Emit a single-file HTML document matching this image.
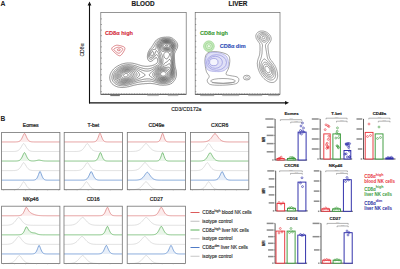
<!DOCTYPE html><html><head><meta charset="utf-8"><style>html,body{margin:0;padding:0;background:#fff;width:400px;height:269px;overflow:hidden}svg{display:block;font-family:"Liberation Sans",sans-serif}</style></head><body>
<svg width="400" height="269" viewBox="0 0 400 269">
<rect width="400" height="269" fill="#fff"/>
<text x="0.5" y="5.9" font-size="6.8" font-weight="bold" fill="#222">A</text>
<line x1="89.5" y1="4" x2="89.5" y2="103.4" stroke="#111" stroke-width="1.1"/>
<path d="M87.6 5.6 L89.5 1.6 L91.4 5.6Z" fill="#111"/>
<line x1="89" y1="102.8" x2="286" y2="102.8" stroke="#111" stroke-width="1.3"/>
<path d="M285 100.9 L289 102.8 L285 104.7Z" fill="#111"/>
<text transform="translate(83.6 50) rotate(-90)" font-size="5.1" text-anchor="middle" fill="#222" stroke="#222" stroke-width="0.1">CD8α</text>
<text x="186.3" y="111.4" font-size="5.1" text-anchor="middle" fill="#222" stroke="#222" stroke-width="0.15">CD3/CD172a</text>
<text x="143.1" y="6.3" font-size="6.4" font-weight="bold" text-anchor="middle" fill="#1a1a1a" stroke="#1a1a1a" stroke-width="0.15">BLOOD</text>
<text x="238" y="6.3" font-size="6.4" font-weight="bold" text-anchor="middle" fill="#1a1a1a" stroke="#1a1a1a" stroke-width="0.15">LIVER</text>
<rect x="100.8" y="12.4" width="85.4" height="81.9" fill="none" stroke="#6a6a6a" stroke-width="0.7"/>
<line x1="100.8" y1="94.3" x2="186.2" y2="94.3" stroke="#444" stroke-width="0.8"/>
<line x1="100.8" y1="91.7" x2="101.9" y2="91.7" stroke="#555" stroke-width="0.55"/>
<line x1="100.8" y1="86.1" x2="101.9" y2="86.1" stroke="#555" stroke-width="0.55"/>
<line x1="100.8" y1="80.5" x2="101.9" y2="80.5" stroke="#555" stroke-width="0.55"/>
<line x1="100.8" y1="74.9" x2="101.9" y2="74.9" stroke="#555" stroke-width="0.55"/>
<line x1="100.8" y1="69.3" x2="101.9" y2="69.3" stroke="#555" stroke-width="0.55"/>
<line x1="100.8" y1="63.7" x2="101.9" y2="63.7" stroke="#555" stroke-width="0.55"/>
<line x1="100.8" y1="58.1" x2="101.9" y2="58.1" stroke="#555" stroke-width="0.55"/>
<line x1="100.8" y1="52.5" x2="101.9" y2="52.5" stroke="#555" stroke-width="0.55"/>
<line x1="100.8" y1="46.9" x2="101.9" y2="46.9" stroke="#555" stroke-width="0.55"/>
<line x1="100.8" y1="41.3" x2="101.9" y2="41.3" stroke="#555" stroke-width="0.55"/>
<line x1="100.8" y1="35.7" x2="101.9" y2="35.7" stroke="#555" stroke-width="0.55"/>
<line x1="100.8" y1="30.1" x2="101.9" y2="30.1" stroke="#555" stroke-width="0.55"/>
<line x1="100.8" y1="24.5" x2="101.9" y2="24.5" stroke="#555" stroke-width="0.55"/>
<line x1="100.8" y1="18.9" x2="101.9" y2="18.9" stroke="#555" stroke-width="0.55"/>
<line x1="103.3" y1="94.3" x2="103.3" y2="93.4" stroke="#555" stroke-width="0.5"/>
<line x1="105.9" y1="94.3" x2="105.9" y2="93.4" stroke="#555" stroke-width="0.5"/>
<line x1="108.5" y1="94.3" x2="108.5" y2="93.4" stroke="#555" stroke-width="0.5"/>
<line x1="111.1" y1="94.3" x2="111.1" y2="93.4" stroke="#555" stroke-width="0.5"/>
<line x1="113.7" y1="94.3" x2="113.7" y2="93.4" stroke="#555" stroke-width="0.5"/>
<line x1="116.3" y1="94.3" x2="116.3" y2="93.4" stroke="#555" stroke-width="0.5"/>
<line x1="118.9" y1="94.3" x2="118.9" y2="93.4" stroke="#555" stroke-width="0.5"/>
<line x1="121.5" y1="94.3" x2="121.5" y2="93.4" stroke="#555" stroke-width="0.5"/>
<line x1="124.1" y1="94.3" x2="124.1" y2="93.4" stroke="#555" stroke-width="0.5"/>
<line x1="126.7" y1="94.3" x2="126.7" y2="93.4" stroke="#555" stroke-width="0.5"/>
<line x1="129.3" y1="94.3" x2="129.3" y2="93.4" stroke="#555" stroke-width="0.5"/>
<line x1="131.9" y1="94.3" x2="131.9" y2="93.4" stroke="#555" stroke-width="0.5"/>
<line x1="134.5" y1="94.3" x2="134.5" y2="93.4" stroke="#555" stroke-width="0.5"/>
<line x1="137.1" y1="94.3" x2="137.1" y2="93.4" stroke="#555" stroke-width="0.5"/>
<line x1="139.7" y1="94.3" x2="139.7" y2="93.4" stroke="#555" stroke-width="0.5"/>
<line x1="142.3" y1="94.3" x2="142.3" y2="93.4" stroke="#555" stroke-width="0.5"/>
<line x1="144.9" y1="94.3" x2="144.9" y2="93.4" stroke="#555" stroke-width="0.5"/>
<line x1="147.5" y1="94.3" x2="147.5" y2="93.4" stroke="#555" stroke-width="0.5"/>
<line x1="150.1" y1="94.3" x2="150.1" y2="93.4" stroke="#555" stroke-width="0.5"/>
<line x1="152.7" y1="94.3" x2="152.7" y2="93.4" stroke="#555" stroke-width="0.5"/>
<line x1="155.3" y1="94.3" x2="155.3" y2="93.4" stroke="#555" stroke-width="0.5"/>
<line x1="157.9" y1="94.3" x2="157.9" y2="93.4" stroke="#555" stroke-width="0.5"/>
<line x1="160.5" y1="94.3" x2="160.5" y2="93.4" stroke="#555" stroke-width="0.5"/>
<line x1="163.1" y1="94.3" x2="163.1" y2="93.4" stroke="#555" stroke-width="0.5"/>
<line x1="165.7" y1="94.3" x2="165.7" y2="93.4" stroke="#555" stroke-width="0.5"/>
<line x1="168.3" y1="94.3" x2="168.3" y2="93.4" stroke="#555" stroke-width="0.5"/>
<line x1="170.9" y1="94.3" x2="170.9" y2="93.4" stroke="#555" stroke-width="0.5"/>
<line x1="173.5" y1="94.3" x2="173.5" y2="93.4" stroke="#555" stroke-width="0.5"/>
<line x1="176.1" y1="94.3" x2="176.1" y2="93.4" stroke="#555" stroke-width="0.5"/>
<line x1="178.7" y1="94.3" x2="178.7" y2="93.4" stroke="#555" stroke-width="0.5"/>
<line x1="181.3" y1="94.3" x2="181.3" y2="93.4" stroke="#555" stroke-width="0.5"/>
<line x1="183.9" y1="94.3" x2="183.9" y2="93.4" stroke="#555" stroke-width="0.5"/>
<rect x="110.3" y="94.8" width="9.5" height="1.3" fill="#777"/>
<rect x="147.3" y="94.8" width="11.5" height="1.3" fill="#bbb"/>
<rect x="167.8" y="94.8" width="10.5" height="1.3" fill="#bbb"/>
<rect x="195.2" y="12.4" width="84.8" height="81.9" fill="none" stroke="#6a6a6a" stroke-width="0.7"/>
<line x1="195.2" y1="94.3" x2="280" y2="94.3" stroke="#444" stroke-width="0.8"/>
<line x1="195.2" y1="91.7" x2="196.3" y2="91.7" stroke="#555" stroke-width="0.55"/>
<line x1="195.2" y1="86.1" x2="196.3" y2="86.1" stroke="#555" stroke-width="0.55"/>
<line x1="195.2" y1="80.5" x2="196.3" y2="80.5" stroke="#555" stroke-width="0.55"/>
<line x1="195.2" y1="74.9" x2="196.3" y2="74.9" stroke="#555" stroke-width="0.55"/>
<line x1="195.2" y1="69.3" x2="196.3" y2="69.3" stroke="#555" stroke-width="0.55"/>
<line x1="195.2" y1="63.7" x2="196.3" y2="63.7" stroke="#555" stroke-width="0.55"/>
<line x1="195.2" y1="58.1" x2="196.3" y2="58.1" stroke="#555" stroke-width="0.55"/>
<line x1="195.2" y1="52.5" x2="196.3" y2="52.5" stroke="#555" stroke-width="0.55"/>
<line x1="195.2" y1="46.9" x2="196.3" y2="46.9" stroke="#555" stroke-width="0.55"/>
<line x1="195.2" y1="41.3" x2="196.3" y2="41.3" stroke="#555" stroke-width="0.55"/>
<line x1="195.2" y1="35.7" x2="196.3" y2="35.7" stroke="#555" stroke-width="0.55"/>
<line x1="195.2" y1="30.1" x2="196.3" y2="30.1" stroke="#555" stroke-width="0.55"/>
<line x1="195.2" y1="24.5" x2="196.3" y2="24.5" stroke="#555" stroke-width="0.55"/>
<line x1="195.2" y1="18.9" x2="196.3" y2="18.9" stroke="#555" stroke-width="0.55"/>
<line x1="197.7" y1="94.3" x2="197.7" y2="93.4" stroke="#555" stroke-width="0.5"/>
<line x1="200.3" y1="94.3" x2="200.3" y2="93.4" stroke="#555" stroke-width="0.5"/>
<line x1="202.9" y1="94.3" x2="202.9" y2="93.4" stroke="#555" stroke-width="0.5"/>
<line x1="205.5" y1="94.3" x2="205.5" y2="93.4" stroke="#555" stroke-width="0.5"/>
<line x1="208.1" y1="94.3" x2="208.1" y2="93.4" stroke="#555" stroke-width="0.5"/>
<line x1="210.7" y1="94.3" x2="210.7" y2="93.4" stroke="#555" stroke-width="0.5"/>
<line x1="213.3" y1="94.3" x2="213.3" y2="93.4" stroke="#555" stroke-width="0.5"/>
<line x1="215.9" y1="94.3" x2="215.9" y2="93.4" stroke="#555" stroke-width="0.5"/>
<line x1="218.5" y1="94.3" x2="218.5" y2="93.4" stroke="#555" stroke-width="0.5"/>
<line x1="221.1" y1="94.3" x2="221.1" y2="93.4" stroke="#555" stroke-width="0.5"/>
<line x1="223.7" y1="94.3" x2="223.7" y2="93.4" stroke="#555" stroke-width="0.5"/>
<line x1="226.3" y1="94.3" x2="226.3" y2="93.4" stroke="#555" stroke-width="0.5"/>
<line x1="228.9" y1="94.3" x2="228.9" y2="93.4" stroke="#555" stroke-width="0.5"/>
<line x1="231.5" y1="94.3" x2="231.5" y2="93.4" stroke="#555" stroke-width="0.5"/>
<line x1="234.1" y1="94.3" x2="234.1" y2="93.4" stroke="#555" stroke-width="0.5"/>
<line x1="236.7" y1="94.3" x2="236.7" y2="93.4" stroke="#555" stroke-width="0.5"/>
<line x1="239.3" y1="94.3" x2="239.3" y2="93.4" stroke="#555" stroke-width="0.5"/>
<line x1="241.9" y1="94.3" x2="241.9" y2="93.4" stroke="#555" stroke-width="0.5"/>
<line x1="244.5" y1="94.3" x2="244.5" y2="93.4" stroke="#555" stroke-width="0.5"/>
<line x1="247.1" y1="94.3" x2="247.1" y2="93.4" stroke="#555" stroke-width="0.5"/>
<line x1="249.7" y1="94.3" x2="249.7" y2="93.4" stroke="#555" stroke-width="0.5"/>
<line x1="252.3" y1="94.3" x2="252.3" y2="93.4" stroke="#555" stroke-width="0.5"/>
<line x1="254.9" y1="94.3" x2="254.9" y2="93.4" stroke="#555" stroke-width="0.5"/>
<line x1="257.5" y1="94.3" x2="257.5" y2="93.4" stroke="#555" stroke-width="0.5"/>
<line x1="260.1" y1="94.3" x2="260.1" y2="93.4" stroke="#555" stroke-width="0.5"/>
<line x1="262.7" y1="94.3" x2="262.7" y2="93.4" stroke="#555" stroke-width="0.5"/>
<line x1="265.3" y1="94.3" x2="265.3" y2="93.4" stroke="#555" stroke-width="0.5"/>
<line x1="267.9" y1="94.3" x2="267.9" y2="93.4" stroke="#555" stroke-width="0.5"/>
<line x1="270.5" y1="94.3" x2="270.5" y2="93.4" stroke="#555" stroke-width="0.5"/>
<line x1="273.1" y1="94.3" x2="273.1" y2="93.4" stroke="#555" stroke-width="0.5"/>
<line x1="275.7" y1="94.3" x2="275.7" y2="93.4" stroke="#555" stroke-width="0.5"/>
<line x1="278.3" y1="94.3" x2="278.3" y2="93.4" stroke="#555" stroke-width="0.5"/>
<rect x="200.2" y="94.8" width="14" height="1.3" fill="#aaa"/>
<rect x="222.2" y="94.8" width="17" height="1.3" fill="#bbb"/>
<rect x="248.2" y="94.8" width="14" height="1.3" fill="#bbb"/>
<rect x="268.2" y="94.8" width="11" height="1.3" fill="#bbb"/>
<path d="M125.2 87.3 124.8 87.3 124.2 87.4 123.8 87.4 123.2 87.4 122.8 87.5 122.2 87.5 121.8 87.5 121.2 87.4 120.8 87.4 120.2 87.4 119.8 87.3 119.4 87.2 119 87.2 118.5 87.1 118.1 87 117.8 86.9 117.2 86.8 117 86.7 116.5 86.5 116.2 86.4 115.8 86.2 115.5 86.1 115.2 86 114.8 85.8 114.5 85.6 114.2 85.4 114 85.2 113.6 85 113.3 84.8 113 84.5 112.8 84.3 112.5 84.1 112.2 83.8 112 83.6 111.8 83.3 111.5 83 111.3 82.8 111.2 82.5 111 82.2 110.8 81.8 110.6 81.5 110.5 81.2 110.3 80.8 110.2 80.5 110 80 110 79.8 109.9 79.2 109.8 78.8 109.8 78.4 109.7 78 109.7 77.5 109.7 77 109.8 76.8 109.8 76.2 109.9 75.8 110 75.4 110.1 75 110.2 74.5 110.3 74.2 110.5 73.8 110.6 73.5 110.8 73.2 111 72.8 111.1 72.5 111.2 72.2 111.5 71.8 111.7 71.5 111.9 71.2 112 71 112.2 70.7 112.5 70.4 112.8 70.1 113 69.8 113.2 69.5 113.5 69.2 113.7 69 114 68.8 114.2 68.5 114.5 68.3 114.8 68.1 115 67.8 115.2 67.6 115.5 67.4 115.8 67.2 116.1 67 116.5 66.8 116.8 66.6 117 66.4 117.2 66.2 117.6 66 118 65.8 118.2 65.7 118.5 65.5 119 65.3 119.2 65.1 119.6 65 120 64.8 120.2 64.7 120.8 64.5 121 64.4 121.4 64.2 121.8 64.1 122.2 64 122.5 63.9 123 63.8 123.2 63.7 123.8 63.6 124.1 63.5 124.5 63.4 125 63.3 125.4 63.2 125.8 63.2 126.2 63.1 126.8 63.1 127.2 63 127.8 63 128 63 128.5 63 129 63 129.5 63 130 63 130.2 63 130.8 63 131.2 63.1 131.8 63.1 132.2 63.2 132.6 63.2 133 63.3 133.5 63.4 133.9 63.5 134.2 63.6 134.8 63.7 135 63.8 135.5 63.9 136 64 136.2 64.1 136.8 64.2 137 64.3 137.5 64.4 137.8 64.5 138.2 64.7 138.5 64.8 139 64.9 139.3 65 139.8 65.1 140.1 65.2 140.5 65.4 141 65.5 141.2 65.6 141.8 65.7 142 65.8 142.5 65.9 143 66 143.2 66 143.8 66.1 144.2 66.2 144.8 66.2 145 66.3 145.5 66.3 146 66.3 146.5 66.3 147 66.3 147.5 66.3 148 66.3 148.2 66.2 148.8 66.2 149.2 66.1 149.8 66.1 150.1 66 150.5 65.9 151 65.8 151.3 65.8 151.8 65.6 152.2 65.5 152.5 65.4 153 65.3 153.2 65.2 153.8 65 154 64.9 154.4 64.8 154.8 64.6 155 64.5 155.4 64.2 155.8 64.1 156 63.9 156.2 63.7 156.5 63.5 156.8 63.2 157 63 157.2 62.7 157.5 62.2 157.6 62 157.7 61.5 157.7 61 157.7 60.5 157.7 60 157.6 59.5 157.5 59.1 157.4 58.8 157.2 58.5 157 58.1 156.8 57.8 156.5 57.6 156 57.6 155.7 57.8 155.3 58 155 58.2 154.8 58.5 154.5 58.8 154.3 59 154 59.2 153.8 59.5 153.5 59.7 153.2 60 153 60.2 152.8 60.4 152.5 60.6 152.2 60.8 151.8 61 151.5 61.1 151.2 61.2 150.8 61.4 150.2 61.4 149.8 61.3 149.5 61.2 149.1 61 148.8 60.8 148.6 60.5 148.4 60.2 148.2 60 148 59.6 147.8 59.2 147.7 59 147.6 58.5 147.5 58 147.5 57.8 147.4 57.2 147.4 56.8 147.4 56.2 147.4 55.8 147.5 55.2 147.5 54.9 147.6 54.5 147.7 54 147.8 53.7 147.9 53.2 148 52.9 148.1 52.5 148.2 52.2 148.4 51.8 148.5 51.5 148.8 51.1 148.9 50.8 149 50.5 149.2 50.1 149.5 49.8 149.7 49.5 149.8 49.2 150 49 150.2 48.7 150.5 48.3 150.8 48 151 47.8 151.2 47.5 151.4 47.2 151.6 47 151.8 46.8 152 46.5 152.2 46.2 152.5 45.8 152.7 45.5 152.9 45.2 153 45 153.2 44.6 153.5 44.2 153.6 44 153.8 43.7 154 43.2 154.1 43 154.3 42.8 154.5 42.4 154.7 42 154.9 41.8 155.1 41.5 155.3 41.2 155.5 41 155.8 40.8 156 40.5 156.3 40.2 156.6 40 156.9 39.8 157.2 39.5 157.5 39.3 157.8 39.1 158 39 158.5 38.8 158.8 38.6 159 38.5 159.5 38.3 159.8 38.2 160.2 38 160.5 37.9 161 37.8 161.2 37.7 161.8 37.6 162.2 37.5 162.5 37.4 163 37.4 163.5 37.3 164 37.2 164.2 37.2 164.8 37.2 165.2 37.2 165.8 37.2 166.2 37.1 166.8 37.1 167.2 37.1 167.8 37.1 168.2 37.1 168.8 37.1 169.2 37.2 169.8 37.2 170 37.3 170.5 37.4 170.8 37.5 171.2 37.6 171.5 37.8 172 38 172.2 38.1 172.5 38.3 172.8 38.5 173.2 38.8 173.5 39 173.8 39.2 174 39.4 174.2 39.6 174.5 39.8 174.8 40 175 40.3 175.2 40.5 175.5 40.8 175.8 41.1 176 41.4 176.2 41.7 176.5 42 176.6 42.2 176.8 42.5 177 42.9 177.2 43.2 177.3 43.5 177.4 44 177.5 44.2 177.6 44.8 177.7 45.2 177.7 45.8 177.7 46.2 177.6 46.8 177.5 47.2 177.5 47.5 177.3 48 177.2 48.2 177 48.7 176.8 49 176.7 49.2 176.5 49.6 176.3 50 176.1 50.2 176 50.5 175.8 50.8 175.5 51.2 175.4 51.5 175.2 51.8 175.1 52.2 175 52.5 174.8 53 174.7 53.2 174.6 53.8 174.6 54.2 174.5 54.7 174.5 55 174.5 55.5 174.5 56 174.5 56.5 174.5 57 174.5 57.5 174.5 58 174.5 58.3 174.5 58.8 174.5 59.2 174.6 59.8 174.6 60.2 174.6 60.8 174.6 61.2 174.7 61.8 174.7 62.2 174.7 62.8 174.8 63 174.8 63.5 174.8 64 174.9 64.5 175 65 175 65.3 175.1 65.8 175.2 66.2 175.2 66.7 175.3 67 175.4 67.5 175.5 67.9 175.6 68.2 175.7 68.8 175.8 69 175.9 69.5 176 70 176.1 70.2 176.2 70.8 176.2 71.2 176.3 71.5 176.4 72 176.4 72.5 176.5 73 176.5 73.5 176.5 74 176.5 74.5 176.4 75 176.4 75.5 176.3 76 176.2 76.2 176.1 76.8 176 77.1 175.9 77.5 175.8 77.8 175.6 78.2 175.5 78.5 175.2 78.9 175.1 79.2 175 79.5 174.8 79.9 174.5 80.2 174.3 80.5 174.2 80.8 174 81 173.8 81.3 173.5 81.6 173.2 81.9 173 82.2 172.8 82.4 172.5 82.7 172.2 82.9 172 83.1 171.8 83.3 171.4 83.5 171 83.7 170.8 83.9 170.4 84 170 84.2 169.8 84.3 169.2 84.4 168.9 84.5 168.5 84.6 168 84.7 167.7 84.8 167.2 84.8 166.8 84.9 166.2 85 165.9 85 165.5 85.1 165 85.1 164.5 85.1 164 85.2 163.5 85.2 163 85.2 162.5 85.2 162 85.2 161.5 85.1 161 85.1 160.5 85.1 160.1 85 159.8 85 159.2 84.9 158.8 84.8 158.5 84.7 158 84.6 157.5 84.5 157.2 84.5 156.8 84.4 156.2 84.3 156 84.2 155.5 84.1 155 84 154.8 83.9 154.2 83.8 153.8 83.8 153.5 83.7 153 83.6 152.5 83.6 152 83.5 151.8 83.5 151.2 83.5 150.8 83.4 150.2 83.4 149.8 83.4 149.2 83.4 148.8 83.4 148.2 83.5 147.8 83.5 147.4 83.5 147 83.5 146.5 83.6 146 83.6 145.5 83.6 145 83.7 144.5 83.7 144 83.7 143.7 83.8 143.2 83.8 142.8 83.8 142.2 83.9 141.8 83.9 141.2 84 141 84 140.5 84.1 140 84.1 139.5 84.2 139 84.2 138.8 84.3 138.2 84.4 137.8 84.4 137.4 84.5 137 84.6 136.5 84.7 136.2 84.8 135.8 84.8 135.2 85 135 85 134.5 85.1 134 85.2 133.8 85.3 133.2 85.4 133 85.5 132.5 85.6 132.1 85.8 131.8 85.8 131.2 86 131 86 130.5 86.2 130.2 86.2 129.8 86.4 129.2 86.5 129 86.5 128.5 86.7 128.1 86.8 127.8 86.8 127.2 86.9 126.9 87 126.5 87.1 126 87.2 125.5 87.2 125.2 87.3" fill="none" stroke="#333" stroke-width="0.55"/>
<path d="M123.8 85.8 123.2 85.8 122.8 85.8 122.2 85.8 121.8 85.8 121.5 85.7 121 85.7 120.5 85.6 120 85.6 119.7 85.5 119.2 85.4 118.8 85.3 118.5 85.2 118 85.1 117.8 85 117.2 84.8 117 84.7 116.7 84.5 116.2 84.3 116 84.2 115.7 84 115.4 83.8 115 83.5 114.8 83.3 114.5 83.1 114.2 82.9 114 82.6 113.8 82.3 113.5 82 113.3 81.8 113.1 81.5 112.9 81.2 112.8 80.9 112.5 80.5 112.4 80.2 112.2 79.8 112.2 79.5 112 79 112 78.8 111.9 78.2 111.9 77.8 111.9 77.2 111.9 76.8 111.9 76.2 112 75.8 112.1 75.5 112.2 75 112.3 74.8 112.4 74.2 112.5 74 112.7 73.5 112.9 73.2 113 73 113.2 72.5 113.4 72.2 113.6 72 113.8 71.8 114 71.4 114.2 71.1 114.5 70.8 114.7 70.5 115 70.2 115.2 70 115.4 69.8 115.7 69.5 116 69.2 116.2 69 116.5 68.8 116.8 68.6 117 68.4 117.2 68.2 117.6 68 117.9 67.8 118.2 67.6 118.5 67.4 118.8 67.2 119.2 67 119.5 66.8 119.8 66.7 120.2 66.5 120.5 66.4 120.8 66.2 121.2 66 121.5 65.9 122 65.8 122.2 65.7 122.8 65.5 123 65.4 123.5 65.3 123.8 65.2 124.2 65.1 124.8 65 125 65 125.5 64.9 126 64.8 126.5 64.8 126.8 64.7 127.2 64.7 127.8 64.7 128.2 64.6 128.8 64.6 129.2 64.7 129.8 64.7 130.2 64.7 130.6 64.8 131 64.8 131.5 64.9 132 64.9 132.3 65 132.8 65.1 133.2 65.2 133.5 65.2 134 65.4 134.5 65.5 134.8 65.6 135.2 65.7 135.5 65.8 136 66 136.2 66.1 136.8 66.2 137 66.3 137.5 66.5 137.8 66.6 138.2 66.8 138.5 66.9 138.8 67 139.2 67.2 139.5 67.3 140 67.4 140.2 67.5 140.8 67.7 141 67.8 141.5 67.9 141.8 68 142.2 68.1 142.6 68.2 143 68.3 143.5 68.5 143.8 68.5 144.2 68.6 144.8 68.7 145.2 68.7 145.5 68.8 146 68.8 146.5 68.8 147 68.9 147.5 68.9 148 68.8 148.5 68.8 148.9 68.8 149.2 68.7 149.8 68.6 150.2 68.5 150.5 68.4 151 68.3 151.2 68.2 151.7 68 152 67.9 152.3 67.8 152.8 67.6 153 67.4 153.4 67.2 153.8 67.1 154 67 154.4 66.8 154.8 66.6 155 66.4 155.4 66.2 155.8 66 156 65.9 156.3 65.8 156.7 65.5 157 65.3 157.2 65.1 157.5 64.9 157.8 64.7 158 64.5 158.2 64.2 158.5 63.9 158.8 63.5 158.9 63.2 159 63 159.2 62.5 159.2 62 159.3 61.8 159.3 61.2 159.3 60.8 159.2 60.3 159.2 60 159.1 59.5 159 59 159 58.8 158.9 58.2 158.8 57.9 158.6 57.5 158.5 57.1 158.4 56.8 158.2 56.4 158.1 56 157.9 55.8 157.8 55.4 157.5 55.1 157.2 54.8 157 54.7 156.5 54.6 156.2 54.8 155.9 55 155.6 55.2 155.4 55.5 155.2 55.8 155 56 154.8 56.3 154.5 56.7 154.2 57 154 57.2 153.8 57.5 153.6 57.8 153.3 58 153 58.2 152.8 58.5 152.5 58.7 152.2 58.8 152 59 151.5 59.2 151.2 59.3 150.8 59.3 150.4 59.2 150 59.1 149.8 59 149.5 58.8 149.2 58.5 149 58.1 148.9 57.8 148.8 57.4 148.6 57 148.6 56.5 148.5 56 148.5 55.5 148.6 55 148.7 54.5 148.8 54 148.8 53.8 149 53.2 149 53 149.2 52.5 149.3 52.2 149.5 51.9 149.7 51.5 149.9 51.2 150 51 150.2 50.6 150.5 50.3 150.7 50 150.9 49.8 151.1 49.5 151.4 49.2 151.6 49 151.9 48.8 152.2 48.5 152.5 48.2 152.8 48 153 47.8 153.2 47.6 153.5 47.4 153.8 47.2 154 46.9 154.2 46.5 154.4 46.2 154.6 46 154.8 45.6 154.9 45.2 155 45 155.2 44.5 155.3 44.2 155.5 43.9 155.7 43.5 155.8 43.2 156 42.9 156.2 42.5 156.4 42.2 156.6 42 156.8 41.8 157 41.5 157.3 41.2 157.5 41 157.8 40.8 158.1 40.5 158.4 40.2 158.8 40.1 159 39.9 159.3 39.8 159.7 39.5 160 39.4 160.3 39.2 160.8 39.1 161 39 161.5 38.8 161.8 38.8 162.2 38.6 162.8 38.5 163 38.5 163.5 38.4 164 38.4 164.5 38.3 165 38.3 165.5 38.3 166 38.3 166.5 38.3 167 38.3 167.5 38.3 168 38.3 168.5 38.3 169 38.4 169.5 38.4 169.8 38.5 170.2 38.6 170.7 38.8 171 38.9 171.3 39 171.8 39.2 172 39.4 172.2 39.5 172.6 39.8 172.9 40 173.2 40.2 173.5 40.5 173.8 40.7 174 41 174.2 41.2 174.5 41.5 174.7 41.8 174.9 42 175.1 42.2 175.2 42.6 175.5 43 175.6 43.2 175.8 43.5 175.9 44 176 44.2 176.1 44.8 176.2 45.2 176.2 45.8 176.2 46.2 176.1 46.8 176 47.2 176 47.5 175.8 48 175.7 48.2 175.5 48.7 175.4 49 175.2 49.2 175 49.7 174.9 50 174.7 50.2 174.5 50.7 174.4 51 174.2 51.3 174.1 51.8 174 52 173.8 52.5 173.8 52.8 173.7 53.2 173.6 53.8 173.5 54.2 173.5 54.8 173.5 55 173.5 55.5 173.5 56 173.5 56.2 173.5 56.8 173.5 57.2 173.6 57.8 173.6 58.2 173.6 58.8 173.6 59.2 173.7 59.8 173.7 60.2 173.7 60.8 173.7 61.2 173.8 61.5 173.8 62 173.8 62.5 173.8 63 173.9 63.5 173.9 64 173.9 64.5 174 65 174 65.2 174.1 65.8 174.1 66.2 174.2 66.8 174.2 67 174.3 67.5 174.4 68 174.5 68.5 174.5 68.8 174.6 69.2 174.7 69.8 174.8 70 174.8 70.5 174.9 71 175 71.5 175 71.8 175.1 72.2 175.1 72.8 175.1 73.2 175.1 73.8 175.1 74.2 175 74.8 175 75 174.9 75.5 174.8 76 174.7 76.2 174.6 76.8 174.5 77.1 174.3 77.5 174.2 77.8 174 78.2 173.9 78.5 173.8 78.8 173.5 79.2 173.3 79.5 173.2 79.8 173 80 172.8 80.3 172.5 80.6 172.2 80.9 172 81.1 171.8 81.3 171.5 81.5 171.2 81.8 170.9 82 170.5 82.2 170.2 82.3 169.9 82.5 169.5 82.7 169.2 82.8 168.8 82.9 168.5 83 168 83.1 167.5 83.2 167.2 83.3 166.8 83.4 166.2 83.5 166 83.5 165.5 83.6 165 83.6 164.5 83.7 164 83.7 163.5 83.7 163 83.7 162.5 83.7 162 83.7 161.5 83.7 161 83.6 160.5 83.6 160.2 83.5 159.8 83.4 159.2 83.3 158.9 83.2 158.5 83.2 158 83 157.8 83 157.2 82.8 157 82.8 156.5 82.6 156.2 82.5 155.8 82.4 155.3 82.2 155 82.1 154.5 82 154.2 81.9 153.8 81.8 153.5 81.7 153 81.6 152.7 81.5 152.2 81.4 151.8 81.3 151.4 81.2 151 81.2 150.5 81.1 150 81.1 149.5 81.1 149 81.1 148.5 81.1 148 81.1 147.5 81.1 147 81.1 146.5 81.2 146 81.2 145.5 81.2 145.2 81.3 144.8 81.3 144.2 81.4 143.8 81.4 143.2 81.5 143 81.5 142.5 81.6 142 81.6 141.5 81.7 141.1 81.8 140.8 81.8 140.2 81.9 139.8 82 139.5 82 139 82.1 138.5 82.2 138.2 82.3 137.8 82.4 137.3 82.5 137 82.6 136.5 82.7 136.2 82.8 135.8 82.9 135.4 83 135 83.1 134.5 83.2 134.2 83.3 133.8 83.5 133.5 83.6 133 83.7 132.8 83.8 132.2 83.9 132 84 131.5 84.2 131.2 84.2 130.8 84.4 130.4 84.5 130 84.6 129.5 84.7 129.2 84.8 128.8 84.9 128.5 85 128 85.1 127.5 85.2 127.2 85.3 126.8 85.4 126.2 85.5 126 85.5 125.5 85.6 125 85.6 124.5 85.7 124 85.7 123.8 85.8" fill="none" stroke="#333" stroke-width="0.55"/>
<path d="M124.2 84.5 123.8 84.5 123.2 84.5 122.8 84.5 122.2 84.5 121.9 84.5 121.5 84.5 121 84.4 120.5 84.3 120.1 84.2 119.8 84.2 119.2 84 119 83.9 118.5 83.8 118.2 83.7 117.9 83.5 117.5 83.3 117.2 83.2 116.9 83 116.5 82.8 116.2 82.6 116 82.4 115.8 82.1 115.5 81.9 115.2 81.7 115 81.4 114.8 81.1 114.5 80.8 114.4 80.5 114.2 80.2 114 79.8 113.9 79.5 113.8 79.1 113.6 78.8 113.5 78.2 113.5 78 113.4 77.5 113.4 77 113.5 76.5 113.5 76.1 113.6 75.8 113.7 75.2 113.8 74.9 113.9 74.5 114 74.2 114.2 73.8 114.3 73.5 114.5 73.1 114.7 72.8 114.9 72.5 115 72.2 115.2 72 115.5 71.6 115.8 71.3 116 71 116.2 70.8 116.5 70.5 116.8 70.3 117 70 117.2 69.8 117.5 69.6 117.8 69.4 118 69.2 118.3 69 118.6 68.8 119 68.5 119.2 68.4 119.5 68.2 119.9 68 120.2 67.8 120.5 67.7 120.8 67.5 121.2 67.3 121.5 67.2 122 67 122.2 66.9 122.8 66.8 123 66.7 123.5 66.5 123.8 66.5 124.2 66.3 124.6 66.2 125 66.2 125.5 66.1 126 66 126.2 66 126.8 65.9 127.2 65.9 127.8 65.9 128.2 65.9 128.8 65.9 129.2 65.9 129.8 65.9 130.2 66 130.5 66 131 66.1 131.5 66.2 131.9 66.2 132.2 66.3 132.8 66.4 133 66.5 133.5 66.6 133.9 66.8 134.2 66.9 134.6 67 135 67.1 135.3 67.2 135.8 67.4 136 67.5 136.5 67.7 136.8 67.8 137.1 68 137.5 68.2 137.8 68.3 138.2 68.5 138.5 68.6 138.8 68.8 139.2 69 139.5 69.1 139.9 69.2 140.2 69.4 140.5 69.5 141 69.7 141.2 69.8 141.7 70 142 70.1 142.4 70.2 142.8 70.4 143.2 70.5 143.5 70.6 144 70.7 144.2 70.8 144.8 70.9 145.2 71 145.5 71 146 71.1 146.5 71.1 147 71.1 147.5 71.1 148 71.1 148.5 71 148.8 71 149.2 70.9 149.7 70.8 150 70.6 150.4 70.5 150.8 70.3 151 70.2 151.5 70 151.8 69.9 152 69.7 152.4 69.5 152.8 69.3 153 69.1 153.2 69 153.6 68.8 154 68.5 154.2 68.4 154.5 68.2 154.8 68 155.2 67.8 155.5 67.6 155.8 67.4 156.1 67.2 156.5 67 156.8 66.8 157 66.7 157.3 66.5 157.7 66.2 158 66 158.2 65.9 158.5 65.7 158.8 65.5 159 65.2 159.2 65 159.5 64.7 159.8 64.3 159.9 64 160.1 63.8 160.2 63.3 160.3 63 160.4 62.5 160.5 62 160.5 61.5 160.5 61 160.4 60.5 160.4 60 160.3 59.5 160.2 59.2 160.1 58.8 160 58.2 160 58 159.8 57.5 159.8 57.2 159.6 56.8 159.5 56.3 159.4 56 159.2 55.5 159.2 55.2 159 54.8 158.9 54.5 158.8 54.1 158.6 53.8 158.5 53.5 158.3 53 158.2 52.8 158 52.4 157.8 52 157.6 51.8 157.4 51.5 157.2 51.2 157 51 156.7 50.8 156.2 50.6 156 50.8 155.8 51.2 155.7 51.5 155.6 52 155.5 52.2 155.3 52.8 155.2 53 155 53.5 154.9 53.8 154.8 54.1 154.6 54.5 154.4 54.8 154.2 55.1 154 55.5 153.8 55.8 153.7 56 153.5 56.2 153.2 56.5 153 56.8 152.8 57 152.4 57.2 152 57.5 151.8 57.6 151.2 57.7 150.8 57.7 150.4 57.5 150.1 57.2 150 57 149.8 56.6 149.7 56.2 149.6 55.8 149.5 55.2 149.6 54.8 149.6 54.2 149.8 53.8 149.8 53.5 150 53 150.1 52.8 150.2 52.5 150.5 52 150.6 51.8 150.8 51.5 151 51.2 151.2 51 151.5 50.7 151.8 50.5 152 50.2 152.4 50 152.8 49.8 153 49.7 153.5 49.5 153.8 49.4 154.2 49.4 154.8 49.4 155.2 49.4 155.7 49.2 155.8 49 155.9 48.5 156 48 156 47.8 156.1 47.2 156.1 46.8 156.2 46.2 156.2 45.9 156.3 45.5 156.4 45 156.5 44.8 156.7 44.2 156.8 44 157 43.5 157.1 43.2 157.3 43 157.5 42.6 157.8 42.3 158 42 158.2 41.8 158.5 41.5 158.8 41.3 159 41.1 159.2 40.9 159.5 40.7 159.8 40.5 160.2 40.3 160.5 40.1 160.8 40 161.2 39.8 161.5 39.7 162 39.6 162.3 39.5 162.8 39.4 163.2 39.3 163.5 39.2 164 39.2 164.5 39.1 165 39.1 165.5 39.1 166 39.1 166.5 39.1 167 39.1 167.5 39.1 168 39.1 168.5 39.2 169 39.2 169.2 39.3 169.8 39.4 170.2 39.5 170.5 39.6 170.9 39.8 171.2 39.9 171.5 40.1 171.8 40.2 172.2 40.5 172.5 40.7 172.8 41 173 41.2 173.2 41.4 173.5 41.7 173.8 42 173.9 42.2 174.1 42.5 174.3 42.8 174.5 43.1 174.7 43.5 174.8 43.8 175 44.2 175 44.5 175.1 45 175.2 45.5 175.2 46 175.2 46.5 175.1 47 175 47.3 174.9 47.8 174.8 48.1 174.6 48.5 174.5 48.8 174.3 49.2 174.2 49.5 174 49.8 173.8 50.2 173.7 50.5 173.5 51 173.4 51.2 173.2 51.6 173.1 52 173 52.4 172.9 52.8 172.8 53.2 172.8 53.7 172.7 54 172.7 54.5 172.7 55 172.7 55.5 172.7 56 172.7 56.5 172.8 56.8 172.8 57.2 172.8 57.8 172.9 58.2 172.9 58.8 172.9 59.2 173 59.8 173 60.2 173 60.6 173 61 173 61.5 173.1 62 173.1 62.5 173.1 63 173.2 63.5 173.2 64 173.2 64.5 173.2 64.8 173.3 65.2 173.3 65.8 173.4 66.2 173.4 66.8 173.5 67.2 173.5 67.5 173.6 68 173.7 68.5 173.8 68.9 173.8 69.2 173.9 69.8 173.9 70.2 174 70.7 174 71 174.1 71.5 174.1 72 174.2 72.5 174.2 73 174.2 73.5 174.1 74 174.1 74.5 174 75 174 75.2 173.9 75.8 173.8 76.2 173.6 76.5 173.5 76.9 173.4 77.2 173.2 77.5 173 78 172.9 78.2 172.7 78.5 172.5 78.9 172.2 79.2 172 79.5 171.8 79.8 171.6 80 171.3 80.2 171 80.5 170.8 80.7 170.5 80.9 170.2 81 169.9 81.2 169.5 81.4 169.2 81.5 168.8 81.7 168.5 81.8 168 82 167.8 82 167.2 82.2 166.8 82.2 166.5 82.3 166 82.4 165.5 82.5 165.2 82.5 164.8 82.6 164.2 82.7 163.8 82.7 163.2 82.7 162.8 82.7 162.2 82.7 161.8 82.6 161.2 82.6 160.8 82.5 160.5 82.5 160 82.4 159.5 82.3 159.2 82.2 158.8 82.1 158.5 82 158 81.8 157.7 81.8 157.2 81.6 157 81.5 156.5 81.3 156.2 81.2 155.8 81 155.5 80.9 155.1 80.8 154.8 80.6 154.5 80.5 154 80.3 153.8 80.2 153.3 80 153 79.9 152.7 79.8 152.2 79.6 151.9 79.5 151.5 79.4 151.1 79.2 150.8 79.2 150.2 79.1 150 79 149.5 78.9 149 78.9 148.5 78.9 148 78.9 147.5 78.9 147 78.9 146.5 78.9 146 79 145.8 79 145.2 79.1 144.8 79.1 144.2 79.2 144 79.3 143.5 79.3 143 79.4 142.6 79.5 142.2 79.6 141.8 79.7 141.5 79.8 141 79.9 140.5 80 140.2 80 139.8 80.2 139.4 80.2 139 80.4 138.6 80.5 138.2 80.6 137.8 80.7 137.5 80.8 137 81 136.8 81.1 136.2 81.2 136 81.3 135.5 81.5 135.2 81.6 134.8 81.7 134.5 81.8 134 82 133.8 82.1 133.3 82.2 133 82.4 132.6 82.5 132.2 82.6 131.8 82.8 131.5 82.9 131.1 83 130.8 83.1 130.3 83.2 130 83.3 129.5 83.5 129.2 83.6 128.8 83.7 128.5 83.8 128 83.9 127.6 84 127.2 84.1 126.8 84.2 126.3 84.2 126 84.3 125.5 84.4 125 84.4 124.5 84.5 124.2 84.5" fill="none" stroke="#333" stroke-width="0.55"/>
<path d="M164.5 81.8 164 81.8 163.5 81.8 163 81.8 162.5 81.8 162 81.8 161.7 81.8 161.2 81.7 160.8 81.6 160.2 81.5 160 81.5 159.5 81.3 159.2 81.2 158.8 81.1 158.5 81 158 80.8 157.8 80.7 157.2 80.5 157 80.4 156.6 80.2 156.2 80.1 156 79.9 155.7 79.8 155.2 79.5 155 79.4 154.8 79.2 154.3 79 154 78.8 153.8 78.6 153.5 78.5 153.1 78.2 152.8 78 152.5 77.8 152.2 77.7 152 77.5 151.6 77.2 151.3 77 151 76.8 150.8 76.6 150.5 76.4 150.2 76.2 150 76 149.7 75.8 149.5 75.5 149.3 75 149.4 74.5 149.5 74.2 149.8 73.9 150 73.6 150.2 73.4 150.5 73.1 150.8 72.9 151 72.6 151.2 72.4 151.5 72.2 151.8 71.9 152 71.7 152.2 71.5 152.5 71.2 152.8 71 153.1 70.8 153.4 70.5 153.7 70.2 154 70 154.2 69.8 154.5 69.6 154.8 69.4 155 69.2 155.3 69 155.6 68.8 156 68.5 156.2 68.3 156.5 68.2 156.8 68 157.1 67.8 157.5 67.5 157.8 67.4 158 67.2 158.3 67 158.7 66.8 159 66.5 159.2 66.3 159.5 66.1 159.8 65.9 160 65.7 160.2 65.4 160.5 65.1 160.8 64.8 160.9 64.5 161.1 64.2 161.2 63.8 161.4 63.5 161.5 63 161.5 62.8 161.6 62.2 161.6 61.8 161.6 61.2 161.6 60.8 161.5 60.2 161.5 60 161.4 59.5 161.3 59 161.2 58.6 161.2 58.2 161.1 57.8 161 57.5 160.9 57 160.8 56.6 160.7 56.2 160.5 55.8 160.4 55.5 160.3 55 160.2 54.8 160.1 54.2 160 54 159.8 53.5 159.7 53.2 159.6 52.8 159.5 52.5 159.3 52 159.2 51.8 159 51.3 158.9 51 158.8 50.7 158.5 50.2 158.4 50 158.2 49.6 158.1 49.2 158 49 157.8 48.5 157.8 48.2 157.6 47.8 157.5 47.2 157.5 47 157.4 46.5 157.4 46 157.5 45.5 157.5 45.2 157.6 44.8 157.7 44.2 157.8 44 158 43.6 158.2 43.2 158.3 43 158.5 42.8 158.8 42.4 159 42.2 159.2 41.9 159.5 41.7 159.8 41.5 160.1 41.2 160.5 41 160.8 40.9 161 40.7 161.5 40.5 161.8 40.4 162.2 40.2 162.5 40.2 163 40 163.2 40 163.8 39.9 164.2 39.8 164.8 39.8 165 39.7 165.5 39.7 166 39.7 166.5 39.7 167 39.7 167.3 39.8 167.8 39.8 168.2 39.8 168.8 39.9 169.2 40 169.5 40 170 40.2 170.2 40.3 170.8 40.5 171 40.6 171.3 40.8 171.7 41 172 41.2 172.2 41.5 172.5 41.7 172.8 41.9 173 42.2 173.2 42.5 173.4 42.8 173.6 43 173.8 43.3 174 43.8 174.1 44 174.2 44.5 174.3 44.8 174.4 45.2 174.4 45.8 174.4 46.2 174.3 46.8 174.2 47.2 174.2 47.5 174 48 173.9 48.2 173.8 48.7 173.6 49 173.5 49.3 173.3 49.8 173.2 50 173 50.3 172.8 50.8 172.7 51 172.5 51.4 172.4 51.8 172.2 52.1 172.1 52.5 172 53 171.9 53.2 171.9 53.8 171.8 54.2 171.8 54.8 171.9 55.2 171.9 55.8 171.9 56.2 172 56.8 172 57 172.1 57.5 172.1 58 172.2 58.5 172.2 59 172.2 59.5 172.3 59.8 172.3 60.2 172.3 60.8 172.4 61.2 172.4 61.8 172.4 62.2 172.5 62.8 172.5 63.2 172.5 63.5 172.6 64 172.6 64.5 172.6 65 172.7 65.5 172.7 66 172.8 66.4 172.8 66.8 172.9 67.2 172.9 67.8 173 68.2 173 68.5 173.1 69 173.1 69.5 173.2 70 173.2 70.3 173.3 70.8 173.3 71.2 173.4 71.8 173.4 72.2 173.4 72.8 173.4 73.2 173.4 73.8 173.3 74.2 173.3 74.8 173.2 75 173.1 75.5 173 75.9 172.9 76.2 172.8 76.6 172.6 77 172.5 77.2 172.2 77.7 172.1 78 171.9 78.2 171.7 78.5 171.5 78.8 171.2 79 171 79.3 170.8 79.5 170.5 79.8 170.1 80 169.8 80.2 169.5 80.4 169.2 80.5 168.8 80.7 168.5 80.8 168 81 167.8 81.1 167.2 81.2 167 81.3 166.5 81.4 166.1 81.5 165.8 81.6 165.2 81.7 164.8 81.7 164.5 81.8" fill="none" stroke="#333" stroke-width="0.55"/>
<path d="M152.2 55.8 151.8 56 151.2 55.9 151 55.7 150.8 55.2 150.7 55 150.7 54.5 150.8 54.1 150.8 53.8 151 53.3 151.1 53 151.3 52.8 151.5 52.4 151.8 52.2 152 51.9 152.3 51.8 152.8 51.6 153.2 51.7 153.5 52 153.6 52.2 153.7 52.8 153.7 53.2 153.6 53.8 153.5 54 153.3 54.5 153.1 54.8 153 55 152.8 55.3 152.5 55.6 152.2 55.8" fill="none" stroke="#333" stroke-width="0.55"/>
<path d="M124 83.5 123.5 83.5 123 83.5 122.6 83.5 122.2 83.5 121.8 83.4 121.2 83.4 120.8 83.3 120.5 83.2 120 83.1 119.8 83 119.2 82.8 119 82.7 118.5 82.5 118.2 82.4 118 82.2 117.6 82 117.3 81.8 117 81.5 116.8 81.3 116.5 81.1 116.2 80.8 116 80.5 115.8 80.2 115.6 80 115.5 79.8 115.2 79.3 115.1 79 115 78.6 114.9 78.2 114.8 77.8 114.8 77.2 114.7 77 114.8 76.6 114.8 76.2 114.8 75.8 115 75.2 115 75 115.2 74.5 115.3 74.2 115.5 73.8 115.6 73.5 115.8 73.2 116 72.9 116.2 72.5 116.4 72.2 116.6 72 116.8 71.8 117 71.5 117.3 71.2 117.5 71 117.8 70.8 118 70.5 118.3 70.2 118.6 70 119 69.8 119.2 69.6 119.5 69.4 119.8 69.2 120.1 69 120.5 68.8 120.8 68.6 121 68.5 121.5 68.3 121.8 68.2 122.2 68 122.5 67.9 122.9 67.8 123.2 67.6 123.6 67.5 124 67.4 124.5 67.3 124.8 67.2 125.2 67.1 125.8 67.1 126.2 67 126.5 67 127 66.9 127.5 66.9 128 66.9 128.5 66.9 129 66.9 129.5 67 129.9 67 130.2 67 130.8 67.1 131.2 67.2 131.5 67.3 132 67.4 132.4 67.5 132.8 67.6 133.2 67.8 133.5 67.9 133.9 68 134.2 68.1 134.5 68.2 135 68.5 135.2 68.6 135.6 68.8 136 68.9 136.2 69.1 136.6 69.2 137 69.5 137.2 69.6 137.5 69.8 138 70 138.2 70.2 138.5 70.3 138.8 70.5 139.2 70.8 139.5 70.9 139.8 71.1 140 71.2 140.4 71.5 140.8 71.7 141 71.9 141.2 72 141.6 72.2 142 72.5 142.2 72.6 142.5 72.8 142.8 73 143.2 73.2 143.5 73.4 143.8 73.6 144 73.8 144.3 74 144.6 74.2 144.8 74.5 145 74.8 145 75.2 144.9 75.5 144.6 75.8 144.3 76 144 76.2 143.8 76.3 143.5 76.5 143 76.8 142.8 76.9 142.5 77 142 77.2 141.8 77.4 141.5 77.5 141 77.7 140.8 77.8 140.4 78 140 78.2 139.8 78.3 139.2 78.5 139 78.6 138.7 78.8 138.2 78.9 138 79 137.5 79.2 137.2 79.4 137 79.5 136.5 79.7 136.2 79.8 135.8 80 135.5 80.1 135.2 80.2 134.8 80.4 134.5 80.6 134 80.8 133.8 80.9 133.4 81 133 81.2 132.8 81.3 132.2 81.5 132 81.6 131.5 81.8 131.2 81.9 130.8 82 130.5 82.1 130.1 82.2 129.8 82.4 129.3 82.5 129 82.6 128.5 82.7 128.2 82.8 127.8 82.9 127.5 83 127 83.1 126.5 83.2 126.2 83.3 125.8 83.3 125.2 83.4 124.8 83.5 124.2 83.5 124 83.5" fill="none" stroke="#333" stroke-width="0.55"/>
<path d="M164.2 81 163.8 81.1 163.2 81.1 162.8 81.1 162.2 81 161.9 81 161.5 81 161 80.9 160.5 80.8 160.2 80.7 159.8 80.6 159.5 80.5 159 80.3 158.8 80.2 158.2 80 158 79.9 157.7 79.8 157.2 79.5 157 79.4 156.7 79.2 156.3 79 156 78.8 155.8 78.6 155.5 78.4 155.2 78.2 154.9 78 154.7 77.8 154.4 77.5 154.1 77.2 153.9 77 153.7 76.8 153.5 76.5 153.2 76.1 153 75.8 152.9 75.5 152.8 75 152.8 74.5 152.8 74 152.9 73.5 153 73.2 153.2 72.8 153.4 72.5 153.6 72.2 153.8 72 154 71.7 154.2 71.4 154.5 71.1 154.8 70.8 155 70.5 155.2 70.3 155.5 70.1 155.8 69.9 156 69.6 156.2 69.4 156.5 69.2 156.8 69 157.2 68.8 157.5 68.5 157.8 68.4 158 68.2 158.3 68 158.7 67.8 159 67.5 159.2 67.4 159.5 67.2 159.8 67 160.2 66.8 160.5 66.5 160.8 66.3 161 66 161.2 65.8 161.5 65.5 161.7 65.2 161.9 65 162.1 64.8 162.2 64.4 162.4 64 162.5 63.8 162.7 63.2 162.8 62.9 162.8 62.5 162.9 62 162.9 61.5 163 61 163 60.5 163 60 162.9 59.5 162.9 59 162.9 58.5 162.8 58 162.8 57.5 162.7 57.2 162.6 56.8 162.5 56.3 162.4 56 162.2 55.6 162.1 55.2 162 54.9 161.8 54.5 161.7 54.2 161.5 53.8 161.4 53.5 161.2 53.2 161 52.8 160.9 52.5 160.7 52.2 160.5 51.8 160.4 51.5 160.2 51.2 160 50.8 159.9 50.5 159.7 50.2 159.5 49.8 159.4 49.5 159.2 49.2 159.1 48.8 159 48.5 158.8 48 158.7 47.8 158.6 47.2 158.5 47 158.4 46.5 158.4 46 158.4 45.5 158.5 45 158.5 44.8 158.6 44.2 158.8 44 159 43.5 159.1 43.2 159.3 43 159.5 42.8 159.8 42.5 160 42.2 160.3 42 160.6 41.8 161 41.5 161.2 41.4 161.5 41.2 162 41 162.2 40.9 162.7 40.8 163 40.7 163.5 40.5 163.8 40.5 164.2 40.4 164.8 40.4 165.2 40.3 165.8 40.3 166.2 40.3 166.8 40.3 167.2 40.3 167.8 40.4 168.2 40.4 168.7 40.5 169 40.6 169.5 40.7 169.8 40.8 170.2 41 170.5 41.1 170.9 41.2 171.2 41.5 171.5 41.7 171.8 41.9 172 42.1 172.2 42.3 172.5 42.6 172.8 42.9 173 43.2 173.1 43.5 173.2 43.8 173.4 44.2 173.5 44.5 173.6 45 173.7 45.5 173.7 46 173.7 46.5 173.6 47 173.5 47.5 173.4 47.8 173.2 48.2 173.1 48.5 173 48.8 172.8 49.2 172.7 49.5 172.5 49.9 172.3 50.2 172.2 50.5 172 50.8 171.8 51.2 171.6 51.5 171.5 51.8 171.2 52.2 171.1 52.5 170.9 52.8 170.8 53.1 170.6 53.5 170.5 53.8 170.3 54.2 170.3 54.8 170.5 55.2 170.6 55.5 170.7 56 170.8 56.2 171 56.8 171 57 171.1 57.5 171.2 58 171.3 58.2 171.4 58.8 171.5 59.2 171.5 59.6 171.6 60 171.6 60.5 171.7 61 171.7 61.5 171.8 62 171.8 62.2 171.8 62.8 171.8 63.2 171.9 63.8 171.9 64.2 172 64.8 172 65.1 172 65.5 172.1 66 172.1 66.5 172.2 67 172.2 67.5 172.3 67.8 172.3 68.2 172.4 68.8 172.5 69.2 172.5 69.5 172.6 70 172.6 70.5 172.7 71 172.7 71.5 172.8 72 172.8 72.2 172.8 72.8 172.8 73.1 172.7 73.5 172.7 74 172.6 74.5 172.5 75 172.4 75.2 172.3 75.8 172.2 76 172 76.5 171.9 76.8 171.8 77 171.5 77.4 171.3 77.8 171.1 78 170.9 78.2 170.7 78.5 170.4 78.8 170.1 79 169.8 79.2 169.5 79.4 169.2 79.6 168.9 79.8 168.5 79.9 168.2 80 167.8 80.2 167.5 80.3 167 80.5 166.8 80.5 166.2 80.7 165.9 80.8 165.5 80.8 165 80.9 164.5 81 164.2 81" fill="none" stroke="#333" stroke-width="0.55"/>
<path d="M166.9 58.8 167.2 58.6 167.5 58.4 167.8 58.1 168 57.8 168.2 57.5 168.4 57.2 168.5 57 168.8 56.6 169 56.2 169.1 56 169.2 55.7 169.4 55.2 169.6 55 169.7 54.5 169.6 54 169.5 53.8 169.2 53.4 169 53.1 168.8 52.8 168.5 52.6 168.2 52.4 168 52.2 167.5 52 167.2 51.9 166.8 51.9 166.2 51.9 165.8 52 165.5 52.1 165.2 52.2 164.8 52.5 164.6 52.8 164.4 53 164.2 53.2 164 53.7 163.9 54 163.8 54.5 163.7 54.8 163.7 55.2 163.8 55.5 163.8 56 164 56.5 164.1 56.8 164.2 57 164.5 57.5 164.7 57.8 164.9 58 165.2 58.2 165.5 58.5 165.8 58.7 166 58.8 166.5 58.9 166.9 58.8" fill="none" stroke="#333" stroke-width="0.55"/>
<path d="M125.2 82.5 124.8 82.6 124.2 82.6 123.8 82.6 123.2 82.6 122.8 82.6 122.2 82.5 122 82.5 121.5 82.4 121 82.3 120.7 82.2 120.2 82.1 120 82 119.5 81.8 119.2 81.7 118.9 81.5 118.5 81.3 118.2 81.1 118 80.9 117.8 80.7 117.5 80.5 117.2 80.2 117 79.9 116.8 79.6 116.6 79.2 116.4 79 116.2 78.6 116.1 78.2 116 77.8 116 77.5 115.9 77 115.9 76.5 116 76 116 75.7 116.1 75.2 116.2 74.8 116.3 74.5 116.5 74.1 116.7 73.8 116.8 73.5 117 73.2 117.2 72.8 117.5 72.5 117.7 72.2 117.9 72 118.1 71.8 118.3 71.5 118.6 71.2 118.9 71 119.2 70.8 119.5 70.5 119.8 70.3 120 70.1 120.2 70 120.6 69.8 121 69.5 121.2 69.4 121.5 69.2 122 69 122.2 68.9 122.7 68.8 123 68.6 123.4 68.5 123.8 68.4 124.2 68.2 124.5 68.2 125 68.1 125.4 68 125.8 67.9 126.2 67.9 126.8 67.8 127.2 67.8 127.8 67.8 128.2 67.8 128.8 67.8 129.2 67.9 129.8 67.9 130.2 68 130.5 68.1 131 68.2 131.3 68.2 131.8 68.4 132.2 68.5 132.5 68.6 132.9 68.8 133.2 68.9 133.5 69 134 69.2 134.2 69.3 134.5 69.5 135 69.8 135.2 69.9 135.5 70 135.8 70.2 136.2 70.5 136.5 70.7 136.8 70.9 137 71.1 137.2 71.3 137.5 71.5 137.8 71.8 138 72 138.3 72.2 138.5 72.5 138.8 72.8 139 73.1 139.2 73.5 139.3 73.8 139.5 74.2 139.6 74.5 139.5 75 139.5 75.2 139.2 75.7 139.1 76 138.9 76.2 138.7 76.5 138.4 76.8 138.1 77 137.8 77.2 137.5 77.5 137.2 77.7 137 77.8 136.8 78 136.4 78.2 136 78.5 135.8 78.6 135.5 78.8 135.1 79 134.8 79.2 134.5 79.3 134.2 79.5 133.8 79.7 133.5 79.8 133.2 80 132.8 80.2 132.5 80.3 132.1 80.5 131.8 80.6 131.5 80.8 131 81 130.8 81.1 130.2 81.2 130 81.3 129.5 81.5 129.2 81.6 128.8 81.8 128.5 81.8 128 82 127.8 82 127.2 82.2 126.9 82.2 126.5 82.3 126 82.4 125.5 82.5 125.2 82.5" fill="none" stroke="#333" stroke-width="0.55"/>
<path d="M170.2 51.4 169.8 51.5 169.2 51.4 168.8 51.3 168.5 51.2 168 51.1 167.8 51 167.2 50.9 166.8 50.8 166.2 50.8 165.8 50.9 165.2 51 165 51 164.5 51.1 164.2 51.2 163.8 51.4 163.2 51.5 162.8 51.5 162.2 51.4 162 51.2 161.7 51 161.4 50.8 161.2 50.5 161 50.2 160.8 49.9 160.5 49.6 160.3 49.2 160.2 49 160 48.7 159.8 48.2 159.7 48 159.5 47.5 159.4 47.2 159.3 46.8 159.2 46.4 159.2 46 159.2 45.5 159.2 45.2 159.3 44.8 159.5 44.2 159.6 44 159.8 43.7 160 43.3 160.2 43 160.5 42.8 160.7 42.5 161 42.3 161.2 42.1 161.5 41.9 161.8 41.8 162.2 41.5 162.5 41.4 163 41.3 163.2 41.2 163.8 41.1 164.1 41 164.5 40.9 165 40.9 165.5 40.9 166 40.8 166.5 40.8 167 40.9 167.5 40.9 168 41 168.3 41 168.8 41.1 169.2 41.2 169.5 41.3 170 41.5 170.2 41.6 170.6 41.8 171 42 171.2 42.2 171.5 42.4 171.8 42.7 172 42.9 172.2 43.2 172.4 43.5 172.6 43.8 172.8 44.2 172.9 44.5 173 45 173.1 45.2 173.1 45.8 173.1 46.2 173 46.8 173 47 172.9 47.5 172.8 47.9 172.6 48.2 172.5 48.5 172.2 49 172.1 49.2 172 49.5 171.8 49.8 171.5 50.2 171.3 50.5 171.1 50.8 170.8 51 170.5 51.2 170.2 51.4" fill="none" stroke="#333" stroke-width="0.55"/>
<path d="M164.8 80.3 164.2 80.3 163.8 80.4 163.2 80.4 162.8 80.4 162.2 80.3 161.8 80.3 161.5 80.2 161 80.1 160.5 80 160.2 80 159.8 79.8 159.5 79.7 159 79.5 158.8 79.4 158.4 79.2 158 79 157.8 78.9 157.5 78.7 157.2 78.5 156.8 78.2 156.5 78 156.2 77.8 156 77.6 155.8 77.3 155.5 77 155.3 76.8 155.1 76.5 154.9 76.2 154.8 75.9 154.6 75.5 154.5 75.2 154.4 74.8 154.4 74.2 154.4 73.8 154.5 73.4 154.6 73 154.8 72.7 155 72.2 155.1 72 155.3 71.8 155.5 71.5 155.8 71.2 156 70.9 156.2 70.6 156.5 70.4 156.8 70.1 157 69.9 157.2 69.7 157.5 69.5 157.8 69.2 158.2 69 158.5 68.8 158.8 68.6 159 68.5 159.3 68.2 159.7 68 160 67.8 160.2 67.7 160.5 67.5 160.9 67.2 161.2 67 161.5 66.8 161.8 66.6 162 66.4 162.2 66.2 162.5 66 162.8 65.7 163 65.5 163.2 65.2 163.5 64.9 163.8 64.5 163.9 64.2 164.1 64 164.3 63.8 164.5 63.4 164.8 63.1 165 62.9 165.2 62.7 165.6 62.5 166 62.3 166.2 62.2 166.7 62 167 61.8 167.2 61.6 167.5 61.4 167.8 61.2 168 60.9 168.2 60.6 168.5 60.3 168.8 60 169 59.8 169.2 59.5 169.5 59.4 170 59.4 170.2 59.7 170.4 60 170.5 60.2 170.6 60.8 170.8 61.2 170.8 61.5 170.9 62 171 62.5 171 62.8 171.1 63.2 171.1 63.8 171.2 64.2 171.2 64.8 171.3 65 171.3 65.5 171.4 66 171.5 66.5 171.5 66.8 171.6 67.2 171.6 67.8 171.7 68.2 171.8 68.5 171.8 69 171.9 69.5 172 70 172 70.3 172 70.8 172.1 71.2 172.1 71.8 172.1 72.2 172.1 72.8 172.1 73.2 172.1 73.8 172 74.2 171.9 74.5 171.8 75 171.7 75.2 171.6 75.8 171.5 76 171.2 76.5 171.1 76.8 170.9 77 170.7 77.2 170.5 77.6 170.2 77.8 170 78.1 169.8 78.3 169.5 78.5 169.1 78.8 168.8 78.9 168.5 79.1 168.1 79.2 167.8 79.4 167.5 79.5 167 79.7 166.8 79.8 166.2 79.9 166 80 165.5 80.1 165 80.2 164.8 80.3" fill="none" stroke="#333" stroke-width="0.55"/>
<path d="M124.2 81.8 123.8 81.8 123.4 81.8 123 81.7 122.5 81.7 122 81.6 121.5 81.5 121.2 81.4 120.8 81.3 120.5 81.2 120.1 81 119.8 80.8 119.5 80.7 119.2 80.5 118.9 80.2 118.6 80 118.3 79.8 118.1 79.5 117.9 79.2 117.7 79 117.5 78.6 117.3 78.2 117.2 78 117.1 77.5 117 77 117 76.5 117 76 117.1 75.5 117.2 75 117.3 74.8 117.5 74.3 117.6 74 117.8 73.8 118 73.4 118.2 73 118.4 72.8 118.6 72.5 118.9 72.2 119.1 72 119.3 71.8 119.6 71.5 119.9 71.2 120.2 71 120.5 70.8 120.8 70.6 121 70.5 121.4 70.2 121.8 70.1 122 69.9 122.4 69.8 122.8 69.6 123 69.5 123.5 69.3 123.8 69.2 124.2 69.1 124.6 69 125 68.9 125.5 68.8 125.9 68.8 126.2 68.7 126.8 68.7 127.2 68.6 127.8 68.6 128.2 68.7 128.8 68.7 129.2 68.8 129.5 68.8 130 68.9 130.5 69 130.8 69.1 131.2 69.2 131.5 69.3 132 69.5 132.2 69.6 132.7 69.8 133 69.9 133.2 70 133.6 70.2 134 70.5 134.2 70.6 134.5 70.8 134.8 71 135.1 71.2 135.3 71.5 135.6 71.8 135.8 72 136.1 72.2 136.3 72.5 136.5 72.9 136.7 73.2 136.8 73.5 137 74 137 74.4 137 74.6 137 75 136.8 75.5 136.7 75.8 136.5 76 136.2 76.4 136 76.7 135.8 76.9 135.5 77.2 135.2 77.4 135 77.6 134.8 77.8 134.5 78 134.1 78.2 133.8 78.5 133.5 78.7 133.2 78.8 132.9 79 132.5 79.2 132.2 79.4 132 79.5 131.5 79.8 131.2 79.9 131 80 130.5 80.2 130.2 80.3 129.8 80.5 129.5 80.6 129.2 80.8 128.8 80.9 128.4 81 128 81.1 127.5 81.2 127.2 81.3 126.8 81.4 126.5 81.5 126 81.6 125.5 81.7 125 81.7 124.5 81.7 124.2 81.8" fill="none" stroke="#333" stroke-width="0.55"/>
<path d="M170 50.3 169.5 50.4 169 50.4 168.5 50.3 168.2 50.2 167.8 50.2 167.2 50.1 166.8 50.1 166.2 50 165.8 50.1 165.2 50.1 164.8 50.1 164.2 50.2 163.8 50.2 163.2 50.2 162.8 50.1 162.5 50 162.1 49.8 161.8 49.5 161.5 49.3 161.3 49 161.1 48.8 160.9 48.5 160.7 48.2 160.5 47.8 160.4 47.5 160.2 47.2 160.1 46.8 160 46.2 160 46 160 45.5 160 45.2 160.1 44.8 160.2 44.3 160.4 44 160.5 43.8 160.8 43.5 161 43.2 161.2 42.9 161.5 42.7 161.8 42.5 162.2 42.2 162.5 42.1 162.8 42 163.2 41.8 163.5 41.7 164 41.6 164.4 41.5 164.8 41.4 165.2 41.4 165.8 41.4 166.2 41.4 166.8 41.4 167.2 41.4 167.8 41.5 168 41.5 168.5 41.6 169 41.7 169.2 41.8 169.8 42 170 42.1 170.3 42.2 170.7 42.5 171 42.7 171.2 43 171.5 43.2 171.7 43.5 171.9 43.8 172 44 172.2 44.5 172.3 44.8 172.5 45.2 172.5 45.6 172.5 46 172.5 46.4 172.4 46.8 172.3 47.2 172.2 47.5 172.1 48 172 48.2 171.8 48.6 171.5 49 171.3 49.2 171.1 49.5 170.9 49.8 170.6 50 170.2 50.2 170 50.3" fill="none" stroke="#333" stroke-width="0.55"/>
<path d="M165 79.5 164.5 79.6 164 79.7 163.5 79.7 163 79.7 162.5 79.7 162 79.6 161.5 79.6 161.2 79.5 160.8 79.4 160.3 79.2 160 79.1 159.6 79 159.2 78.8 159 78.7 158.6 78.5 158.2 78.3 158 78.1 157.8 77.9 157.5 77.7 157.2 77.5 157 77.2 156.7 77 156.5 76.7 156.2 76.4 156 76 155.9 75.8 155.8 75.3 155.7 75 155.6 74.5 155.6 74 155.7 73.5 155.8 73.1 155.9 72.8 156 72.5 156.2 72 156.4 71.8 156.6 71.5 156.8 71.2 157 71 157.3 70.8 157.5 70.5 157.8 70.2 158.1 70 158.4 69.8 158.7 69.5 159 69.3 159.2 69.1 159.5 69 159.9 68.8 160.2 68.5 160.5 68.4 160.8 68.2 161.2 68 161.5 67.8 161.8 67.7 162 67.5 162.5 67.2 162.8 67.1 163 66.9 163.3 66.8 163.7 66.5 164 66.4 164.2 66.2 164.7 66 165 65.9 165.4 65.8 165.8 65.6 166.1 65.5 166.5 65.3 166.8 65.2 167.1 65 167.5 64.8 167.8 64.5 168 64.3 168.2 64.1 168.5 63.9 168.8 63.7 169.2 63.5 169.3 63.5 169.7 63.8 169.8 64 170 64.3 170.1 64.8 170.2 65.1 170.4 65.5 170.5 66 170.5 66.2 170.6 66.8 170.8 67.2 170.8 67.5 170.9 68 171 68.4 171.1 68.8 171.2 69.2 171.2 69.7 171.3 70 171.4 70.5 171.4 71 171.5 71.5 171.5 71.8 171.5 72.2 171.5 72.8 171.5 73 171.4 73.5 171.4 74 171.3 74.5 171.2 74.8 171 75.2 170.9 75.5 170.8 75.9 170.6 76.2 170.4 76.5 170.2 76.8 170 77 169.8 77.3 169.5 77.5 169.2 77.8 168.9 78 168.5 78.2 168.2 78.4 168 78.5 167.5 78.7 167.2 78.9 166.9 79 166.5 79.1 166.2 79.2 165.8 79.4 165.2 79.5 165 79.5" fill="none" stroke="#333" stroke-width="0.55"/>
<path d="M126 80.8 125.5 80.8 125 80.9 124.5 80.9 124 80.9 123.5 80.9 123 80.9 122.5 80.8 122.2 80.8 121.8 80.6 121.3 80.5 121 80.4 120.7 80.2 120.2 80 120 79.8 119.8 79.7 119.5 79.5 119.2 79.2 119 78.9 118.8 78.6 118.5 78.2 118.4 78 118.2 77.6 118.2 77.2 118.1 76.8 118.1 76.2 118.1 75.8 118.2 75.2 118.3 75 118.5 74.5 118.6 74.2 118.8 73.9 119 73.5 119.2 73.2 119.4 73 119.6 72.8 119.8 72.5 120.1 72.2 120.3 72 120.6 71.8 120.9 71.5 121.2 71.3 121.5 71.1 121.8 71 122.1 70.8 122.5 70.6 122.8 70.4 123.2 70.2 123.5 70.1 123.9 70 124.2 69.9 124.8 69.8 125 69.7 125.5 69.6 126 69.5 126.4 69.5 126.8 69.5 127.2 69.5 127.8 69.5 128.2 69.5 128.5 69.5 129 69.6 129.5 69.7 129.8 69.8 130.2 69.9 130.7 70 131 70.1 131.4 70.2 131.8 70.4 132 70.5 132.4 70.8 132.8 71 133 71.1 133.2 71.3 133.5 71.5 133.8 71.8 134 72 134.2 72.3 134.5 72.6 134.7 73 134.9 73.2 135 73.7 135.1 74 135.1 74.5 135 75 135 75.2 134.8 75.8 134.6 76 134.5 76.2 134.2 76.5 134 76.8 133.8 77.1 133.5 77.3 133.2 77.5 133 77.8 132.6 78 132.3 78.2 132 78.4 131.8 78.6 131.5 78.8 131 79 130.8 79.2 130.5 79.3 130 79.5 129.8 79.6 129.5 79.8 129 79.9 128.8 80 128.2 80.2 128 80.3 127.5 80.4 127.2 80.5 126.8 80.6 126.2 80.7 126 80.8" fill="none" stroke="#333" stroke-width="0.55"/>
<path d="M169.5 49.5 169 49.6 168.5 49.5 168.1 49.5 167.8 49.5 167.2 49.4 166.8 49.4 166.2 49.4 165.8 49.3 165.2 49.3 164.8 49.3 164.2 49.3 163.8 49.3 163.5 49.2 163 49.1 162.8 49 162.4 48.8 162.1 48.5 161.8 48.2 161.6 48 161.4 47.8 161.2 47.5 161 47 160.9 46.8 160.8 46.2 160.8 45.8 160.8 45.2 160.9 44.8 161 44.4 161.2 44 161.4 43.8 161.6 43.5 161.8 43.2 162.1 43 162.5 42.8 162.8 42.6 163 42.5 163.5 42.3 163.8 42.2 164.2 42.1 164.6 42 165 41.9 165.5 41.9 166 41.9 166.5 41.9 167 41.9 167.5 42 167.8 42 168.2 42.1 168.8 42.2 169 42.3 169.5 42.5 169.8 42.6 170.1 42.8 170.4 43 170.7 43.2 171 43.5 171.2 43.8 171.4 44 171.5 44.2 171.7 44.8 171.8 45 171.9 45.5 171.9 46 171.9 46.5 171.8 47 171.7 47.2 171.5 47.8 171.4 48 171.2 48.2 171 48.6 170.8 48.9 170.5 49.1 170.2 49.2 169.8 49.5 169.5 49.5" fill="none" stroke="#333" stroke-width="0.55"/>
<path d="M164.2 79 163.8 79.1 163.2 79.1 162.8 79.1 162.2 79 162 79 161.5 78.9 161 78.8 160.8 78.7 160.2 78.5 160 78.4 159.7 78.2 159.2 78 159 77.9 158.8 77.7 158.5 77.5 158.2 77.2 157.9 77 157.7 76.8 157.5 76.5 157.2 76.2 157 75.8 156.9 75.5 156.8 75.1 156.7 74.8 156.6 74.2 156.6 73.8 156.7 73.2 156.8 73 157 72.6 157.2 72.2 157.3 72 157.5 71.7 157.8 71.4 158 71.1 158.2 70.8 158.5 70.6 158.8 70.4 159 70.2 159.3 70 159.6 69.8 160 69.5 160.2 69.3 160.5 69.2 160.9 69 161.2 68.8 161.5 68.7 161.8 68.5 162.2 68.3 162.5 68.2 163 68 163.2 67.9 163.7 67.8 164 67.7 164.5 67.6 164.9 67.5 165.2 67.5 165.8 67.4 166.2 67.4 166.8 67.4 167.2 67.3 167.7 67.2 168 67.2 168.5 67.2 169 67.2 169.2 67.4 169.5 67.6 169.8 68 169.9 68.2 170 68.5 170.2 69 170.3 69.2 170.5 69.8 170.5 70 170.6 70.5 170.7 71 170.8 71.2 170.8 71.8 170.8 72.2 170.8 72.8 170.8 73.2 170.8 73.6 170.7 74 170.5 74.5 170.5 74.8 170.3 75.2 170.1 75.5 170 75.8 169.8 76.1 169.5 76.4 169.2 76.7 169 76.9 168.8 77.2 168.5 77.3 168.2 77.5 167.9 77.8 167.5 78 167.2 78.1 166.9 78.2 166.5 78.4 166.2 78.5 165.8 78.7 165.5 78.8 165 78.9 164.5 79 164.2 79" fill="none" stroke="#333" stroke-width="0.55"/>
<path d="M125.8 80 125.2 80.1 124.8 80.1 124.2 80.1 123.8 80.1 123.2 80 123 80 122.5 79.9 122 79.8 121.8 79.7 121.4 79.5 121 79.3 120.8 79.1 120.5 78.9 120.2 78.7 120 78.5 119.8 78.1 119.5 77.8 119.4 77.5 119.2 77.1 119.2 76.8 119.1 76.2 119.2 75.8 119.2 75.3 119.3 75 119.5 74.6 119.7 74.2 119.8 74 120 73.7 120.2 73.3 120.5 73 120.8 72.8 121 72.5 121.2 72.3 121.5 72.1 121.8 71.9 122 71.8 122.4 71.5 122.8 71.3 123 71.2 123.5 71 123.8 70.9 124.2 70.8 124.5 70.7 125 70.5 125.2 70.5 125.8 70.4 126.2 70.3 126.8 70.3 127.2 70.3 127.8 70.3 128.2 70.4 128.8 70.4 129.1 70.5 129.5 70.6 130 70.8 130.2 70.8 130.6 71 131 71.2 131.2 71.3 131.6 71.5 131.9 71.8 132.2 72 132.5 72.2 132.7 72.5 132.9 72.8 133.1 73 133.2 73.4 133.4 73.8 133.5 74.2 133.5 74.8 133.3 75.2 133.2 75.5 133 76 132.8 76.2 132.6 76.5 132.4 76.8 132.2 77 131.9 77.2 131.6 77.5 131.3 77.8 131 77.9 130.8 78.1 130.5 78.3 130.1 78.5 129.8 78.7 129.5 78.8 129.1 79 128.8 79.2 128.5 79.3 128 79.4 127.8 79.5 127.2 79.7 127 79.8 126.5 79.9 126 80 125.8 80" fill="none" stroke="#333" stroke-width="0.55"/>
<path d="M169 48.8 168.5 48.8 168 48.8 167.5 48.8 167.2 48.8 166.8 48.7 166.2 48.7 165.8 48.7 165.2 48.6 164.8 48.6 164.2 48.5 164 48.5 163.5 48.3 163.2 48.2 162.8 48 162.5 47.8 162.3 47.5 162.1 47.2 161.9 47 161.8 46.6 161.6 46.2 161.5 45.8 161.6 45.2 161.7 44.8 161.8 44.5 162 44.1 162.2 43.8 162.5 43.6 162.8 43.4 163 43.2 163.3 43 163.8 42.8 164 42.7 164.5 42.6 165 42.5 165.2 42.5 165.8 42.4 166.2 42.4 166.8 42.4 167.2 42.5 167.6 42.5 168 42.6 168.5 42.7 168.8 42.8 169.2 43 169.5 43.1 169.8 43.2 170.1 43.5 170.4 43.8 170.6 44 170.8 44.2 171 44.6 171.2 45 171.2 45.4 171.3 45.8 171.3 46.2 171.2 46.6 171.1 47 171 47.3 170.8 47.8 170.6 48 170.3 48.2 170 48.5 169.8 48.6 169.2 48.7 169 48.8" fill="none" stroke="#333" stroke-width="0.55"/>
<path d="M164.8 78.3 164.2 78.3 163.8 78.4 163.2 78.4 162.8 78.4 162.2 78.4 161.8 78.3 161.5 78.2 161 78.1 160.8 78 160.3 77.8 160 77.6 159.8 77.5 159.4 77.2 159.1 77 158.8 76.8 158.6 76.5 158.4 76.2 158.2 76 158 75.7 157.8 75.2 157.7 75 157.6 74.5 157.6 74 157.6 73.5 157.8 73.1 157.9 72.8 158 72.5 158.2 72.1 158.5 71.8 158.7 71.5 158.9 71.2 159.2 71 159.5 70.8 159.8 70.5 160 70.3 160.2 70.2 160.5 70 161 69.8 161.2 69.6 161.5 69.5 162 69.3 162.2 69.2 162.7 69 163 68.9 163.5 68.8 163.8 68.8 164.2 68.7 164.8 68.7 165.2 68.7 165.8 68.7 166 68.8 166.5 68.8 167 68.9 167.5 69 167.8 69 168.2 69.2 168.5 69.3 168.9 69.5 169.1 69.8 169.3 70 169.5 70.3 169.7 70.8 169.8 71 169.9 71.5 170 72 170 72.2 170 72.8 170 73.2 170 73.5 169.9 74 169.8 74.4 169.6 74.8 169.5 75 169.2 75.4 169 75.8 168.8 76 168.6 76.2 168.3 76.5 168 76.8 167.8 76.9 167.5 77.1 167.2 77.3 166.8 77.5 166.5 77.7 166.2 77.8 165.8 78 165.5 78.1 165 78.2 164.8 78.3" fill="none" stroke="#333" stroke-width="0.55"/>
<path d="M126.5 79 126 79.1 125.5 79.2 125 79.2 124.5 79.2 124 79.2 123.5 79.1 123 79 122.8 79 122.2 78.8 122 78.7 121.7 78.5 121.4 78.2 121.1 78 120.9 77.8 120.7 77.5 120.5 77.1 120.4 76.8 120.3 76.2 120.3 75.8 120.4 75.2 120.5 74.9 120.7 74.5 120.8 74.2 121 73.9 121.2 73.6 121.5 73.3 121.8 73.1 122 72.9 122.2 72.7 122.5 72.5 122.9 72.2 123.2 72 123.5 71.9 123.9 71.8 124.2 71.6 124.6 71.5 125 71.4 125.5 71.3 125.8 71.2 126.2 71.2 126.8 71.2 127.2 71.2 127.8 71.2 128.1 71.2 128.5 71.3 129 71.5 129.2 71.5 129.8 71.7 130 71.9 130.2 72 130.6 72.2 130.9 72.5 131.2 72.8 131.4 73 131.6 73.2 131.8 73.6 131.9 74 131.9 74.5 131.9 75 131.8 75.4 131.6 75.8 131.4 76 131.2 76.3 131 76.6 130.8 76.8 130.5 77 130.2 77.3 129.9 77.5 129.5 77.8 129.2 77.9 129 78.1 128.6 78.2 128.2 78.4 128 78.5 127.5 78.7 127.2 78.8 126.8 79 126.5 79" fill="none" stroke="#333" stroke-width="0.55"/>
<path d="M168.8 48 168.2 48.1 167.8 48.1 167.2 48.1 166.8 48.1 166.2 48 165.9 48 165.5 48 165 47.9 164.5 47.8 164.2 47.7 163.8 47.5 163.5 47.4 163.2 47.2 163 47 162.8 46.6 162.6 46.2 162.5 46 162.4 45.5 162.5 45 162.6 44.8 162.8 44.5 163 44.1 163.2 43.9 163.5 43.7 163.8 43.5 164.2 43.3 164.5 43.2 165 43.1 165.5 43 165.8 43 166.2 43 166.8 43 167 43 167.5 43.1 168 43.2 168.2 43.3 168.8 43.4 169 43.5 169.4 43.8 169.7 44 169.9 44.2 170.1 44.5 170.3 44.8 170.5 45.2 170.6 45.5 170.6 46 170.5 46.5 170.4 46.8 170.2 47.1 170 47.4 169.8 47.6 169.5 47.8 169 48 168.8 48" fill="none" stroke="#333" stroke-width="0.55"/>
<path d="M164.8 77.5 164.2 77.7 163.8 77.7 163.2 77.7 162.8 77.7 162.2 77.7 161.8 77.5 161.5 77.5 161 77.3 160.8 77.2 160.4 77 160 76.8 159.8 76.5 159.5 76.3 159.2 76 159.1 75.8 158.9 75.5 158.8 75.2 158.6 74.8 158.5 74.2 158.5 73.8 158.6 73.2 158.8 73 159 72.5 159.1 72.2 159.3 72 159.5 71.8 159.8 71.5 160 71.2 160.4 71 160.7 70.8 161 70.6 161.2 70.4 161.6 70.2 162 70.1 162.3 70 162.8 69.8 163.2 69.8 163.5 69.7 164 69.7 164.5 69.7 165 69.7 165.3 69.8 165.8 69.8 166.2 70 166.5 70.1 167 70.2 167.2 70.4 167.5 70.5 167.9 70.8 168.2 71 168.5 71.2 168.6 71.5 168.8 71.8 168.9 72.2 169 72.6 169 73 169 73.4 168.9 73.8 168.8 74.2 168.7 74.5 168.5 74.9 168.3 75.2 168.1 75.5 167.9 75.8 167.6 76 167.3 76.2 167 76.5 166.8 76.7 166.5 76.8 166.2 77 165.8 77.2 165.5 77.3 165 77.5 164.8 77.5" fill="none" stroke="#333" stroke-width="0.55"/>
<path d="M126.5 78 126 78.1 125.5 78.2 125 78.2 124.5 78.2 124 78.2 123.5 78.1 123.2 78 122.8 77.8 122.5 77.6 122.2 77.3 122 77.1 121.8 76.8 121.7 76.5 121.6 76 121.6 75.5 121.7 75 121.8 74.8 122 74.5 122.2 74.1 122.5 73.8 122.8 73.6 123 73.4 123.2 73.2 123.5 73 124 72.8 124.2 72.6 124.6 72.5 125 72.4 125.5 72.2 125.8 72.2 126.2 72.2 126.8 72.1 127.2 72.2 127.7 72.2 128 72.3 128.5 72.5 128.8 72.6 129.1 72.8 129.4 73 129.7 73.2 129.9 73.5 130.1 73.8 130.2 74.2 130.3 74.5 130.3 75 130.2 75.2 130 75.7 129.8 76 129.6 76.2 129.4 76.5 129.1 76.8 128.8 77 128.5 77.2 128.2 77.3 127.9 77.5 127.5 77.7 127.2 77.8 126.8 78 126.5 78" fill="none" stroke="#333" stroke-width="0.55"/>
<path d="M168 47.3 167.5 47.3 167 47.3 166.5 47.3 166.1 47.2 165.8 47.2 165.2 47.1 164.9 47 164.5 46.9 164.2 46.7 164 46.5 163.8 46.2 163.5 45.8 163.5 45.5 163.5 45.2 163.7 44.8 163.9 44.5 164.2 44.2 164.5 44.1 164.8 44 165.2 43.8 165.5 43.7 166 43.7 166.5 43.7 167 43.7 167.3 43.8 167.8 43.8 168.2 44 168.5 44.1 168.8 44.3 169 44.5 169.3 44.8 169.5 45.1 169.7 45.5 169.7 46 169.5 46.5 169.3 46.8 169 47 168.8 47.1 168.2 47.2 168 47.3" fill="none" stroke="#333" stroke-width="0.55"/>
<path d="M164.8 76.8 164.2 76.9 163.8 77 163.2 77 162.8 77 162.2 76.9 161.8 76.8 161.5 76.6 161.2 76.5 160.8 76.2 160.5 76 160.2 75.8 160 75.5 159.8 75.2 159.7 75 159.6 74.5 159.5 74 159.6 73.5 159.7 73 159.9 72.8 160 72.5 160.2 72.2 160.5 72 160.8 71.7 161 71.5 161.4 71.2 161.8 71.1 162 71 162.5 70.8 162.8 70.7 163.2 70.6 163.8 70.6 164.2 70.6 164.8 70.7 165.1 70.8 165.5 70.9 165.8 71 166.2 71.2 166.5 71.4 166.8 71.6 167 71.8 167.2 72.1 167.5 72.4 167.6 72.8 167.7 73.2 167.7 73.8 167.6 74.2 167.5 74.5 167.2 74.9 167 75.2 166.8 75.5 166.5 75.8 166.2 76 166 76.2 165.8 76.3 165.4 76.5 165 76.7 164.8 76.8" fill="none" stroke="#333" stroke-width="0.55"/>
<path d="M126.2 76.8 125.8 76.9 125.2 76.9 124.8 76.9 124.3 76.8 124 76.6 123.8 76.4 123.5 76 123.4 75.8 123.4 75.2 123.5 75 123.8 74.6 124 74.3 124.2 74.1 124.5 74 124.9 73.8 125.2 73.6 125.8 73.5 126 73.5 126.5 73.5 126.8 73.5 127.2 73.7 127.5 73.8 127.8 74 128.1 74.2 128.2 74.8 128.2 75.2 128 75.6 127.8 75.9 127.5 76.1 127.2 76.3 126.9 76.5 126.5 76.7 126.2 76.8" fill="none" stroke="#333" stroke-width="0.55"/>
<path d="M167.5 46 167 46.1 166.5 46.1 166 46 165.8 45.9 165.5 45.8 165.4 45.2 165.6 45 166 44.8 166.5 44.8 167 44.8 167.5 45 167.8 45.2 167.9 45.5 167.8 45.9 167.5 46" fill="none" stroke="#333" stroke-width="0.55"/>
<path d="M164 76 163.5 76.1 163 76.1 162.5 76 162.2 75.9 161.8 75.8 161.5 75.5 161.2 75.3 161 75 160.8 74.8 160.7 74.5 160.7 74 160.7 73.5 160.8 73.2 161 73 161.2 72.6 161.5 72.4 161.8 72.2 162.1 72 162.5 71.8 162.8 71.7 163.2 71.6 163.8 71.6 164.2 71.7 164.5 71.8 165 71.9 165.2 72.1 165.5 72.3 165.8 72.5 166 72.8 166.2 73.2 166.2 73.5 166.2 73.8 166.2 74.2 166 74.6 165.8 75 165.5 75.2 165.2 75.4 165 75.6 164.8 75.8 164.2 75.9 164 76" fill="none" stroke="#333" stroke-width="0.55"/>
<path d="M111.75 48.38 L112.08 47.76 L112.7 47.14 L113.49 46.56 L114.33 46.06 L115.08 45.68 L115.71 45.43 L116.3 45.27 L116.91 45.2 L117.59 45.22 L118.41 45.32 L119.48 45.51 L120.76 45.81 L122.07 46.18 L123.24 46.59 L124.08 47.03 L124.58 47.46 L124.86 47.91 L124.94 48.41 L124.85 49.01 L124.62 49.73 L124.16 50.7 L123.47 51.9 L122.65 53.15 L121.82 54.25 L121.11 55.04 L120.55 55.49 L120.07 55.73 L119.59 55.79 L119.06 55.67 L118.41 55.4 L117.56 54.92 L116.55 54.2 L115.5 53.35 L114.52 52.49 L113.73 51.71 L113.08 51.01 L112.49 50.32 L112.03 49.65 L111.76 49Z" fill="none" stroke="#c83a42" stroke-width="0.6"/>
<path d="M113.91 49.01 L114.43 48.57 L115.3 48.12 L116.36 47.69 L117.45 47.37 L118.41 47.21 L119.28 47.25 L120.18 47.44 L121.03 47.74 L121.75 48.07 L122.28 48.38 L122.61 48.65 L122.79 48.92 L122.82 49.21 L122.71 49.57 L122.46 50 L122.01 50.63 L121.36 51.43 L120.59 52.24 L119.79 52.9 L119.04 53.24 L118.31 53.18 L117.55 52.84 L116.8 52.32 L116.11 51.76 L115.53 51.26 L114.99 50.82 L114.45 50.36 L114.03 49.89 L113.81 49.44Z" fill="none" stroke="#c83a42" stroke-width="0.6"/>
<ellipse cx="118.8" cy="49.8" rx="1.5" ry="1" transform="rotate(0 118.8 49.8)" fill="none" stroke="#c83a42" stroke-width="0.6" />
<text x="105" y="35.4" font-size="5.6" font-weight="bold" fill="#d42a3a" stroke="#d42a3a" stroke-width="0.12">CD8α high</text>
<path d="M227.5 54.7 L228.49 55.56 L229.12 56.52 L229.49 57.57 L229.68 58.73 L229.8 60 L229.81 61.46 L229.64 63.1 L229.35 64.81 L228.99 66.48 L228.6 68 L228.07 69.4 L227.36 70.76 L226.65 72.02 L226.14 73.12 L226 74 L226.28 74.59 L226.85 74.92 L227.65 75.12 L228.62 75.27 L229.7 75.5 L231.03 75.77 L232.67 76.02 L234.37 76.28 L235.93 76.59 L237.1 77 L237.88 77.52 L238.43 78.14 L238.75 78.81 L238.86 79.51 L238.8 80.2 L238.64 80.93 L238.36 81.72 L237.84 82.5 L236.96 83.21 L235.6 83.8 L233.56 84.25 L230.94 84.62 L228 84.9 L225.03 85.09 L222.3 85.2 L219.69 85.25 L217.02 85.23 L214.47 85.12 L212.2 84.88 L210.4 84.5 L209.12 83.91 L208.24 83.14 L207.69 82.27 L207.37 81.36 L207.2 80.5 L207.34 79.7 L207.86 78.91 L208.5 78.1 L209.02 77.27 L209.2 76.4 L208.92 75.53 L208.36 74.67 L207.65 73.76 L206.95 72.72 L206.4 71.5 L206 70.01 L205.64 68.29 L205.35 66.46 L205.13 64.66 L205 63 L204.95 61.45 L204.96 59.93 L205.06 58.49 L205.27 57.16 L205.6 56 L206.01 55 L206.5 54.13 L207.12 53.39 L207.93 52.78 L209 52.3 L210.4 51.94 L212.09 51.71 L213.96 51.6 L215.9 51.63 L217.8 51.8 L219.8 52.12 L221.97 52.6 L224.11 53.2 L226.02 53.91Z" fill="none" stroke="#4a4a4a" stroke-width="0.5"/>
<ellipse cx="223" cy="81" rx="12.4" ry="2.5" transform="rotate(0 223 81)" fill="none" stroke="#555" stroke-width="0.5" />
<path d="M212 82.6 Q223 84 234.5 82.3" fill="none" stroke="#999" stroke-width="0.9"/>
<ellipse cx="246.8" cy="77.6" rx="3.4" ry="2.4" transform="rotate(0 246.8 77.6)" fill="none" stroke="#4a4a4a" stroke-width="0.5" />
<ellipse cx="247" cy="77.7" rx="1.7" ry="1.1" transform="rotate(0 247 77.7)" fill="none" stroke="#777" stroke-width="0.45" />
<path d="M208.9 53.2 L210.35 52.63 L212.13 52.35 L214.07 52.29 L216.01 52.4 L217.8 52.6 L219.5 52.92 L221.21 53.41 L222.84 54.02 L224.3 54.73 L225.5 55.5 L226.41 56.34 L227.08 57.28 L227.57 58.29 L227.93 59.37 L228.2 60.5 L228.42 61.74 L228.56 63.11 L228.56 64.51 L228.39 65.84 L228 67 L227.33 68.01 L226.43 68.94 L225.35 69.76 L224.19 70.46 L223 71 L221.78 71.36 L220.47 71.57 L219.1 71.65 L217.71 71.64 L216.3 71.6 L214.81 71.53 L213.21 71.4 L211.62 71.19 L210.18 70.9 L209 70.5 L208.12 70.01 L207.46 69.44 L206.96 68.77 L206.56 67.96 L206.2 67 L205.84 65.82 L205.53 64.44 L205.31 62.95 L205.25 61.44 L205.4 60 L205.74 58.53 L206.23 56.97 L206.9 55.46 L207.79 54.16Z" fill="#e0e0f7" stroke="#8a8adc" stroke-width="0.5"/>
<ellipse cx="216.5" cy="62.5" rx="10" ry="7.8" transform="rotate(0 216.5 62.5)" fill="none" stroke="#7676d4" stroke-width="0.5" />
<ellipse cx="215.2" cy="62.3" rx="7.2" ry="6" transform="rotate(0 215.2 62.3)" fill="none" stroke="#7676d4" stroke-width="0.5" />
<ellipse cx="213.8" cy="62.1" rx="4.2" ry="3.6" transform="rotate(0 213.8 62.1)" fill="#f4f4fd" stroke="#7676d4" stroke-width="0.55" />
<circle cx="208.9" cy="46.2" r="5.4" fill="#c4e8bc" stroke="#88cc78" stroke-width="0.5"/>
<circle cx="208.9" cy="46.2" r="3.4" fill="#d8f2d0" stroke="#7cc46c" stroke-width="0.5"/>
<circle cx="208.9" cy="46.2" r="1.6" fill="#eefaea" stroke="#7cc46c" stroke-width="0.45"/>
<text x="200" y="35.2" font-size="5.6" font-weight="bold" fill="#3c9a34" stroke="#3c9a34" stroke-width="0.12">CD8α high</text>
<text x="219.7" y="48.3" font-size="5.6" font-weight="bold" fill="#3050b8" stroke="#3050b8" stroke-width="0.12">CD8α dim</text>
<path d="M272.5 82.5 272 82.5 271.5 82.5 271.2 82.5 270.8 82.4 270.2 82.3 269.9 82.2 269.5 82.1 269.2 82 268.8 81.8 268.5 81.7 268 81.5 267.8 81.4 267.5 81.2 267.1 81 266.8 80.8 266.5 80.6 266.2 80.4 266 80.2 265.7 80 265.4 79.8 265.1 79.5 264.8 79.2 264.5 79 264.2 78.8 264 78.5 263.8 78.3 263.5 78 263.3 77.8 263 77.5 262.8 77.2 262.6 77 262.4 76.8 262.2 76.5 262 76.2 261.8 75.9 261.5 75.6 261.3 75.2 261.1 75 261 74.8 260.8 74.4 260.5 74 260.3 73.8 260.2 73.5 260 73.2 259.8 72.8 259.7 72.5 259.5 72.2 259.3 71.8 259.2 71.5 259 71.1 258.9 70.8 258.8 70.5 258.6 70 258.5 69.8 258.3 69.2 258.2 69 258.1 68.5 258 68.2 257.9 67.8 257.8 67.2 257.7 67 257.6 66.5 257.5 66 257.5 65.8 257.4 65.2 257.4 64.8 257.4 64.2 257.3 63.8 257.3 63.2 257.4 62.8 257.4 62.2 257.5 61.8 257.5 61.5 257.6 61 257.7 60.5 257.8 60.2 257.9 59.8 258 59.4 258.1 59 258.2 58.7 258.4 58.2 258.5 58 258.7 57.5 258.8 57.2 258.9 56.8 259 56.5 259.2 56 259.3 55.8 259.4 55.2 259.5 54.8 259.6 54.5 259.7 54 259.7 53.5 259.8 53.2 259.8 52.8 259.9 52.2 259.9 51.8 259.9 51.2 260 50.8 260 50.2 260 49.8 260 49.2 260 48.8 260 48.2 260 47.8 260 47.2 260 46.8 260 46.2 260 45.8 259.9 45.2 259.9 44.8 259.8 44.2 259.7 44 259.5 43.5 259.4 43.2 259.2 43 259 42.6 258.8 42.2 258.6 42 258.4 41.8 258.2 41.5 258 41.2 257.8 40.9 257.5 40.6 257.3 40.2 257.1 40 257 39.8 256.8 39.4 256.5 39 256.4 38.8 256.2 38.3 256.1 38 256 37.5 256 37.2 255.9 36.8 255.9 36.2 255.9 35.8 255.9 35.2 256 35 256.2 34.5 256.3 34.2 256.5 33.8 256.7 33.5 256.9 33.2 257.1 33 257.3 32.8 257.6 32.5 257.9 32.2 258.2 32 258.5 31.9 258.8 31.7 259.2 31.5 259.5 31.4 260 31.3 260.2 31.2 260.8 31.1 261.2 31.1 261.8 31 262.2 31 262.8 31.1 263.2 31.1 263.8 31.2 264 31.3 264.5 31.4 264.8 31.5 265.2 31.6 265.5 31.8 266 31.9 266.2 32.1 266.6 32.2 267 32.5 267.2 32.6 267.5 32.8 267.8 33 268.1 33.2 268.4 33.5 268.7 33.8 269 34 269.2 34.2 269.4 34.5 269.6 34.8 269.8 35 270 35.3 270.2 35.7 270.4 36 270.6 36.2 270.8 36.7 270.9 37 271 37.5 271 37.8 271.1 38.2 271.2 38.8 271.1 39.2 271.1 39.8 271 40.1 270.9 40.5 270.8 40.9 270.6 41.2 270.5 41.5 270.2 41.9 270 42.2 269.8 42.5 269.6 42.8 269.5 43 269.2 43.3 269 43.6 268.8 44 268.6 44.2 268.4 44.5 268.2 44.9 268.1 45.2 268 45.8 268 46 267.9 46.5 267.9 47 268 47.5 268 48 268 48.2 268.1 48.8 268.1 49.2 268.2 49.8 268.2 50.2 268.3 50.5 268.3 51 268.4 51.5 268.5 52 268.5 52.2 268.6 52.8 268.7 53.2 268.7 53.8 268.8 54 268.9 54.5 269 55 269 55.3 269.1 55.8 269.2 56.2 269.3 56.5 269.4 57 269.5 57.4 269.6 57.8 269.8 58.1 269.9 58.5 270.1 58.8 270.2 59.1 270.5 59.5 270.7 59.8 270.9 60 271.1 60.2 271.2 60.5 271.5 60.8 271.8 61.1 272 61.5 272.2 61.8 272.4 62 272.6 62.2 272.8 62.5 273 62.8 273.2 63.1 273.5 63.4 273.7 63.8 273.9 64 274.1 64.2 274.2 64.6 274.5 65 274.7 65.2 274.8 65.5 275 65.8 275.2 66.2 275.3 66.5 275.5 66.8 275.7 67.2 275.8 67.5 276 67.9 276.1 68.2 276.2 68.5 276.4 69 276.5 69.2 276.7 69.8 276.8 70 276.9 70.5 277 70.8 277.1 71.2 277.2 71.8 277.3 72 277.4 72.5 277.5 73 277.5 73.2 277.6 73.8 277.6 74.2 277.6 74.8 277.7 75.2 277.6 75.8 277.6 76.2 277.6 76.8 277.5 77.1 277.4 77.5 277.3 78 277.2 78.3 277.1 78.8 277 79 276.8 79.5 276.6 79.8 276.5 80 276.2 80.4 276 80.7 275.8 81 275.5 81.2 275.2 81.4 275 81.6 274.8 81.8 274.4 82 274 82.2 273.8 82.3 273.2 82.4 272.8 82.5 272.5 82.5" fill="none" stroke="#3a3a3a" stroke-width="0.5"/>
<path d="M272.5 79.8 272 79.9 271.5 80 271 80 270.5 80 270 79.9 269.5 79.8 269.2 79.7 268.8 79.5 268.5 79.4 268.1 79.2 267.8 79.1 267.5 78.9 267.2 78.8 266.8 78.5 266.5 78.3 266.2 78.1 266 77.9 265.8 77.7 265.5 77.5 265.2 77.2 264.9 77 264.7 76.8 264.4 76.5 264.2 76.2 264 76 263.7 75.8 263.5 75.5 263.2 75.1 263 74.8 262.8 74.5 262.6 74.2 262.4 74 262.2 73.8 262 73.4 261.8 73 261.6 72.8 261.5 72.5 261.2 72 261.1 71.8 261 71.5 260.8 71 260.6 70.8 260.5 70.4 260.3 70 260.2 69.7 260.1 69.2 260 69 259.9 68.5 259.8 68.1 259.7 67.8 259.6 67.2 259.5 66.9 259.4 66.5 259.4 66 259.3 65.5 259.3 65 259.3 64.5 259.3 64 259.4 63.5 259.5 63 259.5 62.7 259.6 62.2 259.7 61.8 259.8 61.5 260 61 260 60.8 260.2 60.2 260.3 60 260.5 59.5 260.6 59.2 260.8 58.9 260.9 58.5 261 58.2 261.1 57.8 261.2 57.4 261.4 57 261.5 56.5 261.5 56.2 261.6 55.8 261.7 55.2 261.8 55 261.8 54.5 261.9 54 262 53.5 262 53 262 52.8 262.1 52.2 262.1 51.8 262.1 51.2 262.1 50.8 262.1 50.2 262.1 49.8 262.2 49.2 262.2 48.8 262.2 48.2 262.2 47.8 262.3 47.5 262.3 47 262.4 46.5 262.4 46 262.5 45.5 262.4 45 262.3 44.5 262.2 44.2 262 43.8 261.9 43.5 261.7 43.2 261.5 43 261.2 42.7 261 42.4 260.8 42.1 260.5 41.8 260.2 41.5 260 41.3 259.8 41 259.6 40.8 259.3 40.5 259.1 40.2 259 40 258.8 39.7 258.5 39.3 258.3 39 258.2 38.8 258 38.4 257.9 38 257.8 37.6 257.7 37.2 257.6 36.8 257.6 36.2 257.7 35.8 257.8 35.5 257.9 35 258 34.8 258.2 34.4 258.5 34.1 258.8 33.8 259 33.6 259.2 33.4 259.5 33.2 260 33 260.2 32.9 260.7 32.8 261 32.7 261.5 32.6 262 32.5 262.5 32.5 263 32.6 263.5 32.6 264 32.7 264.2 32.8 264.8 32.9 265 33 265.5 33.2 265.8 33.4 266 33.5 266.4 33.8 266.8 34 267 34.2 267.2 34.4 267.5 34.6 267.8 34.8 268 35.1 268.2 35.4 268.5 35.8 268.6 36 268.8 36.2 269 36.7 269.1 37 269.2 37.4 269.3 37.8 269.4 38.2 269.4 38.8 269.4 39.2 269.3 39.8 269.2 40 269 40.4 268.8 40.8 268.7 41 268.5 41.3 268.2 41.6 268 41.9 267.8 42.2 267.5 42.4 267.2 42.7 267 42.9 266.8 43.2 266.5 43.5 266.2 43.7 266.1 44 265.9 44.2 265.7 44.5 265.5 45 265.5 45.2 265.4 45.8 265.4 46.2 265.5 46.7 265.5 47 265.6 47.5 265.7 48 265.8 48.2 265.9 48.8 265.9 49.2 266 49.5 266.1 50 266.2 50.5 266.2 51 266.3 51.2 266.4 51.8 266.5 52.2 266.5 52.5 266.6 53 266.7 53.5 266.8 53.9 266.8 54.2 266.9 54.8 267 55.2 267 55.5 267.1 56 267.2 56.5 267.2 56.9 267.3 57.2 267.5 57.8 267.5 58 267.7 58.5 267.8 58.8 268 59.1 268.2 59.5 268.4 59.8 268.5 60 268.8 60.3 269 60.6 269.2 60.9 269.5 61.2 269.8 61.5 270 61.8 270.2 62 270.4 62.2 270.6 62.5 270.9 62.8 271.1 63 271.3 63.2 271.5 63.5 271.8 63.8 272 64.2 272.2 64.5 272.4 64.8 272.6 65 272.8 65.2 273 65.6 273.2 66 273.4 66.2 273.5 66.5 273.8 67 273.9 67.2 274 67.5 274.2 68 274.4 68.2 274.5 68.6 274.7 69 274.8 69.3 274.9 69.8 275 70 275.1 70.5 275.2 70.9 275.3 71.2 275.4 71.8 275.5 72.1 275.6 72.5 275.6 73 275.6 73.5 275.7 74 275.7 74.5 275.6 75 275.6 75.5 275.5 75.9 275.4 76.2 275.3 76.8 275.2 77 275 77.5 274.9 77.8 274.7 78 274.5 78.3 274.2 78.6 274 78.9 273.8 79.1 273.5 79.3 273.2 79.5 272.8 79.7 272.5 79.8" fill="none" stroke="#3a3a3a" stroke-width="0.5"/>
<path d="M265 42.1 264.5 42.2 264 42.2 263.5 42.1 263.2 42 262.8 41.8 262.5 41.6 262.2 41.5 261.9 41.2 261.6 41 261.3 40.8 261 40.5 260.8 40.2 260.5 40 260.3 39.8 260.1 39.5 259.9 39.2 259.7 39 259.5 38.6 259.3 38.2 259.2 38 259.1 37.5 259 37 259 36.5 259.1 36 259.2 35.6 259.4 35.2 259.6 35 259.8 34.8 260.1 34.5 260.5 34.3 260.8 34.1 261 34 261.5 33.9 262 33.8 262.2 33.7 262.8 33.7 263.1 33.8 263.5 33.8 264 33.9 264.3 34 264.8 34.2 265 34.3 265.4 34.5 265.8 34.7 266 34.9 266.2 35 266.5 35.3 266.8 35.5 267 35.8 267.2 36.1 267.5 36.5 267.6 36.8 267.8 37 267.9 37.5 268 38 268 38.2 268 38.6 267.9 39 267.8 39.5 267.7 39.8 267.5 40.1 267.2 40.5 267 40.8 266.8 41 266.5 41.2 266.2 41.4 266 41.6 265.7 41.8 265.2 42 265 42.1" fill="none" stroke="#3a3a3a" stroke-width="0.5"/>
<path d="M271 78 270.5 78 270 78 269.8 78 269.2 77.9 268.8 77.8 268.5 77.7 268.1 77.5 267.8 77.3 267.5 77.2 267.2 77 266.8 76.8 266.5 76.5 266.2 76.3 266 76.1 265.8 75.9 265.5 75.7 265.2 75.5 265 75.2 264.8 74.9 264.5 74.7 264.2 74.4 264 74 263.8 73.8 263.6 73.5 263.4 73.2 263.2 73 263 72.6 262.8 72.2 262.6 72 262.5 71.7 262.3 71.2 262.1 71 262 70.7 261.8 70.2 261.7 70 261.5 69.5 261.4 69.2 261.3 68.8 261.2 68.5 261.1 68 261 67.5 261 67.2 260.9 66.8 260.9 66.2 260.8 65.8 260.8 65.2 260.9 64.8 260.9 64.2 261 64 261.1 63.5 261.2 63 261.3 62.8 261.5 62.4 261.7 62 261.8 61.8 262 61.4 262.2 61 262.4 60.8 262.6 60.5 262.8 60.2 263 60 263.2 59.7 263.5 59.4 263.8 59.2 264.2 59 264.5 59 264.8 59 265.1 59.2 265.4 59.5 265.7 59.8 266 60 266.2 60.2 266.5 60.5 266.8 60.7 267 60.9 267.2 61.1 267.5 61.4 267.8 61.6 268 61.8 268.2 62 268.5 62.3 268.8 62.5 269 62.8 269.3 63 269.5 63.2 269.8 63.5 270 63.8 270.2 64 270.5 64.3 270.8 64.6 271 64.9 271.2 65.2 271.4 65.5 271.6 65.8 271.8 66 272 66.4 272.2 66.8 272.4 67 272.5 67.3 272.7 67.8 272.9 68 273 68.3 273.2 68.8 273.3 69 273.5 69.5 273.6 69.8 273.7 70.2 273.8 70.5 273.9 71 274 71.5 274 71.8 274.1 72.2 274.1 72.8 274.1 73.2 274.1 73.8 274.1 74.2 274 74.8 274 75 273.8 75.5 273.7 75.8 273.5 76.2 273.3 76.5 273.1 76.8 272.9 77 272.7 77.2 272.3 77.5 272 77.7 271.8 77.8 271.2 78 271 78" fill="none" stroke="#3a3a3a" stroke-width="0.5"/>
<path d="M264.8 40.5 264.2 40.6 263.8 40.6 263.4 40.5 263 40.4 262.7 40.2 262.3 40 262 39.8 261.8 39.6 261.5 39.4 261.2 39.1 261 38.8 260.8 38.5 260.7 38.2 260.5 37.8 260.4 37.5 260.4 37 260.4 36.5 260.5 36.2 260.8 35.8 261 35.5 261.2 35.3 261.5 35.2 261.9 35 262.2 34.9 262.8 34.9 263.2 34.9 263.8 35 264 35 264.5 35.2 264.8 35.3 265 35.5 265.4 35.8 265.7 36 265.9 36.2 266.1 36.5 266.3 36.8 266.5 37.2 266.6 37.5 266.7 38 266.7 38.5 266.5 39 266.4 39.2 266.2 39.5 266 39.8 265.8 40 265.4 40.2 265 40.4 264.8 40.5" fill="none" stroke="#3a3a3a" stroke-width="0.5"/>
<path d="M270.5 76.3 270 76.4 269.5 76.3 269 76.3 268.8 76.2 268.2 76 268 75.9 267.7 75.8 267.2 75.5 267 75.4 266.8 75.2 266.5 75 266.2 74.8 265.9 74.5 265.7 74.2 265.4 74 265.2 73.8 265 73.5 264.8 73.2 264.5 72.9 264.2 72.6 264 72.2 263.9 72 263.7 71.8 263.5 71.3 263.3 71 263.2 70.8 263 70.3 262.9 70 262.8 69.6 262.6 69.2 262.5 68.8 262.4 68.5 262.3 68 262.2 67.7 262.2 67.2 262.2 66.8 262.2 66.2 262.2 65.8 262.2 65.2 262.3 65 262.4 64.5 262.5 64.2 262.8 63.8 262.9 63.5 263.1 63.2 263.3 63 263.6 62.8 263.9 62.5 264.2 62.3 264.6 62.2 265 62.2 265.5 62.2 265.8 62.3 266.2 62.5 266.5 62.6 266.8 62.8 267.2 63 267.5 63.2 267.8 63.4 268 63.5 268.3 63.8 268.6 64 268.8 64.2 269.1 64.5 269.4 64.8 269.6 65 269.8 65.2 270 65.5 270.2 65.8 270.5 66.1 270.8 66.4 271 66.8 271.1 67 271.3 67.2 271.5 67.7 271.7 68 271.8 68.2 272 68.7 272.1 69 272.2 69.4 272.4 69.8 272.5 70.2 272.6 70.5 272.7 71 272.8 71.3 272.8 71.8 272.8 72.2 272.8 72.8 272.8 73.2 272.8 73.6 272.7 74 272.5 74.5 272.4 74.8 272.2 75 272 75.4 271.8 75.6 271.5 75.8 271.2 76 270.8 76.2 270.5 76.3" fill="none" stroke="#3a3a3a" stroke-width="0.5"/>
<path d="M264.5 38.8 264 38.9 263.5 38.9 263.1 38.8 262.8 38.6 262.5 38.3 262.2 38 262.1 37.8 262.1 37.2 262.2 36.8 262.5 36.5 262.8 36.4 263.2 36.3 263.8 36.4 264 36.5 264.4 36.8 264.6 37 264.8 37.2 265 37.8 264.9 38.2 264.8 38.5 264.5 38.8" fill="none" stroke="#3a3a3a" stroke-width="0.5"/>
<path d="M270.2 74.5 269.8 74.7 269.2 74.7 268.8 74.7 268.2 74.5 268 74.4 267.6 74.2 267.2 74 267 73.9 266.8 73.7 266.5 73.5 266.2 73.2 266 73 265.8 72.7 265.5 72.4 265.2 72.1 265 71.8 264.8 71.5 264.7 71.2 264.5 71 264.3 70.5 264.1 70.2 264 69.9 263.9 69.5 263.8 69.2 263.6 68.8 263.5 68.2 263.5 68 263.4 67.5 263.4 67 263.5 66.5 263.5 66.2 263.7 65.8 263.8 65.5 264 65 264.2 64.8 264.5 64.5 264.8 64.4 265.1 64.2 265.5 64.2 266 64.2 266.3 64.2 266.8 64.4 267 64.5 267.5 64.8 267.8 64.9 268 65.1 268.2 65.3 268.5 65.5 268.8 65.8 269 66 269.2 66.3 269.5 66.5 269.8 66.9 270 67.2 270.2 67.5 270.3 67.8 270.5 68 270.7 68.5 270.9 68.8 271 69.1 271.1 69.5 271.2 69.8 271.4 70.2 271.5 70.8 271.5 71 271.6 71.5 271.6 72 271.5 72.5 271.5 72.8 271.3 73.2 271.2 73.5 271 73.9 270.8 74.1 270.5 74.4 270.2 74.5" fill="none" stroke="#3a3a3a" stroke-width="0.5"/>
<path d="M269 72.8 268.5 72.8 268.1 72.8 267.8 72.6 267.5 72.5 267.1 72.2 266.8 72 266.6 71.8 266.3 71.5 266.1 71.2 265.9 71 265.8 70.7 265.5 70.3 265.4 70 265.2 69.7 265.1 69.2 265 68.9 264.9 68.5 264.9 68 265 67.5 265 67.2 265.2 66.8 265.4 66.5 265.8 66.3 266 66.2 266.5 66.2 266.9 66.2 267.2 66.4 267.5 66.5 267.9 66.8 268.2 67 268.4 67.2 268.7 67.5 268.9 67.8 269.1 68 269.2 68.3 269.5 68.7 269.6 69 269.8 69.3 269.9 69.8 270 70.2 270.1 70.5 270.1 71 270 71.5 270 71.8 269.8 72.2 269.5 72.5 269.2 72.7 269 72.8" fill="none" stroke="#3a3a3a" stroke-width="0.5"/>
<text x="0.6" y="121.1" font-size="6.6" font-weight="bold" fill="#222">B</text>
<text x="30.75" y="126.9" font-size="5.1" text-anchor="middle" fill="#1a1a1a" stroke="#1a1a1a" stroke-width="0.22">Eomes</text>
<path d="M1.6 141.95 L2.1 141.95 L2.6 141.95 L3.1 141.95 L3.6 141.95 L4.1 141.95 L4.6 141.95 L5.1 141.95 L5.6 141.95 L6.1 141.95 L6.6 141.95 L7.1 141.95 L7.6 141.95 L8.1 141.95 L8.6 141.95 L9.1 141.95 L9.6 141.95 L10.1 141.95 L10.6 141.95 L11.1 141.95 L11.6 141.95 L12.1 141.95 L12.6 141.95 L13.1 141.95 L13.6 141.95 L14.1 141.95 L14.6 141.94 L15.1 141.94 L15.6 141.93 L16.1 141.92 L16.6 141.89 L17.1 141.86 L17.6 141.8 L18.1 141.71 L18.6 141.58 L19.1 141.39 L19.6 141.12 L20.1 140.75 L20.6 140.26 L21.1 139.62 L21.6 138.82 L22.1 137.88 L22.6 136.81 L23.1 135.68 L23.6 134.59 L24.1 133.71 L24.6 133.39 L25.1 134.02 L25.6 135.01 L26.1 136.13 L26.6 137.25 L27.1 138.27 L27.6 139.16 L28.1 139.89 L28.6 140.47 L29.1 140.91 L29.6 141.24 L30.1 141.48 L30.6 141.64 L31.1 141.75 L31.6 141.83 L32.1 141.87 L32.6 141.9 L33.1 141.92 L33.6 141.93 L34.1 141.94 L34.6 141.94 L35.1 141.95 L35.6 141.95 L36.1 141.95 L36.6 141.95 L37.1 141.95 L37.6 141.95 L38.1 141.95 L38.6 141.95 L39.1 141.95 L39.6 141.95 L40.1 141.95 L40.6 141.95 L41.1 141.95 L41.6 141.95 L42.1 141.95 L42.6 141.95 L43.1 141.95 L43.6 141.95 L44.1 141.95 L44.6 141.95 L45.1 141.95 L45.6 141.95 L46.1 141.95 L46.6 141.95 L47.1 141.95 L47.6 141.95 L48.1 141.95 L48.6 141.95 L49.1 141.95 L49.6 141.95 L50.1 141.95 L50.6 141.95 L51.1 141.95 L51.6 141.95 L52.1 141.95 L52.6 141.95 L53.1 141.95 L53.6 141.95 L54.1 141.95 L54.6 141.95 L55.1 141.95 L55.6 141.95 L56.1 141.95 L56.6 141.95 L57.1 141.95 L57.6 141.95 L58.1 141.95 L58.6 141.95 L59.1 141.95 L59.6 141.95 L59.9 141.95 L1.6 141.95Z" fill="#fcecec" stroke="none"/>
<path d="M1.6 141.95 L2.1 141.95 L2.6 141.95 L3.1 141.95 L3.6 141.95 L4.1 141.95 L4.6 141.95 L5.1 141.95 L5.6 141.95 L6.1 141.95 L6.6 141.95 L7.1 141.95 L7.6 141.95 L8.1 141.95 L8.6 141.95 L9.1 141.95 L9.6 141.95 L10.1 141.95 L10.6 141.95 L11.1 141.95 L11.6 141.95 L12.1 141.95 L12.6 141.95 L13.1 141.95 L13.6 141.95 L14.1 141.95 L14.6 141.94 L15.1 141.94 L15.6 141.93 L16.1 141.92 L16.6 141.89 L17.1 141.86 L17.6 141.8 L18.1 141.71 L18.6 141.58 L19.1 141.39 L19.6 141.12 L20.1 140.75 L20.6 140.26 L21.1 139.62 L21.6 138.82 L22.1 137.88 L22.6 136.81 L23.1 135.68 L23.6 134.59 L24.1 133.71 L24.6 133.39 L25.1 134.02 L25.6 135.01 L26.1 136.13 L26.6 137.25 L27.1 138.27 L27.6 139.16 L28.1 139.89 L28.6 140.47 L29.1 140.91 L29.6 141.24 L30.1 141.48 L30.6 141.64 L31.1 141.75 L31.6 141.83 L32.1 141.87 L32.6 141.9 L33.1 141.92 L33.6 141.93 L34.1 141.94 L34.6 141.94 L35.1 141.95 L35.6 141.95 L36.1 141.95 L36.6 141.95 L37.1 141.95 L37.6 141.95 L38.1 141.95 L38.6 141.95 L39.1 141.95 L39.6 141.95 L40.1 141.95 L40.6 141.95 L41.1 141.95 L41.6 141.95 L42.1 141.95 L42.6 141.95 L43.1 141.95 L43.6 141.95 L44.1 141.95 L44.6 141.95 L45.1 141.95 L45.6 141.95 L46.1 141.95 L46.6 141.95 L47.1 141.95 L47.6 141.95 L48.1 141.95 L48.6 141.95 L49.1 141.95 L49.6 141.95 L50.1 141.95 L50.6 141.95 L51.1 141.95 L51.6 141.95 L52.1 141.95 L52.6 141.95 L53.1 141.95 L53.6 141.95 L54.1 141.95 L54.6 141.95 L55.1 141.95 L55.6 141.95 L56.1 141.95 L56.6 141.95 L57.1 141.95 L57.6 141.95 L58.1 141.95 L58.6 141.95 L59.1 141.95 L59.6 141.95" fill="none" stroke="#dc7c7c" stroke-width="0.75"/>
<path d="M1.6 151.5 L2.1 151.5 L2.6 151.5 L3.1 151.5 L3.6 151.5 L4.1 151.5 L4.6 151.5 L5.1 151.5 L5.6 151.5 L6.1 151.5 L6.6 151.5 L7.1 151.5 L7.6 151.5 L8.1 151.5 L8.6 151.5 L9.1 151.5 L9.6 151.5 L10.1 151.5 L10.6 151.5 L11.1 151.5 L11.6 151.49 L12.1 151.49 L12.6 151.49 L13.1 151.48 L13.6 151.46 L14.1 151.44 L14.6 151.42 L15.1 151.38 L15.6 151.32 L16.1 151.24 L16.6 151.13 L17.1 150.98 L17.6 150.78 L18.1 150.52 L18.6 150.19 L19.1 149.78 L19.6 149.27 L20.1 148.66 L20.6 147.96 L21.1 147.18 L21.6 146.34 L22.1 145.47 L22.6 144.65 L23.1 143.96 L23.6 143.53 L24.1 143.74 L24.6 144.35 L25.1 145.14 L25.6 145.99 L26.1 146.85 L26.6 147.66 L27.1 148.39 L27.6 149.04 L28.1 149.58 L28.6 150.04 L29.1 150.4 L29.6 150.69 L30.1 150.91 L30.6 151.08 L31.1 151.2 L31.6 151.29 L32.1 151.36 L32.6 151.4 L33.1 151.44 L33.6 151.46 L34.1 151.47 L34.6 151.48 L35.1 151.49 L35.6 151.49 L36.1 151.5 L36.6 151.5 L37.1 151.5 L37.6 151.5 L38.1 151.5 L38.6 151.5 L39.1 151.5 L39.6 151.5 L40.1 151.5 L40.6 151.5 L41.1 151.5 L41.6 151.5 L42.1 151.5 L42.6 151.5 L43.1 151.5 L43.6 151.5 L44.1 151.5 L44.6 151.5 L45.1 151.5 L45.6 151.5 L46.1 151.5 L46.6 151.5 L47.1 151.5 L47.6 151.5 L48.1 151.5 L48.6 151.5 L49.1 151.5 L49.6 151.5 L50.1 151.5 L50.6 151.5 L51.1 151.5 L51.6 151.5 L52.1 151.5 L52.6 151.5 L53.1 151.5 L53.6 151.5 L54.1 151.5 L54.6 151.5 L55.1 151.5 L55.6 151.5 L56.1 151.5 L56.6 151.5 L57.1 151.5 L57.6 151.5 L58.1 151.5 L58.6 151.5 L59.1 151.5 L59.6 151.5" fill="none" stroke="#d2d2d2" stroke-width="0.75"/>
<path d="M1.6 161.05 L2.1 161.05 L2.6 161.05 L3.1 161.05 L3.6 161.05 L4.1 161.05 L4.6 161.05 L5.1 161.05 L5.6 161.05 L6.1 161.05 L6.6 161.05 L7.1 161.05 L7.6 161.05 L8.1 161.05 L8.6 161.05 L9.1 161.05 L9.6 161.05 L10.1 161.05 L10.6 161.05 L11.1 161.05 L11.6 161.05 L12.1 161.05 L12.6 161.05 L13.1 161.05 L13.6 161.05 L14.1 161.05 L14.6 161.04 L15.1 161.04 L15.6 161.03 L16.1 161.02 L16.6 160.99 L17.1 160.96 L17.6 160.9 L18.1 160.81 L18.6 160.69 L19.1 160.5 L19.6 160.23 L20.1 159.86 L20.6 159.38 L21.1 158.74 L21.6 157.96 L22.1 157.02 L22.6 155.97 L23.1 154.85 L23.6 153.77 L24.1 152.9 L24.6 152.59 L25.1 153.21 L25.6 154.19 L26.1 155.3 L26.6 156.4 L27.1 157.41 L27.6 158.29 L28.1 159.01 L28.6 159.59 L29.1 160.02 L29.6 160.35 L30.1 160.58 L30.6 160.73 L31.1 160.84 L31.6 160.91 L32.1 160.94 L32.6 160.96 L33.1 160.95 L33.6 160.94 L34.1 160.9 L34.6 160.86 L35.1 160.79 L35.6 160.72 L36.1 160.62 L36.6 160.52 L37.1 160.4 L37.6 160.28 L38.1 160.17 L38.6 160.09 L39.1 160.05 L39.6 160.12 L40.1 160.22 L40.6 160.33 L41.1 160.45 L41.6 160.56 L42.1 160.66 L42.6 160.75 L43.1 160.82 L43.6 160.88 L44.1 160.93 L44.6 160.96 L45.1 160.99 L45.6 161.01 L46.1 161.02 L46.6 161.03 L47.1 161.04 L47.6 161.04 L48.1 161.05 L48.6 161.05 L49.1 161.05 L49.6 161.05 L50.1 161.05 L50.6 161.05 L51.1 161.05 L51.6 161.05 L52.1 161.05 L52.6 161.05 L53.1 161.05 L53.6 161.05 L54.1 161.05 L54.6 161.05 L55.1 161.05 L55.6 161.05 L56.1 161.05 L56.6 161.05 L57.1 161.05 L57.6 161.05 L58.1 161.05 L58.6 161.05 L59.1 161.05 L59.6 161.05 L59.9 161.05 L1.6 161.05Z" fill="#eaf6ea" stroke="none"/>
<path d="M1.6 161.05 L2.1 161.05 L2.6 161.05 L3.1 161.05 L3.6 161.05 L4.1 161.05 L4.6 161.05 L5.1 161.05 L5.6 161.05 L6.1 161.05 L6.6 161.05 L7.1 161.05 L7.6 161.05 L8.1 161.05 L8.6 161.05 L9.1 161.05 L9.6 161.05 L10.1 161.05 L10.6 161.05 L11.1 161.05 L11.6 161.05 L12.1 161.05 L12.6 161.05 L13.1 161.05 L13.6 161.05 L14.1 161.05 L14.6 161.04 L15.1 161.04 L15.6 161.03 L16.1 161.02 L16.6 160.99 L17.1 160.96 L17.6 160.9 L18.1 160.81 L18.6 160.69 L19.1 160.5 L19.6 160.23 L20.1 159.86 L20.6 159.38 L21.1 158.74 L21.6 157.96 L22.1 157.02 L22.6 155.97 L23.1 154.85 L23.6 153.77 L24.1 152.9 L24.6 152.59 L25.1 153.21 L25.6 154.19 L26.1 155.3 L26.6 156.4 L27.1 157.41 L27.6 158.29 L28.1 159.01 L28.6 159.59 L29.1 160.02 L29.6 160.35 L30.1 160.58 L30.6 160.73 L31.1 160.84 L31.6 160.91 L32.1 160.94 L32.6 160.96 L33.1 160.95 L33.6 160.94 L34.1 160.9 L34.6 160.86 L35.1 160.79 L35.6 160.72 L36.1 160.62 L36.6 160.52 L37.1 160.4 L37.6 160.28 L38.1 160.17 L38.6 160.09 L39.1 160.05 L39.6 160.12 L40.1 160.22 L40.6 160.33 L41.1 160.45 L41.6 160.56 L42.1 160.66 L42.6 160.75 L43.1 160.82 L43.6 160.88 L44.1 160.93 L44.6 160.96 L45.1 160.99 L45.6 161.01 L46.1 161.02 L46.6 161.03 L47.1 161.04 L47.6 161.04 L48.1 161.05 L48.6 161.05 L49.1 161.05 L49.6 161.05 L50.1 161.05 L50.6 161.05 L51.1 161.05 L51.6 161.05 L52.1 161.05 L52.6 161.05 L53.1 161.05 L53.6 161.05 L54.1 161.05 L54.6 161.05 L55.1 161.05 L55.6 161.05 L56.1 161.05 L56.6 161.05 L57.1 161.05 L57.6 161.05 L58.1 161.05 L58.6 161.05 L59.1 161.05 L59.6 161.05" fill="none" stroke="#5cb05c" stroke-width="0.75"/>
<path d="M1.6 170.6 L2.1 170.6 L2.6 170.6 L3.1 170.6 L3.6 170.6 L4.1 170.6 L4.6 170.6 L5.1 170.6 L5.6 170.6 L6.1 170.6 L6.6 170.6 L7.1 170.6 L7.6 170.6 L8.1 170.6 L8.6 170.6 L9.1 170.6 L9.6 170.6 L10.1 170.6 L10.6 170.6 L11.1 170.6 L11.6 170.59 L12.1 170.59 L12.6 170.59 L13.1 170.58 L13.6 170.56 L14.1 170.54 L14.6 170.52 L15.1 170.48 L15.6 170.42 L16.1 170.34 L16.6 170.23 L17.1 170.08 L17.6 169.88 L18.1 169.62 L18.6 169.29 L19.1 168.88 L19.6 168.37 L20.1 167.76 L20.6 167.06 L21.1 166.28 L21.6 165.44 L22.1 164.57 L22.6 163.75 L23.1 163.06 L23.6 162.63 L24.1 162.84 L24.6 163.45 L25.1 164.24 L25.6 165.09 L26.1 165.95 L26.6 166.76 L27.1 167.49 L27.6 168.14 L28.1 168.68 L28.6 169.14 L29.1 169.5 L29.6 169.79 L30.1 170.01 L30.6 170.18 L31.1 170.3 L31.6 170.39 L32.1 170.46 L32.6 170.5 L33.1 170.54 L33.6 170.56 L34.1 170.57 L34.6 170.58 L35.1 170.59 L35.6 170.59 L36.1 170.6 L36.6 170.6 L37.1 170.6 L37.6 170.6 L38.1 170.6 L38.6 170.6 L39.1 170.6 L39.6 170.6 L40.1 170.6 L40.6 170.6 L41.1 170.6 L41.6 170.6 L42.1 170.6 L42.6 170.6 L43.1 170.6 L43.6 170.6 L44.1 170.6 L44.6 170.6 L45.1 170.6 L45.6 170.6 L46.1 170.6 L46.6 170.6 L47.1 170.6 L47.6 170.6 L48.1 170.6 L48.6 170.6 L49.1 170.6 L49.6 170.6 L50.1 170.6 L50.6 170.6 L51.1 170.6 L51.6 170.6 L52.1 170.6 L52.6 170.6 L53.1 170.6 L53.6 170.6 L54.1 170.6 L54.6 170.6 L55.1 170.6 L55.6 170.6 L56.1 170.6 L56.6 170.6 L57.1 170.6 L57.6 170.6 L58.1 170.6 L58.6 170.6 L59.1 170.6 L59.6 170.6" fill="none" stroke="#d2d2d2" stroke-width="0.75"/>
<path d="M1.6 180.15 L2.1 180.15 L2.6 180.15 L3.1 180.15 L3.6 180.15 L4.1 180.15 L4.6 180.15 L5.1 180.15 L5.6 180.15 L6.1 180.15 L6.6 180.15 L7.1 180.15 L7.6 180.15 L8.1 180.15 L8.6 180.15 L9.1 180.15 L9.6 180.15 L10.1 180.15 L10.6 180.15 L11.1 180.15 L11.6 180.15 L12.1 180.15 L12.6 180.15 L13.1 180.15 L13.6 180.15 L14.1 180.15 L14.6 180.15 L15.1 180.15 L15.6 180.15 L16.1 180.15 L16.6 180.15 L17.1 180.15 L17.6 180.15 L18.1 180.15 L18.6 180.15 L19.1 180.15 L19.6 180.15 L20.1 180.15 L20.6 180.15 L21.1 180.15 L21.6 180.15 L22.1 180.15 L22.6 180.15 L23.1 180.15 L23.6 180.15 L24.1 180.15 L24.6 180.15 L25.1 180.15 L25.6 180.15 L26.1 180.15 L26.6 180.15 L27.1 180.15 L27.6 180.15 L28.1 180.15 L28.6 180.15 L29.1 180.15 L29.6 180.15 L30.1 180.15 L30.6 180.15 L31.1 180.15 L31.6 180.14 L32.1 180.14 L32.6 180.13 L33.1 180.11 L33.6 180.08 L34.1 180.02 L34.6 179.92 L35.1 179.77 L35.6 179.52 L36.1 179.15 L36.6 178.61 L37.1 177.88 L37.6 176.91 L38.1 175.73 L38.6 174.38 L39.1 173 L39.6 171.84 L40.1 171.4 L40.6 172.26 L41.1 173.55 L41.6 174.93 L42.1 176.23 L42.6 177.33 L43.1 178.2 L43.6 178.85 L44.1 179.32 L44.6 179.63 L45.1 179.84 L45.6 179.97 L46.1 180.05 L46.6 180.09 L47.1 180.12 L47.6 180.13 L48.1 180.14 L48.6 180.15 L49.1 180.15 L49.6 180.15 L50.1 180.15 L50.6 180.15 L51.1 180.15 L51.6 180.15 L52.1 180.15 L52.6 180.15 L53.1 180.15 L53.6 180.15 L54.1 180.15 L54.6 180.15 L55.1 180.15 L55.6 180.15 L56.1 180.15 L56.6 180.15 L57.1 180.15 L57.6 180.15 L58.1 180.15 L58.6 180.15 L59.1 180.15 L59.6 180.15 L59.9 180.15 L1.6 180.15Z" fill="#e8eff9" stroke="none"/>
<path d="M1.6 180.15 L2.1 180.15 L2.6 180.15 L3.1 180.15 L3.6 180.15 L4.1 180.15 L4.6 180.15 L5.1 180.15 L5.6 180.15 L6.1 180.15 L6.6 180.15 L7.1 180.15 L7.6 180.15 L8.1 180.15 L8.6 180.15 L9.1 180.15 L9.6 180.15 L10.1 180.15 L10.6 180.15 L11.1 180.15 L11.6 180.15 L12.1 180.15 L12.6 180.15 L13.1 180.15 L13.6 180.15 L14.1 180.15 L14.6 180.15 L15.1 180.15 L15.6 180.15 L16.1 180.15 L16.6 180.15 L17.1 180.15 L17.6 180.15 L18.1 180.15 L18.6 180.15 L19.1 180.15 L19.6 180.15 L20.1 180.15 L20.6 180.15 L21.1 180.15 L21.6 180.15 L22.1 180.15 L22.6 180.15 L23.1 180.15 L23.6 180.15 L24.1 180.15 L24.6 180.15 L25.1 180.15 L25.6 180.15 L26.1 180.15 L26.6 180.15 L27.1 180.15 L27.6 180.15 L28.1 180.15 L28.6 180.15 L29.1 180.15 L29.6 180.15 L30.1 180.15 L30.6 180.15 L31.1 180.15 L31.6 180.14 L32.1 180.14 L32.6 180.13 L33.1 180.11 L33.6 180.08 L34.1 180.02 L34.6 179.92 L35.1 179.77 L35.6 179.52 L36.1 179.15 L36.6 178.61 L37.1 177.88 L37.6 176.91 L38.1 175.73 L38.6 174.38 L39.1 173 L39.6 171.84 L40.1 171.4 L40.6 172.26 L41.1 173.55 L41.6 174.93 L42.1 176.23 L42.6 177.33 L43.1 178.2 L43.6 178.85 L44.1 179.32 L44.6 179.63 L45.1 179.84 L45.6 179.97 L46.1 180.05 L46.6 180.09 L47.1 180.12 L47.6 180.13 L48.1 180.14 L48.6 180.15 L49.1 180.15 L49.6 180.15 L50.1 180.15 L50.6 180.15 L51.1 180.15 L51.6 180.15 L52.1 180.15 L52.6 180.15 L53.1 180.15 L53.6 180.15 L54.1 180.15 L54.6 180.15 L55.1 180.15 L55.6 180.15 L56.1 180.15 L56.6 180.15 L57.1 180.15 L57.6 180.15 L58.1 180.15 L58.6 180.15 L59.1 180.15 L59.6 180.15" fill="none" stroke="#5a8acc" stroke-width="0.75"/>
<path d="M1.6 189.7 L2.1 189.7 L2.6 189.7 L3.1 189.7 L3.6 189.7 L4.1 189.7 L4.6 189.7 L5.1 189.7 L5.6 189.7 L6.1 189.7 L6.6 189.7 L7.1 189.7 L7.6 189.7 L8.1 189.7 L8.6 189.7 L9.1 189.7 L9.6 189.7 L10.1 189.7 L10.6 189.7 L11.1 189.7 L11.6 189.69 L12.1 189.69 L12.6 189.69 L13.1 189.68 L13.6 189.66 L14.1 189.64 L14.6 189.62 L15.1 189.58 L15.6 189.52 L16.1 189.44 L16.6 189.33 L17.1 189.18 L17.6 188.98 L18.1 188.72 L18.6 188.39 L19.1 187.98 L19.6 187.47 L20.1 186.86 L20.6 186.16 L21.1 185.38 L21.6 184.54 L22.1 183.67 L22.6 182.85 L23.1 182.16 L23.6 181.73 L24.1 181.94 L24.6 182.55 L25.1 183.34 L25.6 184.19 L26.1 185.05 L26.6 185.86 L27.1 186.59 L27.6 187.24 L28.1 187.78 L28.6 188.24 L29.1 188.6 L29.6 188.89 L30.1 189.11 L30.6 189.28 L31.1 189.4 L31.6 189.49 L32.1 189.56 L32.6 189.6 L33.1 189.64 L33.6 189.66 L34.1 189.67 L34.6 189.68 L35.1 189.69 L35.6 189.69 L36.1 189.7 L36.6 189.7 L37.1 189.7 L37.6 189.7 L38.1 189.7 L38.6 189.7 L39.1 189.7 L39.6 189.7 L40.1 189.7 L40.6 189.7 L41.1 189.7 L41.6 189.7 L42.1 189.7 L42.6 189.7 L43.1 189.7 L43.6 189.7 L44.1 189.7 L44.6 189.7 L45.1 189.7 L45.6 189.7 L46.1 189.7 L46.6 189.7 L47.1 189.7 L47.6 189.7 L48.1 189.7 L48.6 189.7 L49.1 189.7 L49.6 189.7 L50.1 189.7 L50.6 189.7 L51.1 189.7 L51.6 189.7 L52.1 189.7 L52.6 189.7 L53.1 189.7 L53.6 189.7 L54.1 189.7 L54.6 189.7 L55.1 189.7 L55.6 189.7 L56.1 189.7 L56.6 189.7 L57.1 189.7 L57.6 189.7 L58.1 189.7 L58.6 189.7 L59.1 189.7 L59.6 189.7" fill="none" stroke="#d2d2d2" stroke-width="0.75"/>
<rect x="1.6" y="132.4" width="58.3" height="57.3" fill="none" stroke="#737373" stroke-width="0.8"/>
<line x1="3.6" y1="189.7" x2="3.6" y2="190.5" stroke="#999" stroke-width="0.5"/>
<line x1="14.6" y1="189.7" x2="14.6" y2="190.5" stroke="#999" stroke-width="0.5"/>
<line x1="25.6" y1="189.7" x2="25.6" y2="190.5" stroke="#999" stroke-width="0.5"/>
<line x1="36.6" y1="189.7" x2="36.6" y2="190.5" stroke="#999" stroke-width="0.5"/>
<line x1="47.6" y1="189.7" x2="47.6" y2="190.5" stroke="#999" stroke-width="0.5"/>
<line x1="58.6" y1="189.7" x2="58.6" y2="190.5" stroke="#999" stroke-width="0.5"/>
<text x="93.35" y="126.9" font-size="5.1" text-anchor="middle" fill="#1a1a1a" stroke="#1a1a1a" stroke-width="0.22">T-bet</text>
<path d="M64.2 141.95 L64.7 141.95 L65.2 141.95 L65.7 141.95 L66.2 141.95 L66.7 141.95 L67.2 141.95 L67.7 141.95 L68.2 141.95 L68.7 141.95 L69.2 141.95 L69.7 141.95 L70.2 141.95 L70.7 141.95 L71.2 141.95 L71.7 141.95 L72.2 141.95 L72.7 141.95 L73.2 141.95 L73.7 141.95 L74.2 141.95 L74.7 141.95 L75.2 141.95 L75.7 141.95 L76.2 141.95 L76.7 141.95 L77.2 141.95 L77.7 141.95 L78.2 141.95 L78.7 141.95 L79.2 141.95 L79.7 141.95 L80.2 141.95 L80.7 141.95 L81.2 141.95 L81.7 141.95 L82.2 141.95 L82.7 141.95 L83.2 141.95 L83.7 141.95 L84.2 141.95 L84.7 141.95 L85.2 141.95 L85.7 141.95 L86.2 141.95 L86.7 141.95 L87.2 141.95 L87.7 141.95 L88.2 141.95 L88.7 141.95 L89.2 141.95 L89.7 141.95 L90.2 141.95 L90.7 141.95 L91.2 141.95 L91.7 141.94 L92.2 141.94 L92.7 141.93 L93.2 141.91 L93.7 141.87 L94.2 141.8 L94.7 141.7 L95.2 141.53 L95.7 141.26 L96.2 140.86 L96.7 140.28 L97.2 139.5 L97.7 138.49 L98.2 137.27 L98.7 135.9 L99.2 134.54 L99.7 133.46 L100.2 133.31 L100.7 134.29 L101.2 135.62 L101.7 137 L102.2 138.26 L102.7 139.32 L103.2 140.15 L103.7 140.76 L104.2 141.19 L104.7 141.48 L105.2 141.67 L105.7 141.79 L106.2 141.86 L106.7 141.9 L107.2 141.92 L107.7 141.94 L108.2 141.94 L108.7 141.95 L109.2 141.95 L109.7 141.95 L110.2 141.95 L110.7 141.95 L111.2 141.95 L111.7 141.95 L112.2 141.95 L112.7 141.95 L113.2 141.95 L113.7 141.95 L114.2 141.95 L114.7 141.95 L115.2 141.95 L115.7 141.95 L116.2 141.95 L116.7 141.95 L117.2 141.95 L117.7 141.95 L118.2 141.95 L118.7 141.95 L119.2 141.95 L119.7 141.95 L120.2 141.95 L120.7 141.95 L121.2 141.95 L121.7 141.95 L122.2 141.95 L122.5 141.95 L64.2 141.95Z" fill="#fcecec" stroke="none"/>
<path d="M64.2 141.95 L64.7 141.95 L65.2 141.95 L65.7 141.95 L66.2 141.95 L66.7 141.95 L67.2 141.95 L67.7 141.95 L68.2 141.95 L68.7 141.95 L69.2 141.95 L69.7 141.95 L70.2 141.95 L70.7 141.95 L71.2 141.95 L71.7 141.95 L72.2 141.95 L72.7 141.95 L73.2 141.95 L73.7 141.95 L74.2 141.95 L74.7 141.95 L75.2 141.95 L75.7 141.95 L76.2 141.95 L76.7 141.95 L77.2 141.95 L77.7 141.95 L78.2 141.95 L78.7 141.95 L79.2 141.95 L79.7 141.95 L80.2 141.95 L80.7 141.95 L81.2 141.95 L81.7 141.95 L82.2 141.95 L82.7 141.95 L83.2 141.95 L83.7 141.95 L84.2 141.95 L84.7 141.95 L85.2 141.95 L85.7 141.95 L86.2 141.95 L86.7 141.95 L87.2 141.95 L87.7 141.95 L88.2 141.95 L88.7 141.95 L89.2 141.95 L89.7 141.95 L90.2 141.95 L90.7 141.95 L91.2 141.95 L91.7 141.94 L92.2 141.94 L92.7 141.93 L93.2 141.91 L93.7 141.87 L94.2 141.8 L94.7 141.7 L95.2 141.53 L95.7 141.26 L96.2 140.86 L96.7 140.28 L97.2 139.5 L97.7 138.49 L98.2 137.27 L98.7 135.9 L99.2 134.54 L99.7 133.46 L100.2 133.31 L100.7 134.29 L101.2 135.62 L101.7 137 L102.2 138.26 L102.7 139.32 L103.2 140.15 L103.7 140.76 L104.2 141.19 L104.7 141.48 L105.2 141.67 L105.7 141.79 L106.2 141.86 L106.7 141.9 L107.2 141.92 L107.7 141.94 L108.2 141.94 L108.7 141.95 L109.2 141.95 L109.7 141.95 L110.2 141.95 L110.7 141.95 L111.2 141.95 L111.7 141.95 L112.2 141.95 L112.7 141.95 L113.2 141.95 L113.7 141.95 L114.2 141.95 L114.7 141.95 L115.2 141.95 L115.7 141.95 L116.2 141.95 L116.7 141.95 L117.2 141.95 L117.7 141.95 L118.2 141.95 L118.7 141.95 L119.2 141.95 L119.7 141.95 L120.2 141.95 L120.7 141.95 L121.2 141.95 L121.7 141.95 L122.2 141.95" fill="none" stroke="#dc7c7c" stroke-width="0.75"/>
<path d="M64.2 151.5 L64.7 151.5 L65.2 151.5 L65.7 151.5 L66.2 151.5 L66.7 151.5 L67.2 151.5 L67.7 151.5 L68.2 151.5 L68.7 151.5 L69.2 151.5 L69.7 151.5 L70.2 151.5 L70.7 151.5 L71.2 151.5 L71.7 151.5 L72.2 151.5 L72.7 151.5 L73.2 151.5 L73.7 151.5 L74.2 151.49 L74.7 151.49 L75.2 151.48 L75.7 151.48 L76.2 151.47 L76.7 151.45 L77.2 151.43 L77.7 151.39 L78.2 151.35 L78.7 151.29 L79.2 151.21 L79.7 151.09 L80.2 150.95 L80.7 150.76 L81.2 150.52 L81.7 150.22 L82.2 149.84 L82.7 149.39 L83.2 148.86 L83.7 148.25 L84.2 147.57 L84.7 146.82 L85.2 146.03 L85.7 145.25 L86.2 144.51 L86.7 143.9 L87.2 143.52 L87.7 143.71 L88.2 144.25 L88.7 144.94 L89.2 145.72 L89.7 146.51 L90.2 147.27 L90.7 147.99 L91.2 148.63 L91.7 149.19 L92.2 149.67 L92.7 150.08 L93.2 150.4 L93.7 150.67 L94.2 150.88 L94.7 151.04 L95.2 151.16 L95.7 151.26 L96.2 151.33 L96.7 151.38 L97.2 151.42 L97.7 151.44 L98.2 151.46 L98.7 151.47 L99.2 151.48 L99.7 151.49 L100.2 151.49 L100.7 151.5 L101.2 151.5 L101.7 151.5 L102.2 151.5 L102.7 151.5 L103.2 151.5 L103.7 151.5 L104.2 151.5 L104.7 151.5 L105.2 151.5 L105.7 151.5 L106.2 151.5 L106.7 151.5 L107.2 151.5 L107.7 151.5 L108.2 151.5 L108.7 151.5 L109.2 151.5 L109.7 151.5 L110.2 151.5 L110.7 151.5 L111.2 151.5 L111.7 151.5 L112.2 151.5 L112.7 151.5 L113.2 151.5 L113.7 151.5 L114.2 151.5 L114.7 151.5 L115.2 151.5 L115.7 151.5 L116.2 151.5 L116.7 151.5 L117.2 151.5 L117.7 151.5 L118.2 151.5 L118.7 151.5 L119.2 151.5 L119.7 151.5 L120.2 151.5 L120.7 151.5 L121.2 151.5 L121.7 151.5 L122.2 151.5" fill="none" stroke="#d2d2d2" stroke-width="0.75"/>
<path d="M64.2 161.05 L64.7 161.05 L65.2 161.05 L65.7 161.05 L66.2 161.05 L66.7 161.05 L67.2 161.05 L67.7 161.05 L68.2 161.05 L68.7 161.05 L69.2 161.05 L69.7 161.05 L70.2 161.05 L70.7 161.05 L71.2 161.05 L71.7 161.05 L72.2 161.05 L72.7 161.05 L73.2 161.05 L73.7 161.05 L74.2 161.05 L74.7 161.05 L75.2 161.05 L75.7 161.05 L76.2 161.05 L76.7 161.05 L77.2 161.05 L77.7 161.05 L78.2 161.05 L78.7 161.05 L79.2 161.05 L79.7 161.05 L80.2 161.05 L80.7 161.05 L81.2 161.05 L81.7 161.05 L82.2 161.05 L82.7 161.05 L83.2 161.05 L83.7 161.05 L84.2 161.05 L84.7 161.05 L85.2 161.05 L85.7 161.05 L86.2 161.05 L86.7 161.05 L87.2 161.05 L87.7 161.05 L88.2 161.05 L88.7 161.05 L89.2 161.05 L89.7 161.05 L90.2 161.05 L90.7 161.05 L91.2 161.05 L91.7 161.05 L92.2 161.04 L92.7 161.04 L93.2 161.02 L93.7 161 L94.2 160.96 L94.7 160.89 L95.2 160.78 L95.7 160.59 L96.2 160.31 L96.7 159.88 L97.2 159.29 L97.7 158.48 L98.2 157.45 L98.7 156.22 L99.2 154.87 L99.7 153.57 L100.2 152.61 L100.7 152.75 L101.2 153.81 L101.7 155.14 L102.2 156.47 L102.7 157.67 L103.2 158.66 L103.7 159.42 L104.2 159.98 L104.7 160.37 L105.2 160.64 L105.7 160.8 L106.2 160.91 L106.7 160.97 L107.2 161.01 L107.7 161.03 L108.2 161.04 L108.7 161.04 L109.2 161.05 L109.7 161.05 L110.2 161.05 L110.7 161.05 L111.2 161.05 L111.7 161.05 L112.2 161.05 L112.7 161.05 L113.2 161.05 L113.7 161.05 L114.2 161.05 L114.7 161.05 L115.2 161.05 L115.7 161.05 L116.2 161.05 L116.7 161.05 L117.2 161.05 L117.7 161.05 L118.2 161.05 L118.7 161.05 L119.2 161.05 L119.7 161.05 L120.2 161.05 L120.7 161.05 L121.2 161.05 L121.7 161.05 L122.2 161.05 L122.5 161.05 L64.2 161.05Z" fill="#eaf6ea" stroke="none"/>
<path d="M64.2 161.05 L64.7 161.05 L65.2 161.05 L65.7 161.05 L66.2 161.05 L66.7 161.05 L67.2 161.05 L67.7 161.05 L68.2 161.05 L68.7 161.05 L69.2 161.05 L69.7 161.05 L70.2 161.05 L70.7 161.05 L71.2 161.05 L71.7 161.05 L72.2 161.05 L72.7 161.05 L73.2 161.05 L73.7 161.05 L74.2 161.05 L74.7 161.05 L75.2 161.05 L75.7 161.05 L76.2 161.05 L76.7 161.05 L77.2 161.05 L77.7 161.05 L78.2 161.05 L78.7 161.05 L79.2 161.05 L79.7 161.05 L80.2 161.05 L80.7 161.05 L81.2 161.05 L81.7 161.05 L82.2 161.05 L82.7 161.05 L83.2 161.05 L83.7 161.05 L84.2 161.05 L84.7 161.05 L85.2 161.05 L85.7 161.05 L86.2 161.05 L86.7 161.05 L87.2 161.05 L87.7 161.05 L88.2 161.05 L88.7 161.05 L89.2 161.05 L89.7 161.05 L90.2 161.05 L90.7 161.05 L91.2 161.05 L91.7 161.05 L92.2 161.04 L92.7 161.04 L93.2 161.02 L93.7 161 L94.2 160.96 L94.7 160.89 L95.2 160.78 L95.7 160.59 L96.2 160.31 L96.7 159.88 L97.2 159.29 L97.7 158.48 L98.2 157.45 L98.7 156.22 L99.2 154.87 L99.7 153.57 L100.2 152.61 L100.7 152.75 L101.2 153.81 L101.7 155.14 L102.2 156.47 L102.7 157.67 L103.2 158.66 L103.7 159.42 L104.2 159.98 L104.7 160.37 L105.2 160.64 L105.7 160.8 L106.2 160.91 L106.7 160.97 L107.2 161.01 L107.7 161.03 L108.2 161.04 L108.7 161.04 L109.2 161.05 L109.7 161.05 L110.2 161.05 L110.7 161.05 L111.2 161.05 L111.7 161.05 L112.2 161.05 L112.7 161.05 L113.2 161.05 L113.7 161.05 L114.2 161.05 L114.7 161.05 L115.2 161.05 L115.7 161.05 L116.2 161.05 L116.7 161.05 L117.2 161.05 L117.7 161.05 L118.2 161.05 L118.7 161.05 L119.2 161.05 L119.7 161.05 L120.2 161.05 L120.7 161.05 L121.2 161.05 L121.7 161.05 L122.2 161.05" fill="none" stroke="#5cb05c" stroke-width="0.75"/>
<path d="M64.2 170.6 L64.7 170.6 L65.2 170.6 L65.7 170.6 L66.2 170.6 L66.7 170.6 L67.2 170.6 L67.7 170.6 L68.2 170.6 L68.7 170.6 L69.2 170.6 L69.7 170.6 L70.2 170.6 L70.7 170.6 L71.2 170.6 L71.7 170.6 L72.2 170.6 L72.7 170.6 L73.2 170.6 L73.7 170.6 L74.2 170.59 L74.7 170.59 L75.2 170.58 L75.7 170.58 L76.2 170.57 L76.7 170.55 L77.2 170.53 L77.7 170.49 L78.2 170.45 L78.7 170.39 L79.2 170.31 L79.7 170.19 L80.2 170.05 L80.7 169.86 L81.2 169.62 L81.7 169.32 L82.2 168.94 L82.7 168.49 L83.2 167.96 L83.7 167.35 L84.2 166.67 L84.7 165.92 L85.2 165.13 L85.7 164.35 L86.2 163.61 L86.7 163 L87.2 162.62 L87.7 162.81 L88.2 163.35 L88.7 164.04 L89.2 164.82 L89.7 165.61 L90.2 166.37 L90.7 167.09 L91.2 167.73 L91.7 168.29 L92.2 168.77 L92.7 169.18 L93.2 169.5 L93.7 169.77 L94.2 169.98 L94.7 170.14 L95.2 170.26 L95.7 170.36 L96.2 170.43 L96.7 170.48 L97.2 170.52 L97.7 170.54 L98.2 170.56 L98.7 170.57 L99.2 170.58 L99.7 170.59 L100.2 170.59 L100.7 170.6 L101.2 170.6 L101.7 170.6 L102.2 170.6 L102.7 170.6 L103.2 170.6 L103.7 170.6 L104.2 170.6 L104.7 170.6 L105.2 170.6 L105.7 170.6 L106.2 170.6 L106.7 170.6 L107.2 170.6 L107.7 170.6 L108.2 170.6 L108.7 170.6 L109.2 170.6 L109.7 170.6 L110.2 170.6 L110.7 170.6 L111.2 170.6 L111.7 170.6 L112.2 170.6 L112.7 170.6 L113.2 170.6 L113.7 170.6 L114.2 170.6 L114.7 170.6 L115.2 170.6 L115.7 170.6 L116.2 170.6 L116.7 170.6 L117.2 170.6 L117.7 170.6 L118.2 170.6 L118.7 170.6 L119.2 170.6 L119.7 170.6 L120.2 170.6 L120.7 170.6 L121.2 170.6 L121.7 170.6 L122.2 170.6" fill="none" stroke="#d2d2d2" stroke-width="0.75"/>
<path d="M64.2 180.15 L64.7 180.15 L65.2 180.15 L65.7 180.15 L66.2 180.15 L66.7 180.15 L67.2 180.15 L67.7 180.15 L68.2 180.15 L68.7 180.15 L69.2 180.15 L69.7 180.15 L70.2 180.15 L70.7 180.15 L71.2 180.15 L71.7 180.15 L72.2 180.15 L72.7 180.15 L73.2 180.15 L73.7 180.15 L74.2 180.15 L74.7 180.15 L75.2 180.15 L75.7 180.15 L76.2 180.15 L76.7 180.15 L77.2 180.15 L77.7 180.15 L78.2 180.15 L78.7 180.15 L79.2 180.15 L79.7 180.15 L80.2 180.15 L80.7 180.15 L81.2 180.14 L81.7 180.14 L82.2 180.13 L82.7 180.12 L83.2 180.1 L83.7 180.07 L84.2 180.01 L84.7 179.93 L85.2 179.81 L85.7 179.64 L86.2 179.38 L86.7 179.03 L87.2 178.57 L87.7 177.96 L88.2 177.19 L88.7 176.28 L89.2 175.23 L89.7 174.1 L90.2 173 L90.7 172.06 L91.2 171.55 L91.7 172.06 L92.2 173 L92.7 174.1 L93.2 175.23 L93.7 176.28 L94.2 177.19 L94.7 177.96 L95.2 178.57 L95.7 179.03 L96.2 179.38 L96.7 179.64 L97.2 179.81 L97.7 179.93 L98.2 180.01 L98.7 180.07 L99.2 180.1 L99.7 180.12 L100.2 180.13 L100.7 180.14 L101.2 180.14 L101.7 180.15 L102.2 180.15 L102.7 180.15 L103.2 180.15 L103.7 180.15 L104.2 180.15 L104.7 180.15 L105.2 180.15 L105.7 180.15 L106.2 180.15 L106.7 180.15 L107.2 180.15 L107.7 180.15 L108.2 180.15 L108.7 180.15 L109.2 180.15 L109.7 180.15 L110.2 180.15 L110.7 180.15 L111.2 180.15 L111.7 180.15 L112.2 180.15 L112.7 180.15 L113.2 180.15 L113.7 180.15 L114.2 180.15 L114.7 180.15 L115.2 180.15 L115.7 180.15 L116.2 180.15 L116.7 180.15 L117.2 180.15 L117.7 180.15 L118.2 180.15 L118.7 180.15 L119.2 180.15 L119.7 180.15 L120.2 180.15 L120.7 180.15 L121.2 180.15 L121.7 180.15 L122.2 180.15 L122.5 180.15 L64.2 180.15Z" fill="#e8eff9" stroke="none"/>
<path d="M64.2 180.15 L64.7 180.15 L65.2 180.15 L65.7 180.15 L66.2 180.15 L66.7 180.15 L67.2 180.15 L67.7 180.15 L68.2 180.15 L68.7 180.15 L69.2 180.15 L69.7 180.15 L70.2 180.15 L70.7 180.15 L71.2 180.15 L71.7 180.15 L72.2 180.15 L72.7 180.15 L73.2 180.15 L73.7 180.15 L74.2 180.15 L74.7 180.15 L75.2 180.15 L75.7 180.15 L76.2 180.15 L76.7 180.15 L77.2 180.15 L77.7 180.15 L78.2 180.15 L78.7 180.15 L79.2 180.15 L79.7 180.15 L80.2 180.15 L80.7 180.15 L81.2 180.14 L81.7 180.14 L82.2 180.13 L82.7 180.12 L83.2 180.1 L83.7 180.07 L84.2 180.01 L84.7 179.93 L85.2 179.81 L85.7 179.64 L86.2 179.38 L86.7 179.03 L87.2 178.57 L87.7 177.96 L88.2 177.19 L88.7 176.28 L89.2 175.23 L89.7 174.1 L90.2 173 L90.7 172.06 L91.2 171.55 L91.7 172.06 L92.2 173 L92.7 174.1 L93.2 175.23 L93.7 176.28 L94.2 177.19 L94.7 177.96 L95.2 178.57 L95.7 179.03 L96.2 179.38 L96.7 179.64 L97.2 179.81 L97.7 179.93 L98.2 180.01 L98.7 180.07 L99.2 180.1 L99.7 180.12 L100.2 180.13 L100.7 180.14 L101.2 180.14 L101.7 180.15 L102.2 180.15 L102.7 180.15 L103.2 180.15 L103.7 180.15 L104.2 180.15 L104.7 180.15 L105.2 180.15 L105.7 180.15 L106.2 180.15 L106.7 180.15 L107.2 180.15 L107.7 180.15 L108.2 180.15 L108.7 180.15 L109.2 180.15 L109.7 180.15 L110.2 180.15 L110.7 180.15 L111.2 180.15 L111.7 180.15 L112.2 180.15 L112.7 180.15 L113.2 180.15 L113.7 180.15 L114.2 180.15 L114.7 180.15 L115.2 180.15 L115.7 180.15 L116.2 180.15 L116.7 180.15 L117.2 180.15 L117.7 180.15 L118.2 180.15 L118.7 180.15 L119.2 180.15 L119.7 180.15 L120.2 180.15 L120.7 180.15 L121.2 180.15 L121.7 180.15 L122.2 180.15" fill="none" stroke="#5a8acc" stroke-width="0.75"/>
<path d="M64.2 189.7 L64.7 189.7 L65.2 189.7 L65.7 189.7 L66.2 189.7 L66.7 189.7 L67.2 189.7 L67.7 189.7 L68.2 189.7 L68.7 189.7 L69.2 189.7 L69.7 189.7 L70.2 189.7 L70.7 189.7 L71.2 189.7 L71.7 189.7 L72.2 189.7 L72.7 189.7 L73.2 189.69 L73.7 189.69 L74.2 189.69 L74.7 189.68 L75.2 189.67 L75.7 189.66 L76.2 189.64 L76.7 189.61 L77.2 189.57 L77.7 189.52 L78.2 189.44 L78.7 189.34 L79.2 189.21 L79.7 189.04 L80.2 188.82 L80.7 188.54 L81.2 188.2 L81.7 187.78 L82.2 187.29 L82.7 186.71 L83.2 186.05 L83.7 185.32 L84.2 184.55 L84.7 183.76 L85.2 183 L85.7 182.32 L86.2 181.83 L86.7 181.77 L87.2 182.21 L87.7 182.85 L88.2 183.6 L88.7 184.39 L89.2 185.17 L89.7 185.91 L90.2 186.58 L90.7 187.18 L91.2 187.69 L91.7 188.12 L92.2 188.48 L92.7 188.77 L93.2 189 L93.7 189.18 L94.2 189.32 L94.7 189.42 L95.2 189.5 L95.7 189.56 L96.2 189.6 L96.7 189.63 L97.2 189.65 L97.7 189.67 L98.2 189.68 L98.7 189.69 L99.2 189.69 L99.7 189.69 L100.2 189.7 L100.7 189.7 L101.2 189.7 L101.7 189.7 L102.2 189.7 L102.7 189.7 L103.2 189.7 L103.7 189.7 L104.2 189.7 L104.7 189.7 L105.2 189.7 L105.7 189.7 L106.2 189.7 L106.7 189.7 L107.2 189.7 L107.7 189.7 L108.2 189.7 L108.7 189.7 L109.2 189.7 L109.7 189.7 L110.2 189.7 L110.7 189.7 L111.2 189.7 L111.7 189.7 L112.2 189.7 L112.7 189.7 L113.2 189.7 L113.7 189.7 L114.2 189.7 L114.7 189.7 L115.2 189.7 L115.7 189.7 L116.2 189.7 L116.7 189.7 L117.2 189.7 L117.7 189.7 L118.2 189.7 L118.7 189.7 L119.2 189.7 L119.7 189.7 L120.2 189.7 L120.7 189.7 L121.2 189.7 L121.7 189.7 L122.2 189.7" fill="none" stroke="#d2d2d2" stroke-width="0.75"/>
<rect x="64.2" y="132.4" width="58.3" height="57.3" fill="none" stroke="#737373" stroke-width="0.8"/>
<line x1="66.2" y1="189.7" x2="66.2" y2="190.5" stroke="#999" stroke-width="0.5"/>
<line x1="77.2" y1="189.7" x2="77.2" y2="190.5" stroke="#999" stroke-width="0.5"/>
<line x1="88.2" y1="189.7" x2="88.2" y2="190.5" stroke="#999" stroke-width="0.5"/>
<line x1="99.2" y1="189.7" x2="99.2" y2="190.5" stroke="#999" stroke-width="0.5"/>
<line x1="110.2" y1="189.7" x2="110.2" y2="190.5" stroke="#999" stroke-width="0.5"/>
<line x1="121.2" y1="189.7" x2="121.2" y2="190.5" stroke="#999" stroke-width="0.5"/>
<text x="156.45" y="126.9" font-size="5.1" text-anchor="middle" fill="#1a1a1a" stroke="#1a1a1a" stroke-width="0.22">CD49e</text>
<path d="M127.3 141.95 L127.8 141.95 L128.3 141.95 L128.8 141.95 L129.3 141.95 L129.8 141.95 L130.3 141.95 L130.8 141.95 L131.3 141.95 L131.8 141.95 L132.3 141.95 L132.8 141.95 L133.3 141.95 L133.8 141.95 L134.3 141.95 L134.8 141.95 L135.3 141.95 L135.8 141.95 L136.3 141.95 L136.8 141.95 L137.3 141.95 L137.8 141.95 L138.3 141.95 L138.8 141.95 L139.3 141.95 L139.8 141.95 L140.3 141.95 L140.8 141.95 L141.3 141.95 L141.8 141.95 L142.3 141.95 L142.8 141.95 L143.3 141.95 L143.8 141.95 L144.3 141.95 L144.8 141.95 L145.3 141.95 L145.8 141.95 L146.3 141.95 L146.8 141.95 L147.3 141.95 L147.8 141.95 L148.3 141.95 L148.8 141.95 L149.3 141.95 L149.8 141.95 L150.3 141.95 L150.8 141.95 L151.3 141.95 L151.8 141.95 L152.3 141.95 L152.8 141.95 L153.3 141.95 L153.8 141.95 L154.3 141.95 L154.8 141.95 L155.3 141.94 L155.8 141.94 L156.3 141.93 L156.8 141.9 L157.3 141.85 L157.8 141.76 L158.3 141.59 L158.8 141.31 L159.3 140.86 L159.8 140.19 L160.3 139.23 L160.8 137.97 L161.3 136.46 L161.8 134.87 L162.3 133.54 L162.8 133.36 L163.3 134.56 L163.8 136.14 L164.3 137.68 L164.8 139 L165.3 140.02 L165.8 140.75 L166.3 141.24 L166.8 141.54 L167.3 141.73 L167.8 141.83 L168.3 141.89 L168.8 141.92 L169.3 141.94 L169.8 141.94 L170.3 141.95 L170.8 141.95 L171.3 141.95 L171.8 141.95 L172.3 141.95 L172.8 141.95 L173.3 141.95 L173.8 141.95 L174.3 141.95 L174.8 141.95 L175.3 141.95 L175.8 141.95 L176.3 141.95 L176.8 141.95 L177.3 141.95 L177.8 141.95 L178.3 141.95 L178.8 141.95 L179.3 141.95 L179.8 141.95 L180.3 141.95 L180.8 141.95 L181.3 141.95 L181.8 141.95 L182.3 141.95 L182.8 141.95 L183.3 141.95 L183.8 141.95 L184.3 141.95 L184.8 141.95 L185.3 141.95 L185.6 141.95 L127.3 141.95Z" fill="#fcecec" stroke="none"/>
<path d="M127.3 141.95 L127.8 141.95 L128.3 141.95 L128.8 141.95 L129.3 141.95 L129.8 141.95 L130.3 141.95 L130.8 141.95 L131.3 141.95 L131.8 141.95 L132.3 141.95 L132.8 141.95 L133.3 141.95 L133.8 141.95 L134.3 141.95 L134.8 141.95 L135.3 141.95 L135.8 141.95 L136.3 141.95 L136.8 141.95 L137.3 141.95 L137.8 141.95 L138.3 141.95 L138.8 141.95 L139.3 141.95 L139.8 141.95 L140.3 141.95 L140.8 141.95 L141.3 141.95 L141.8 141.95 L142.3 141.95 L142.8 141.95 L143.3 141.95 L143.8 141.95 L144.3 141.95 L144.8 141.95 L145.3 141.95 L145.8 141.95 L146.3 141.95 L146.8 141.95 L147.3 141.95 L147.8 141.95 L148.3 141.95 L148.8 141.95 L149.3 141.95 L149.8 141.95 L150.3 141.95 L150.8 141.95 L151.3 141.95 L151.8 141.95 L152.3 141.95 L152.8 141.95 L153.3 141.95 L153.8 141.95 L154.3 141.95 L154.8 141.95 L155.3 141.94 L155.8 141.94 L156.3 141.93 L156.8 141.9 L157.3 141.85 L157.8 141.76 L158.3 141.59 L158.8 141.31 L159.3 140.86 L159.8 140.19 L160.3 139.23 L160.8 137.97 L161.3 136.46 L161.8 134.87 L162.3 133.54 L162.8 133.36 L163.3 134.56 L163.8 136.14 L164.3 137.68 L164.8 139 L165.3 140.02 L165.8 140.75 L166.3 141.24 L166.8 141.54 L167.3 141.73 L167.8 141.83 L168.3 141.89 L168.8 141.92 L169.3 141.94 L169.8 141.94 L170.3 141.95 L170.8 141.95 L171.3 141.95 L171.8 141.95 L172.3 141.95 L172.8 141.95 L173.3 141.95 L173.8 141.95 L174.3 141.95 L174.8 141.95 L175.3 141.95 L175.8 141.95 L176.3 141.95 L176.8 141.95 L177.3 141.95 L177.8 141.95 L178.3 141.95 L178.8 141.95 L179.3 141.95 L179.8 141.95 L180.3 141.95 L180.8 141.95 L181.3 141.95 L181.8 141.95 L182.3 141.95 L182.8 141.95 L183.3 141.95 L183.8 141.95 L184.3 141.95 L184.8 141.95 L185.3 141.95" fill="none" stroke="#dc7c7c" stroke-width="0.75"/>
<path d="M127.3 151.5 L127.8 151.5 L128.3 151.5 L128.8 151.5 L129.3 151.49 L129.8 151.49 L130.3 151.49 L130.8 151.49 L131.3 151.48 L131.8 151.47 L132.3 151.46 L132.8 151.45 L133.3 151.43 L133.8 151.41 L134.3 151.38 L134.8 151.33 L135.3 151.28 L135.8 151.22 L136.3 151.13 L136.8 151.03 L137.3 150.9 L137.8 150.74 L138.3 150.55 L138.8 150.32 L139.3 150.05 L139.8 149.73 L140.3 149.36 L140.8 148.93 L141.3 148.46 L141.8 147.93 L142.3 147.36 L142.8 146.76 L143.3 146.13 L143.8 145.5 L144.3 144.88 L144.8 144.32 L145.3 143.86 L145.8 143.55 L146.3 143.59 L146.8 143.94 L147.3 144.43 L147.8 145 L148.3 145.62 L148.8 146.25 L149.3 146.88 L149.8 147.48 L150.3 148.04 L150.8 148.56 L151.3 149.02 L151.8 149.43 L152.3 149.79 L152.8 150.1 L153.3 150.37 L153.8 150.59 L154.3 150.78 L154.8 150.93 L155.3 151.05 L155.8 151.15 L156.3 151.23 L156.8 151.29 L157.3 151.34 L157.8 151.38 L158.3 151.41 L158.8 151.43 L159.3 151.45 L159.8 151.46 L160.3 151.47 L160.8 151.48 L161.3 151.49 L161.8 151.49 L162.3 151.49 L162.8 151.5 L163.3 151.5 L163.8 151.5 L164.3 151.5 L164.8 151.5 L165.3 151.5 L165.8 151.5 L166.3 151.5 L166.8 151.5 L167.3 151.5 L167.8 151.5 L168.3 151.5 L168.8 151.5 L169.3 151.5 L169.8 151.5 L170.3 151.5 L170.8 151.5 L171.3 151.5 L171.8 151.5 L172.3 151.5 L172.8 151.5 L173.3 151.5 L173.8 151.5 L174.3 151.5 L174.8 151.5 L175.3 151.5 L175.8 151.5 L176.3 151.5 L176.8 151.5 L177.3 151.5 L177.8 151.5 L178.3 151.5 L178.8 151.5 L179.3 151.5 L179.8 151.5 L180.3 151.5 L180.8 151.5 L181.3 151.5 L181.8 151.5 L182.3 151.5 L182.8 151.5 L183.3 151.5 L183.8 151.5 L184.3 151.5 L184.8 151.5 L185.3 151.5" fill="none" stroke="#d2d2d2" stroke-width="0.75"/>
<path d="M127.3 161.05 L127.8 161.05 L128.3 161.05 L128.8 161.05 L129.3 161.05 L129.8 161.05 L130.3 161.05 L130.8 161.05 L131.3 161.05 L131.8 161.05 L132.3 161.05 L132.8 161.05 L133.3 161.05 L133.8 161.05 L134.3 161.05 L134.8 161.05 L135.3 161.05 L135.8 161.05 L136.3 161.05 L136.8 161.05 L137.3 161.05 L137.8 161.05 L138.3 161.05 L138.8 161.05 L139.3 161.05 L139.8 161.05 L140.3 161.05 L140.8 161.05 L141.3 161.05 L141.8 161.05 L142.3 161.05 L142.8 161.05 L143.3 161.05 L143.8 161.05 L144.3 161.05 L144.8 161.05 L145.3 161.05 L145.8 161.05 L146.3 161.05 L146.8 161.05 L147.3 161.05 L147.8 161.05 L148.3 161.05 L148.8 161.05 L149.3 161.05 L149.8 161.05 L150.3 161.05 L150.8 161.05 L151.3 161.05 L151.8 161.05 L152.3 161.05 L152.8 161.05 L153.3 161.05 L153.8 161.05 L154.3 161.05 L154.8 161.05 L155.3 161.05 L155.8 161.04 L156.3 161.03 L156.8 161 L157.3 160.95 L157.8 160.86 L158.3 160.7 L158.8 160.43 L159.3 159.99 L159.8 159.33 L160.3 158.39 L160.8 157.16 L161.3 155.68 L161.8 154.13 L162.3 152.83 L162.8 152.65 L163.3 153.83 L163.8 155.37 L164.3 156.88 L164.8 158.17 L165.3 159.17 L165.8 159.88 L166.3 160.35 L166.8 160.65 L167.3 160.83 L167.8 160.94 L168.3 160.99 L168.8 161.02 L169.3 161.04 L169.8 161.04 L170.3 161.05 L170.8 161.05 L171.3 161.05 L171.8 161.05 L172.3 161.05 L172.8 161.05 L173.3 161.05 L173.8 161.05 L174.3 161.05 L174.8 161.05 L175.3 161.05 L175.8 161.05 L176.3 161.05 L176.8 161.05 L177.3 161.05 L177.8 161.05 L178.3 161.05 L178.8 161.05 L179.3 161.05 L179.8 161.05 L180.3 161.05 L180.8 161.05 L181.3 161.05 L181.8 161.05 L182.3 161.05 L182.8 161.05 L183.3 161.05 L183.8 161.05 L184.3 161.05 L184.8 161.05 L185.3 161.05 L185.6 161.05 L127.3 161.05Z" fill="#eaf6ea" stroke="none"/>
<path d="M127.3 161.05 L127.8 161.05 L128.3 161.05 L128.8 161.05 L129.3 161.05 L129.8 161.05 L130.3 161.05 L130.8 161.05 L131.3 161.05 L131.8 161.05 L132.3 161.05 L132.8 161.05 L133.3 161.05 L133.8 161.05 L134.3 161.05 L134.8 161.05 L135.3 161.05 L135.8 161.05 L136.3 161.05 L136.8 161.05 L137.3 161.05 L137.8 161.05 L138.3 161.05 L138.8 161.05 L139.3 161.05 L139.8 161.05 L140.3 161.05 L140.8 161.05 L141.3 161.05 L141.8 161.05 L142.3 161.05 L142.8 161.05 L143.3 161.05 L143.8 161.05 L144.3 161.05 L144.8 161.05 L145.3 161.05 L145.8 161.05 L146.3 161.05 L146.8 161.05 L147.3 161.05 L147.8 161.05 L148.3 161.05 L148.8 161.05 L149.3 161.05 L149.8 161.05 L150.3 161.05 L150.8 161.05 L151.3 161.05 L151.8 161.05 L152.3 161.05 L152.8 161.05 L153.3 161.05 L153.8 161.05 L154.3 161.05 L154.8 161.05 L155.3 161.05 L155.8 161.04 L156.3 161.03 L156.8 161 L157.3 160.95 L157.8 160.86 L158.3 160.7 L158.8 160.43 L159.3 159.99 L159.8 159.33 L160.3 158.39 L160.8 157.16 L161.3 155.68 L161.8 154.13 L162.3 152.83 L162.8 152.65 L163.3 153.83 L163.8 155.37 L164.3 156.88 L164.8 158.17 L165.3 159.17 L165.8 159.88 L166.3 160.35 L166.8 160.65 L167.3 160.83 L167.8 160.94 L168.3 160.99 L168.8 161.02 L169.3 161.04 L169.8 161.04 L170.3 161.05 L170.8 161.05 L171.3 161.05 L171.8 161.05 L172.3 161.05 L172.8 161.05 L173.3 161.05 L173.8 161.05 L174.3 161.05 L174.8 161.05 L175.3 161.05 L175.8 161.05 L176.3 161.05 L176.8 161.05 L177.3 161.05 L177.8 161.05 L178.3 161.05 L178.8 161.05 L179.3 161.05 L179.8 161.05 L180.3 161.05 L180.8 161.05 L181.3 161.05 L181.8 161.05 L182.3 161.05 L182.8 161.05 L183.3 161.05 L183.8 161.05 L184.3 161.05 L184.8 161.05 L185.3 161.05" fill="none" stroke="#5cb05c" stroke-width="0.75"/>
<path d="M127.3 170.6 L127.8 170.6 L128.3 170.59 L128.8 170.59 L129.3 170.59 L129.8 170.59 L130.3 170.58 L130.8 170.57 L131.3 170.56 L131.8 170.55 L132.3 170.53 L132.8 170.51 L133.3 170.48 L133.8 170.43 L134.3 170.38 L134.8 170.32 L135.3 170.23 L135.8 170.13 L136.3 170 L136.8 169.84 L137.3 169.65 L137.8 169.42 L138.3 169.15 L138.8 168.83 L139.3 168.46 L139.8 168.03 L140.3 167.56 L140.8 167.03 L141.3 166.46 L141.8 165.86 L142.3 165.23 L142.8 164.6 L143.3 163.98 L143.8 163.42 L144.3 162.96 L144.8 162.65 L145.3 162.69 L145.8 163.04 L146.3 163.53 L146.8 164.1 L147.3 164.72 L147.8 165.35 L148.3 165.98 L148.8 166.58 L149.3 167.14 L149.8 167.66 L150.3 168.12 L150.8 168.53 L151.3 168.89 L151.8 169.2 L152.3 169.47 L152.8 169.69 L153.3 169.88 L153.8 170.03 L154.3 170.15 L154.8 170.25 L155.3 170.33 L155.8 170.39 L156.3 170.44 L156.8 170.48 L157.3 170.51 L157.8 170.53 L158.3 170.55 L158.8 170.56 L159.3 170.57 L159.8 170.58 L160.3 170.59 L160.8 170.59 L161.3 170.59 L161.8 170.6 L162.3 170.6 L162.8 170.6 L163.3 170.6 L163.8 170.6 L164.3 170.6 L164.8 170.6 L165.3 170.6 L165.8 170.6 L166.3 170.6 L166.8 170.6 L167.3 170.6 L167.8 170.6 L168.3 170.6 L168.8 170.6 L169.3 170.6 L169.8 170.6 L170.3 170.6 L170.8 170.6 L171.3 170.6 L171.8 170.6 L172.3 170.6 L172.8 170.6 L173.3 170.6 L173.8 170.6 L174.3 170.6 L174.8 170.6 L175.3 170.6 L175.8 170.6 L176.3 170.6 L176.8 170.6 L177.3 170.6 L177.8 170.6 L178.3 170.6 L178.8 170.6 L179.3 170.6 L179.8 170.6 L180.3 170.6 L180.8 170.6 L181.3 170.6 L181.8 170.6 L182.3 170.6 L182.8 170.6 L183.3 170.6 L183.8 170.6 L184.3 170.6 L184.8 170.6 L185.3 170.6" fill="none" stroke="#d2d2d2" stroke-width="0.75"/>
<path d="M127.3 180.15 L127.8 180.15 L128.3 180.15 L128.8 180.15 L129.3 180.15 L129.8 180.15 L130.3 180.15 L130.8 180.15 L131.3 180.15 L131.8 180.15 L132.3 180.15 L132.8 180.14 L133.3 180.14 L133.8 180.14 L134.3 180.13 L134.8 180.13 L135.3 180.12 L135.8 180.1 L136.3 180.08 L136.8 180.05 L137.3 180.01 L137.8 179.96 L138.3 179.89 L138.8 179.8 L139.3 179.69 L139.8 179.54 L140.3 179.35 L140.8 179.11 L141.3 178.82 L141.8 178.47 L142.3 178.06 L142.8 177.58 L143.3 177.02 L143.8 176.4 L144.3 175.73 L144.8 175.01 L145.3 174.28 L145.8 173.57 L146.3 172.93 L146.8 172.42 L147.3 172.15 L147.8 172.42 L148.3 172.93 L148.8 173.57 L149.3 174.28 L149.8 175.01 L150.3 175.73 L150.8 176.4 L151.3 177.02 L151.8 177.58 L152.3 178.06 L152.8 178.47 L153.3 178.82 L153.8 179.11 L154.3 179.35 L154.8 179.54 L155.3 179.69 L155.8 179.8 L156.3 179.89 L156.8 179.96 L157.3 180.01 L157.8 180.05 L158.3 180.08 L158.8 180.1 L159.3 180.12 L159.8 180.13 L160.3 180.13 L160.8 180.14 L161.3 180.14 L161.8 180.14 L162.3 180.15 L162.8 180.15 L163.3 180.15 L163.8 180.15 L164.3 180.15 L164.8 180.15 L165.3 180.15 L165.8 180.15 L166.3 180.15 L166.8 180.15 L167.3 180.15 L167.8 180.15 L168.3 180.15 L168.8 180.15 L169.3 180.15 L169.8 180.15 L170.3 180.15 L170.8 180.15 L171.3 180.15 L171.8 180.15 L172.3 180.15 L172.8 180.15 L173.3 180.15 L173.8 180.15 L174.3 180.15 L174.8 180.15 L175.3 180.15 L175.8 180.15 L176.3 180.15 L176.8 180.15 L177.3 180.15 L177.8 180.15 L178.3 180.15 L178.8 180.15 L179.3 180.15 L179.8 180.15 L180.3 180.15 L180.8 180.15 L181.3 180.15 L181.8 180.15 L182.3 180.15 L182.8 180.15 L183.3 180.15 L183.8 180.15 L184.3 180.15 L184.8 180.15 L185.3 180.15 L185.6 180.15 L127.3 180.15Z" fill="#e8eff9" stroke="none"/>
<path d="M127.3 180.15 L127.8 180.15 L128.3 180.15 L128.8 180.15 L129.3 180.15 L129.8 180.15 L130.3 180.15 L130.8 180.15 L131.3 180.15 L131.8 180.15 L132.3 180.15 L132.8 180.14 L133.3 180.14 L133.8 180.14 L134.3 180.13 L134.8 180.13 L135.3 180.12 L135.8 180.1 L136.3 180.08 L136.8 180.05 L137.3 180.01 L137.8 179.96 L138.3 179.89 L138.8 179.8 L139.3 179.69 L139.8 179.54 L140.3 179.35 L140.8 179.11 L141.3 178.82 L141.8 178.47 L142.3 178.06 L142.8 177.58 L143.3 177.02 L143.8 176.4 L144.3 175.73 L144.8 175.01 L145.3 174.28 L145.8 173.57 L146.3 172.93 L146.8 172.42 L147.3 172.15 L147.8 172.42 L148.3 172.93 L148.8 173.57 L149.3 174.28 L149.8 175.01 L150.3 175.73 L150.8 176.4 L151.3 177.02 L151.8 177.58 L152.3 178.06 L152.8 178.47 L153.3 178.82 L153.8 179.11 L154.3 179.35 L154.8 179.54 L155.3 179.69 L155.8 179.8 L156.3 179.89 L156.8 179.96 L157.3 180.01 L157.8 180.05 L158.3 180.08 L158.8 180.1 L159.3 180.12 L159.8 180.13 L160.3 180.13 L160.8 180.14 L161.3 180.14 L161.8 180.14 L162.3 180.15 L162.8 180.15 L163.3 180.15 L163.8 180.15 L164.3 180.15 L164.8 180.15 L165.3 180.15 L165.8 180.15 L166.3 180.15 L166.8 180.15 L167.3 180.15 L167.8 180.15 L168.3 180.15 L168.8 180.15 L169.3 180.15 L169.8 180.15 L170.3 180.15 L170.8 180.15 L171.3 180.15 L171.8 180.15 L172.3 180.15 L172.8 180.15 L173.3 180.15 L173.8 180.15 L174.3 180.15 L174.8 180.15 L175.3 180.15 L175.8 180.15 L176.3 180.15 L176.8 180.15 L177.3 180.15 L177.8 180.15 L178.3 180.15 L178.8 180.15 L179.3 180.15 L179.8 180.15 L180.3 180.15 L180.8 180.15 L181.3 180.15 L181.8 180.15 L182.3 180.15 L182.8 180.15 L183.3 180.15 L183.8 180.15 L184.3 180.15 L184.8 180.15 L185.3 180.15" fill="none" stroke="#5a8acc" stroke-width="0.75"/>
<path d="M127.3 189.7 L127.8 189.7 L128.3 189.7 L128.8 189.7 L129.3 189.69 L129.8 189.69 L130.3 189.69 L130.8 189.69 L131.3 189.68 L131.8 189.67 L132.3 189.66 L132.8 189.65 L133.3 189.63 L133.8 189.61 L134.3 189.58 L134.8 189.53 L135.3 189.48 L135.8 189.42 L136.3 189.33 L136.8 189.23 L137.3 189.1 L137.8 188.94 L138.3 188.75 L138.8 188.52 L139.3 188.25 L139.8 187.93 L140.3 187.56 L140.8 187.13 L141.3 186.66 L141.8 186.13 L142.3 185.56 L142.8 184.96 L143.3 184.33 L143.8 183.7 L144.3 183.08 L144.8 182.52 L145.3 182.06 L145.8 181.75 L146.3 181.79 L146.8 182.14 L147.3 182.63 L147.8 183.2 L148.3 183.82 L148.8 184.45 L149.3 185.08 L149.8 185.68 L150.3 186.24 L150.8 186.76 L151.3 187.22 L151.8 187.63 L152.3 187.99 L152.8 188.3 L153.3 188.57 L153.8 188.79 L154.3 188.98 L154.8 189.13 L155.3 189.25 L155.8 189.35 L156.3 189.43 L156.8 189.49 L157.3 189.54 L157.8 189.58 L158.3 189.61 L158.8 189.63 L159.3 189.65 L159.8 189.66 L160.3 189.67 L160.8 189.68 L161.3 189.69 L161.8 189.69 L162.3 189.69 L162.8 189.7 L163.3 189.7 L163.8 189.7 L164.3 189.7 L164.8 189.7 L165.3 189.7 L165.8 189.7 L166.3 189.7 L166.8 189.7 L167.3 189.7 L167.8 189.7 L168.3 189.7 L168.8 189.7 L169.3 189.7 L169.8 189.7 L170.3 189.7 L170.8 189.7 L171.3 189.7 L171.8 189.7 L172.3 189.7 L172.8 189.7 L173.3 189.7 L173.8 189.7 L174.3 189.7 L174.8 189.7 L175.3 189.7 L175.8 189.7 L176.3 189.7 L176.8 189.7 L177.3 189.7 L177.8 189.7 L178.3 189.7 L178.8 189.7 L179.3 189.7 L179.8 189.7 L180.3 189.7 L180.8 189.7 L181.3 189.7 L181.8 189.7 L182.3 189.7 L182.8 189.7 L183.3 189.7 L183.8 189.7 L184.3 189.7 L184.8 189.7 L185.3 189.7" fill="none" stroke="#d2d2d2" stroke-width="0.75"/>
<rect x="127.3" y="132.4" width="58.3" height="57.3" fill="none" stroke="#737373" stroke-width="0.8"/>
<line x1="129.3" y1="189.7" x2="129.3" y2="190.5" stroke="#999" stroke-width="0.5"/>
<line x1="140.3" y1="189.7" x2="140.3" y2="190.5" stroke="#999" stroke-width="0.5"/>
<line x1="151.3" y1="189.7" x2="151.3" y2="190.5" stroke="#999" stroke-width="0.5"/>
<line x1="162.3" y1="189.7" x2="162.3" y2="190.5" stroke="#999" stroke-width="0.5"/>
<line x1="173.3" y1="189.7" x2="173.3" y2="190.5" stroke="#999" stroke-width="0.5"/>
<line x1="184.3" y1="189.7" x2="184.3" y2="190.5" stroke="#999" stroke-width="0.5"/>
<text x="219.65" y="126.9" font-size="5.1" text-anchor="middle" fill="#1a1a1a" stroke="#1a1a1a" stroke-width="0.22">CXCR6</text>
<path d="M190.5 141.95 L191 141.95 L191.5 141.95 L192 141.95 L192.5 141.95 L193 141.95 L193.5 141.95 L194 141.95 L194.5 141.95 L195 141.95 L195.5 141.95 L196 141.95 L196.5 141.95 L197 141.95 L197.5 141.95 L198 141.95 L198.5 141.95 L199 141.95 L199.5 141.94 L200 141.94 L200.5 141.94 L201 141.93 L201.5 141.93 L202 141.92 L202.5 141.9 L203 141.88 L203.5 141.86 L204 141.83 L204.5 141.78 L205 141.72 L205.5 141.65 L206 141.55 L206.5 141.43 L207 141.28 L207.5 141.09 L208 140.86 L208.5 140.58 L209 140.25 L209.5 139.85 L210 139.4 L210.5 138.88 L211 138.3 L211.5 137.67 L212 136.99 L212.5 136.28 L213 135.57 L213.5 134.89 L214 134.28 L214.5 133.8 L215 133.55 L215.5 133.8 L216 134.28 L216.5 134.89 L217 135.57 L217.5 136.28 L218 136.99 L218.5 137.67 L219 138.3 L219.5 138.88 L220 139.4 L220.5 139.85 L221 140.25 L221.5 140.58 L222 140.86 L222.5 141.09 L223 141.28 L223.5 141.43 L224 141.55 L224.5 141.65 L225 141.72 L225.5 141.78 L226 141.83 L226.5 141.86 L227 141.88 L227.5 141.9 L228 141.92 L228.5 141.93 L229 141.93 L229.5 141.94 L230 141.94 L230.5 141.94 L231 141.95 L231.5 141.95 L232 141.95 L232.5 141.95 L233 141.95 L233.5 141.95 L234 141.95 L234.5 141.95 L235 141.95 L235.5 141.95 L236 141.95 L236.5 141.95 L237 141.95 L237.5 141.95 L238 141.95 L238.5 141.95 L239 141.95 L239.5 141.95 L240 141.95 L240.5 141.95 L241 141.95 L241.5 141.95 L242 141.95 L242.5 141.95 L243 141.95 L243.5 141.95 L244 141.95 L244.5 141.95 L245 141.95 L245.5 141.95 L246 141.95 L246.5 141.95 L247 141.95 L247.5 141.95 L248 141.95 L248.5 141.95 L248.8 141.95 L190.5 141.95Z" fill="#fcecec" stroke="none"/>
<path d="M190.5 141.95 L191 141.95 L191.5 141.95 L192 141.95 L192.5 141.95 L193 141.95 L193.5 141.95 L194 141.95 L194.5 141.95 L195 141.95 L195.5 141.95 L196 141.95 L196.5 141.95 L197 141.95 L197.5 141.95 L198 141.95 L198.5 141.95 L199 141.95 L199.5 141.94 L200 141.94 L200.5 141.94 L201 141.93 L201.5 141.93 L202 141.92 L202.5 141.9 L203 141.88 L203.5 141.86 L204 141.83 L204.5 141.78 L205 141.72 L205.5 141.65 L206 141.55 L206.5 141.43 L207 141.28 L207.5 141.09 L208 140.86 L208.5 140.58 L209 140.25 L209.5 139.85 L210 139.4 L210.5 138.88 L211 138.3 L211.5 137.67 L212 136.99 L212.5 136.28 L213 135.57 L213.5 134.89 L214 134.28 L214.5 133.8 L215 133.55 L215.5 133.8 L216 134.28 L216.5 134.89 L217 135.57 L217.5 136.28 L218 136.99 L218.5 137.67 L219 138.3 L219.5 138.88 L220 139.4 L220.5 139.85 L221 140.25 L221.5 140.58 L222 140.86 L222.5 141.09 L223 141.28 L223.5 141.43 L224 141.55 L224.5 141.65 L225 141.72 L225.5 141.78 L226 141.83 L226.5 141.86 L227 141.88 L227.5 141.9 L228 141.92 L228.5 141.93 L229 141.93 L229.5 141.94 L230 141.94 L230.5 141.94 L231 141.95 L231.5 141.95 L232 141.95 L232.5 141.95 L233 141.95 L233.5 141.95 L234 141.95 L234.5 141.95 L235 141.95 L235.5 141.95 L236 141.95 L236.5 141.95 L237 141.95 L237.5 141.95 L238 141.95 L238.5 141.95 L239 141.95 L239.5 141.95 L240 141.95 L240.5 141.95 L241 141.95 L241.5 141.95 L242 141.95 L242.5 141.95 L243 141.95 L243.5 141.95 L244 141.95 L244.5 141.95 L245 141.95 L245.5 141.95 L246 141.95 L246.5 141.95 L247 141.95 L247.5 141.95 L248 141.95 L248.5 141.95" fill="none" stroke="#dc7c7c" stroke-width="0.75"/>
<path d="M190.5 151.5 L191 151.5 L191.5 151.5 L192 151.5 L192.5 151.5 L193 151.5 L193.5 151.5 L194 151.5 L194.5 151.5 L195 151.5 L195.5 151.49 L196 151.49 L196.5 151.49 L197 151.48 L197.5 151.47 L198 151.45 L198.5 151.43 L199 151.4 L199.5 151.36 L200 151.3 L200.5 151.22 L201 151.12 L201.5 150.98 L202 150.8 L202.5 150.57 L203 150.28 L203.5 149.92 L204 149.49 L204.5 148.98 L205 148.38 L205.5 147.71 L206 146.97 L206.5 146.19 L207 145.4 L207.5 144.65 L208 144.01 L208.5 143.57 L209 143.63 L209.5 144.12 L210 144.8 L210.5 145.56 L211 146.35 L211.5 147.12 L212 147.85 L212.5 148.51 L213 149.09 L213.5 149.58 L214 150 L214.5 150.34 L215 150.62 L215.5 150.84 L216 151.01 L216.5 151.14 L217 151.24 L217.5 151.32 L218 151.37 L218.5 151.41 L219 151.44 L219.5 151.46 L220 151.47 L220.5 151.48 L221 151.49 L221.5 151.49 L222 151.49 L222.5 151.5 L223 151.5 L223.5 151.5 L224 151.5 L224.5 151.5 L225 151.5 L225.5 151.5 L226 151.5 L226.5 151.5 L227 151.5 L227.5 151.5 L228 151.5 L228.5 151.5 L229 151.5 L229.5 151.5 L230 151.5 L230.5 151.5 L231 151.5 L231.5 151.5 L232 151.5 L232.5 151.5 L233 151.5 L233.5 151.5 L234 151.5 L234.5 151.5 L235 151.5 L235.5 151.5 L236 151.5 L236.5 151.5 L237 151.5 L237.5 151.5 L238 151.5 L238.5 151.5 L239 151.5 L239.5 151.5 L240 151.5 L240.5 151.5 L241 151.5 L241.5 151.5 L242 151.5 L242.5 151.5 L243 151.5 L243.5 151.5 L244 151.5 L244.5 151.5 L245 151.5 L245.5 151.5 L246 151.5 L246.5 151.5 L247 151.5 L247.5 151.5 L248 151.5 L248.5 151.5" fill="none" stroke="#d2d2d2" stroke-width="0.75"/>
<path d="M190.5 161.05 L191 161.05 L191.5 161.05 L192 161.05 L192.5 161.05 L193 161.05 L193.5 161.05 L194 161.05 L194.5 161.05 L195 161.05 L195.5 161.05 L196 161.05 L196.5 161.05 L197 161.05 L197.5 161.05 L198 161.04 L198.5 161.04 L199 161.03 L199.5 161.03 L200 161.01 L200.5 160.99 L201 160.96 L201.5 160.92 L202 160.86 L202.5 160.78 L203 160.66 L203.5 160.5 L204 160.3 L204.5 160.02 L205 159.68 L205.5 159.24 L206 158.71 L206.5 158.07 L207 157.34 L207.5 156.51 L208 155.63 L208.5 154.72 L209 153.86 L209.5 153.13 L210 152.68 L210.5 152.9 L211 153.55 L211.5 154.37 L212 155.26 L212.5 156.16 L213 157.02 L213.5 157.79 L214 158.46 L214.5 159.04 L215 159.51 L215.5 159.89 L216 160.2 L216.5 160.43 L217 160.6 L217.5 160.73 L218 160.83 L218.5 160.9 L219 160.95 L219.5 160.98 L220 161.01 L220.5 161.02 L221 161.03 L221.5 161.04 L222 161.04 L222.5 161.05 L223 161.05 L223.5 161.05 L224 161.05 L224.5 161.05 L225 161.05 L225.5 161.05 L226 161.05 L226.5 161.05 L227 161.05 L227.5 161.05 L228 161.05 L228.5 161.05 L229 161.05 L229.5 161.05 L230 161.05 L230.5 161.05 L231 161.05 L231.5 161.05 L232 161.05 L232.5 161.05 L233 161.05 L233.5 161.05 L234 161.05 L234.5 161.05 L235 161.05 L235.5 161.05 L236 161.05 L236.5 161.05 L237 161.05 L237.5 161.05 L238 161.05 L238.5 161.05 L239 161.05 L239.5 161.05 L240 161.05 L240.5 161.05 L241 161.05 L241.5 161.05 L242 161.05 L242.5 161.05 L243 161.05 L243.5 161.05 L244 161.05 L244.5 161.05 L245 161.05 L245.5 161.05 L246 161.05 L246.5 161.05 L247 161.05 L247.5 161.05 L248 161.05 L248.5 161.05 L248.8 161.05 L190.5 161.05Z" fill="#eaf6ea" stroke="none"/>
<path d="M190.5 161.05 L191 161.05 L191.5 161.05 L192 161.05 L192.5 161.05 L193 161.05 L193.5 161.05 L194 161.05 L194.5 161.05 L195 161.05 L195.5 161.05 L196 161.05 L196.5 161.05 L197 161.05 L197.5 161.05 L198 161.04 L198.5 161.04 L199 161.03 L199.5 161.03 L200 161.01 L200.5 160.99 L201 160.96 L201.5 160.92 L202 160.86 L202.5 160.78 L203 160.66 L203.5 160.5 L204 160.3 L204.5 160.02 L205 159.68 L205.5 159.24 L206 158.71 L206.5 158.07 L207 157.34 L207.5 156.51 L208 155.63 L208.5 154.72 L209 153.86 L209.5 153.13 L210 152.68 L210.5 152.9 L211 153.55 L211.5 154.37 L212 155.26 L212.5 156.16 L213 157.02 L213.5 157.79 L214 158.46 L214.5 159.04 L215 159.51 L215.5 159.89 L216 160.2 L216.5 160.43 L217 160.6 L217.5 160.73 L218 160.83 L218.5 160.9 L219 160.95 L219.5 160.98 L220 161.01 L220.5 161.02 L221 161.03 L221.5 161.04 L222 161.04 L222.5 161.05 L223 161.05 L223.5 161.05 L224 161.05 L224.5 161.05 L225 161.05 L225.5 161.05 L226 161.05 L226.5 161.05 L227 161.05 L227.5 161.05 L228 161.05 L228.5 161.05 L229 161.05 L229.5 161.05 L230 161.05 L230.5 161.05 L231 161.05 L231.5 161.05 L232 161.05 L232.5 161.05 L233 161.05 L233.5 161.05 L234 161.05 L234.5 161.05 L235 161.05 L235.5 161.05 L236 161.05 L236.5 161.05 L237 161.05 L237.5 161.05 L238 161.05 L238.5 161.05 L239 161.05 L239.5 161.05 L240 161.05 L240.5 161.05 L241 161.05 L241.5 161.05 L242 161.05 L242.5 161.05 L243 161.05 L243.5 161.05 L244 161.05 L244.5 161.05 L245 161.05 L245.5 161.05 L246 161.05 L246.5 161.05 L247 161.05 L247.5 161.05 L248 161.05 L248.5 161.05" fill="none" stroke="#5cb05c" stroke-width="0.75"/>
<path d="M190.5 170.6 L191 170.6 L191.5 170.6 L192 170.6 L192.5 170.6 L193 170.6 L193.5 170.6 L194 170.59 L194.5 170.59 L195 170.59 L195.5 170.58 L196 170.57 L196.5 170.56 L197 170.54 L197.5 170.51 L198 170.47 L198.5 170.42 L199 170.34 L199.5 170.24 L200 170.11 L200.5 169.94 L201 169.72 L201.5 169.44 L202 169.1 L202.5 168.68 L203 168.19 L203.5 167.61 L204 166.95 L204.5 166.22 L205 165.45 L205.5 164.66 L206 163.9 L206.5 163.22 L207 162.73 L207.5 162.67 L208 163.11 L208.5 163.75 L209 164.5 L209.5 165.29 L210 166.07 L210.5 166.81 L211 167.48 L211.5 168.08 L212 168.59 L212.5 169.02 L213 169.38 L213.5 169.67 L214 169.9 L214.5 170.08 L215 170.22 L215.5 170.32 L216 170.4 L216.5 170.46 L217 170.5 L217.5 170.53 L218 170.55 L218.5 170.57 L219 170.58 L219.5 170.59 L220 170.59 L220.5 170.59 L221 170.6 L221.5 170.6 L222 170.6 L222.5 170.6 L223 170.6 L223.5 170.6 L224 170.6 L224.5 170.6 L225 170.6 L225.5 170.6 L226 170.6 L226.5 170.6 L227 170.6 L227.5 170.6 L228 170.6 L228.5 170.6 L229 170.6 L229.5 170.6 L230 170.6 L230.5 170.6 L231 170.6 L231.5 170.6 L232 170.6 L232.5 170.6 L233 170.6 L233.5 170.6 L234 170.6 L234.5 170.6 L235 170.6 L235.5 170.6 L236 170.6 L236.5 170.6 L237 170.6 L237.5 170.6 L238 170.6 L238.5 170.6 L239 170.6 L239.5 170.6 L240 170.6 L240.5 170.6 L241 170.6 L241.5 170.6 L242 170.6 L242.5 170.6 L243 170.6 L243.5 170.6 L244 170.6 L244.5 170.6 L245 170.6 L245.5 170.6 L246 170.6 L246.5 170.6 L247 170.6 L247.5 170.6 L248 170.6 L248.5 170.6" fill="none" stroke="#d2d2d2" stroke-width="0.75"/>
<path d="M190.5 180.15 L191 180.15 L191.5 180.15 L192 180.15 L192.5 180.15 L193 180.15 L193.5 180.15 L194 180.15 L194.5 180.15 L195 180.15 L195.5 180.15 L196 180.15 L196.5 180.15 L197 180.15 L197.5 180.15 L198 180.15 L198.5 180.15 L199 180.15 L199.5 180.15 L200 180.15 L200.5 180.15 L201 180.15 L201.5 180.15 L202 180.15 L202.5 180.15 L203 180.15 L203.5 180.15 L204 180.15 L204.5 180.15 L205 180.15 L205.5 180.15 L206 180.15 L206.5 180.15 L207 180.15 L207.5 180.15 L208 180.15 L208.5 180.15 L209 180.15 L209.5 180.15 L210 180.15 L210.5 180.15 L211 180.15 L211.5 180.15 L212 180.14 L212.5 180.14 L213 180.13 L213.5 180.12 L214 180.1 L214.5 180.07 L215 180.03 L215.5 179.95 L216 179.84 L216.5 179.68 L217 179.44 L217.5 179.11 L218 178.67 L218.5 178.09 L219 177.36 L219.5 176.47 L220 175.45 L220.5 174.33 L221 173.21 L221.5 172.22 L222 171.59 L222.5 171.91 L223 172.79 L223.5 173.88 L224 175.01 L224.5 176.08 L225 177.02 L225.5 177.82 L226 178.46 L226.5 178.95 L227 179.32 L227.5 179.59 L228 179.78 L228.5 179.91 L229 180 L229.5 180.06 L230 180.09 L230.5 180.12 L231 180.13 L231.5 180.14 L232 180.14 L232.5 180.15 L233 180.15 L233.5 180.15 L234 180.15 L234.5 180.15 L235 180.15 L235.5 180.15 L236 180.15 L236.5 180.15 L237 180.15 L237.5 180.15 L238 180.15 L238.5 180.15 L239 180.15 L239.5 180.15 L240 180.15 L240.5 180.15 L241 180.15 L241.5 180.15 L242 180.15 L242.5 180.15 L243 180.15 L243.5 180.15 L244 180.15 L244.5 180.15 L245 180.15 L245.5 180.15 L246 180.15 L246.5 180.15 L247 180.15 L247.5 180.15 L248 180.15 L248.5 180.15 L248.8 180.15 L190.5 180.15Z" fill="#e8eff9" stroke="none"/>
<path d="M190.5 180.15 L191 180.15 L191.5 180.15 L192 180.15 L192.5 180.15 L193 180.15 L193.5 180.15 L194 180.15 L194.5 180.15 L195 180.15 L195.5 180.15 L196 180.15 L196.5 180.15 L197 180.15 L197.5 180.15 L198 180.15 L198.5 180.15 L199 180.15 L199.5 180.15 L200 180.15 L200.5 180.15 L201 180.15 L201.5 180.15 L202 180.15 L202.5 180.15 L203 180.15 L203.5 180.15 L204 180.15 L204.5 180.15 L205 180.15 L205.5 180.15 L206 180.15 L206.5 180.15 L207 180.15 L207.5 180.15 L208 180.15 L208.5 180.15 L209 180.15 L209.5 180.15 L210 180.15 L210.5 180.15 L211 180.15 L211.5 180.15 L212 180.14 L212.5 180.14 L213 180.13 L213.5 180.12 L214 180.1 L214.5 180.07 L215 180.03 L215.5 179.95 L216 179.84 L216.5 179.68 L217 179.44 L217.5 179.11 L218 178.67 L218.5 178.09 L219 177.36 L219.5 176.47 L220 175.45 L220.5 174.33 L221 173.21 L221.5 172.22 L222 171.59 L222.5 171.91 L223 172.79 L223.5 173.88 L224 175.01 L224.5 176.08 L225 177.02 L225.5 177.82 L226 178.46 L226.5 178.95 L227 179.32 L227.5 179.59 L228 179.78 L228.5 179.91 L229 180 L229.5 180.06 L230 180.09 L230.5 180.12 L231 180.13 L231.5 180.14 L232 180.14 L232.5 180.15 L233 180.15 L233.5 180.15 L234 180.15 L234.5 180.15 L235 180.15 L235.5 180.15 L236 180.15 L236.5 180.15 L237 180.15 L237.5 180.15 L238 180.15 L238.5 180.15 L239 180.15 L239.5 180.15 L240 180.15 L240.5 180.15 L241 180.15 L241.5 180.15 L242 180.15 L242.5 180.15 L243 180.15 L243.5 180.15 L244 180.15 L244.5 180.15 L245 180.15 L245.5 180.15 L246 180.15 L246.5 180.15 L247 180.15 L247.5 180.15 L248 180.15 L248.5 180.15" fill="none" stroke="#5a8acc" stroke-width="0.75"/>
<path d="M190.5 189.7 L191 189.7 L191.5 189.7 L192 189.7 L192.5 189.7 L193 189.7 L193.5 189.7 L194 189.7 L194.5 189.7 L195 189.7 L195.5 189.69 L196 189.69 L196.5 189.69 L197 189.68 L197.5 189.67 L198 189.65 L198.5 189.63 L199 189.6 L199.5 189.56 L200 189.5 L200.5 189.42 L201 189.32 L201.5 189.18 L202 189 L202.5 188.77 L203 188.48 L203.5 188.12 L204 187.69 L204.5 187.18 L205 186.58 L205.5 185.91 L206 185.17 L206.5 184.39 L207 183.6 L207.5 182.85 L208 182.21 L208.5 181.77 L209 181.83 L209.5 182.32 L210 183 L210.5 183.76 L211 184.55 L211.5 185.32 L212 186.05 L212.5 186.71 L213 187.29 L213.5 187.78 L214 188.2 L214.5 188.54 L215 188.82 L215.5 189.04 L216 189.21 L216.5 189.34 L217 189.44 L217.5 189.52 L218 189.57 L218.5 189.61 L219 189.64 L219.5 189.66 L220 189.67 L220.5 189.68 L221 189.69 L221.5 189.69 L222 189.69 L222.5 189.7 L223 189.7 L223.5 189.7 L224 189.7 L224.5 189.7 L225 189.7 L225.5 189.7 L226 189.7 L226.5 189.7 L227 189.7 L227.5 189.7 L228 189.7 L228.5 189.7 L229 189.7 L229.5 189.7 L230 189.7 L230.5 189.7 L231 189.7 L231.5 189.7 L232 189.7 L232.5 189.7 L233 189.7 L233.5 189.7 L234 189.7 L234.5 189.7 L235 189.7 L235.5 189.7 L236 189.7 L236.5 189.7 L237 189.7 L237.5 189.7 L238 189.7 L238.5 189.7 L239 189.7 L239.5 189.7 L240 189.7 L240.5 189.7 L241 189.7 L241.5 189.7 L242 189.7 L242.5 189.7 L243 189.7 L243.5 189.7 L244 189.7 L244.5 189.7 L245 189.7 L245.5 189.7 L246 189.7 L246.5 189.7 L247 189.7 L247.5 189.7 L248 189.7 L248.5 189.7" fill="none" stroke="#d2d2d2" stroke-width="0.75"/>
<rect x="190.5" y="132.4" width="58.3" height="57.3" fill="none" stroke="#737373" stroke-width="0.8"/>
<line x1="192.5" y1="189.7" x2="192.5" y2="190.5" stroke="#999" stroke-width="0.5"/>
<line x1="203.5" y1="189.7" x2="203.5" y2="190.5" stroke="#999" stroke-width="0.5"/>
<line x1="214.5" y1="189.7" x2="214.5" y2="190.5" stroke="#999" stroke-width="0.5"/>
<line x1="225.5" y1="189.7" x2="225.5" y2="190.5" stroke="#999" stroke-width="0.5"/>
<line x1="236.5" y1="189.7" x2="236.5" y2="190.5" stroke="#999" stroke-width="0.5"/>
<line x1="247.5" y1="189.7" x2="247.5" y2="190.5" stroke="#999" stroke-width="0.5"/>
<text x="30.75" y="201" font-size="5.1" text-anchor="middle" fill="#1a1a1a" stroke="#1a1a1a" stroke-width="0.22">NKp46</text>
<path d="M1.6 215.75 L2.1 215.75 L2.6 215.75 L3.1 215.75 L3.6 215.75 L4.1 215.75 L4.6 215.75 L5.1 215.75 L5.6 215.75 L6.1 215.75 L6.6 215.75 L7.1 215.75 L7.6 215.75 L8.1 215.75 L8.6 215.75 L9.1 215.75 L9.6 215.75 L10.1 215.75 L10.6 215.75 L11.1 215.75 L11.6 215.75 L12.1 215.75 L12.6 215.75 L13.1 215.75 L13.6 215.75 L14.1 215.75 L14.6 215.74 L15.1 215.74 L15.6 215.74 L16.1 215.74 L16.6 215.73 L17.1 215.72 L17.6 215.71 L18.1 215.69 L18.6 215.66 L19.1 215.62 L19.6 215.55 L20.1 215.45 L20.6 215.31 L21.1 215.11 L21.6 214.82 L22.1 214.42 L22.6 213.89 L23.1 213.2 L23.6 212.35 L24.1 211.35 L24.6 210.23 L25.1 209.08 L25.6 208.02 L26.1 207.28 L26.6 207.44 L27.1 208.12 L27.6 208.97 L28.1 209.85 L28.6 210.65 L29.1 211.33 L29.6 211.89 L30.1 212.32 L30.6 212.69 L31.1 213.04 L31.6 213.36 L32.1 213.63 L32.6 213.87 L33.1 214.09 L33.6 214.29 L34.1 214.47 L34.6 214.64 L35.1 214.79 L35.6 214.93 L36.1 215.05 L36.6 215.16 L37.1 215.26 L37.6 215.34 L38.1 215.41 L38.6 215.48 L39.1 215.53 L39.6 215.57 L40.1 215.61 L40.6 215.64 L41.1 215.66 L41.6 215.68 L42.1 215.7 L42.6 215.71 L43.1 215.72 L43.6 215.73 L44.1 215.73 L44.6 215.74 L45.1 215.74 L45.6 215.74 L46.1 215.74 L46.6 215.75 L47.1 215.75 L47.6 215.75 L48.1 215.75 L48.6 215.75 L49.1 215.75 L49.6 215.75 L50.1 215.75 L50.6 215.75 L51.1 215.75 L51.6 215.75 L52.1 215.75 L52.6 215.75 L53.1 215.75 L53.6 215.75 L54.1 215.75 L54.6 215.75 L55.1 215.75 L55.6 215.75 L56.1 215.75 L56.6 215.75 L57.1 215.75 L57.6 215.75 L58.1 215.75 L58.6 215.75 L59.1 215.75 L59.6 215.75 L59.9 215.75 L1.6 215.75Z" fill="#fcecec" stroke="none"/>
<path d="M1.6 215.75 L2.1 215.75 L2.6 215.75 L3.1 215.75 L3.6 215.75 L4.1 215.75 L4.6 215.75 L5.1 215.75 L5.6 215.75 L6.1 215.75 L6.6 215.75 L7.1 215.75 L7.6 215.75 L8.1 215.75 L8.6 215.75 L9.1 215.75 L9.6 215.75 L10.1 215.75 L10.6 215.75 L11.1 215.75 L11.6 215.75 L12.1 215.75 L12.6 215.75 L13.1 215.75 L13.6 215.75 L14.1 215.75 L14.6 215.74 L15.1 215.74 L15.6 215.74 L16.1 215.74 L16.6 215.73 L17.1 215.72 L17.6 215.71 L18.1 215.69 L18.6 215.66 L19.1 215.62 L19.6 215.55 L20.1 215.45 L20.6 215.31 L21.1 215.11 L21.6 214.82 L22.1 214.42 L22.6 213.89 L23.1 213.2 L23.6 212.35 L24.1 211.35 L24.6 210.23 L25.1 209.08 L25.6 208.02 L26.1 207.28 L26.6 207.44 L27.1 208.12 L27.6 208.97 L28.1 209.85 L28.6 210.65 L29.1 211.33 L29.6 211.89 L30.1 212.32 L30.6 212.69 L31.1 213.04 L31.6 213.36 L32.1 213.63 L32.6 213.87 L33.1 214.09 L33.6 214.29 L34.1 214.47 L34.6 214.64 L35.1 214.79 L35.6 214.93 L36.1 215.05 L36.6 215.16 L37.1 215.26 L37.6 215.34 L38.1 215.41 L38.6 215.48 L39.1 215.53 L39.6 215.57 L40.1 215.61 L40.6 215.64 L41.1 215.66 L41.6 215.68 L42.1 215.7 L42.6 215.71 L43.1 215.72 L43.6 215.73 L44.1 215.73 L44.6 215.74 L45.1 215.74 L45.6 215.74 L46.1 215.74 L46.6 215.75 L47.1 215.75 L47.6 215.75 L48.1 215.75 L48.6 215.75 L49.1 215.75 L49.6 215.75 L50.1 215.75 L50.6 215.75 L51.1 215.75 L51.6 215.75 L52.1 215.75 L52.6 215.75 L53.1 215.75 L53.6 215.75 L54.1 215.75 L54.6 215.75 L55.1 215.75 L55.6 215.75 L56.1 215.75 L56.6 215.75 L57.1 215.75 L57.6 215.75 L58.1 215.75 L58.6 215.75 L59.1 215.75 L59.6 215.75" fill="none" stroke="#dc7c7c" stroke-width="0.75"/>
<path d="M1.6 225.3 L2.1 225.3 L2.6 225.3 L3.1 225.29 L3.6 225.29 L4.1 225.29 L4.6 225.28 L5.1 225.28 L5.6 225.27 L6.1 225.26 L6.6 225.24 L7.1 225.22 L7.6 225.19 L8.1 225.15 L8.6 225.1 L9.1 225.03 L9.6 224.94 L10.1 224.83 L10.6 224.69 L11.1 224.52 L11.6 224.31 L12.1 224.05 L12.6 223.75 L13.1 223.38 L13.6 222.96 L14.1 222.48 L14.6 221.94 L15.1 221.35 L15.6 220.71 L16.1 220.04 L16.6 219.36 L17.1 218.7 L17.6 218.1 L18.1 217.61 L18.6 217.32 L19.1 217.47 L19.6 217.89 L20.1 218.45 L20.6 219.09 L21.1 219.77 L21.6 220.44 L22.1 221.09 L22.6 221.71 L23.1 222.27 L23.6 222.78 L24.1 223.22 L24.6 223.61 L25.1 223.94 L25.6 224.21 L26.1 224.44 L26.6 224.63 L27.1 224.78 L27.6 224.9 L28.1 225 L28.6 225.07 L29.1 225.13 L29.6 225.17 L30.1 225.21 L30.6 225.23 L31.1 225.25 L31.6 225.26 L32.1 225.28 L32.6 225.28 L33.1 225.29 L33.6 225.29 L34.1 225.29 L34.6 225.3 L35.1 225.3 L35.6 225.3 L36.1 225.3 L36.6 225.3 L37.1 225.3 L37.6 225.3 L38.1 225.3 L38.6 225.3 L39.1 225.3 L39.6 225.3 L40.1 225.3 L40.6 225.3 L41.1 225.3 L41.6 225.3 L42.1 225.3 L42.6 225.3 L43.1 225.3 L43.6 225.3 L44.1 225.3 L44.6 225.3 L45.1 225.3 L45.6 225.3 L46.1 225.3 L46.6 225.3 L47.1 225.3 L47.6 225.3 L48.1 225.3 L48.6 225.3 L49.1 225.3 L49.6 225.3 L50.1 225.3 L50.6 225.3 L51.1 225.3 L51.6 225.3 L52.1 225.3 L52.6 225.3 L53.1 225.3 L53.6 225.3 L54.1 225.3 L54.6 225.3 L55.1 225.3 L55.6 225.3 L56.1 225.3 L56.6 225.3 L57.1 225.3 L57.6 225.3 L58.1 225.3 L58.6 225.3 L59.1 225.3 L59.6 225.3" fill="none" stroke="#d2d2d2" stroke-width="0.75"/>
<path d="M1.6 234.85 L2.1 234.85 L2.6 234.85 L3.1 234.85 L3.6 234.85 L4.1 234.85 L4.6 234.85 L5.1 234.85 L5.6 234.85 L6.1 234.85 L6.6 234.85 L7.1 234.85 L7.6 234.85 L8.1 234.85 L8.6 234.85 L9.1 234.85 L9.6 234.85 L10.1 234.85 L10.6 234.85 L11.1 234.85 L11.6 234.85 L12.1 234.85 L12.6 234.85 L13.1 234.85 L13.6 234.85 L14.1 234.85 L14.6 234.85 L15.1 234.85 L15.6 234.85 L16.1 234.84 L16.6 234.84 L17.1 234.84 L17.6 234.83 L18.1 234.82 L18.6 234.8 L19.1 234.78 L19.6 234.74 L20.1 234.68 L20.6 234.59 L21.1 234.45 L21.6 234.25 L22.1 233.95 L22.6 233.54 L23.1 232.97 L23.6 232.24 L24.1 231.34 L24.6 230.28 L25.1 229.12 L25.6 227.97 L26.1 227.04 L26.6 226.79 L27.1 227.37 L27.6 228.21 L28.1 229.11 L28.6 229.94 L29.1 230.64 L29.6 231.19 L30.1 231.6 L30.6 231.92 L31.1 232.21 L31.6 232.44 L32.1 232.61 L32.6 232.73 L33.1 232.81 L33.6 232.87 L34.1 232.91 L34.6 232.96 L35.1 233.06 L35.6 233.26 L36.1 233.49 L36.6 233.71 L37.1 233.92 L37.6 234.11 L38.1 234.28 L38.6 234.41 L39.1 234.52 L39.6 234.61 L40.1 234.67 L40.6 234.72 L41.1 234.76 L41.6 234.78 L42.1 234.8 L42.6 234.82 L43.1 234.83 L43.6 234.83 L44.1 234.84 L44.6 234.84 L45.1 234.84 L45.6 234.85 L46.1 234.85 L46.6 234.85 L47.1 234.85 L47.6 234.85 L48.1 234.85 L48.6 234.85 L49.1 234.85 L49.6 234.85 L50.1 234.85 L50.6 234.85 L51.1 234.85 L51.6 234.85 L52.1 234.85 L52.6 234.85 L53.1 234.85 L53.6 234.85 L54.1 234.85 L54.6 234.85 L55.1 234.85 L55.6 234.85 L56.1 234.85 L56.6 234.85 L57.1 234.85 L57.6 234.85 L58.1 234.85 L58.6 234.85 L59.1 234.85 L59.6 234.85 L59.9 234.85 L1.6 234.85Z" fill="#eaf6ea" stroke="none"/>
<path d="M1.6 234.85 L2.1 234.85 L2.6 234.85 L3.1 234.85 L3.6 234.85 L4.1 234.85 L4.6 234.85 L5.1 234.85 L5.6 234.85 L6.1 234.85 L6.6 234.85 L7.1 234.85 L7.6 234.85 L8.1 234.85 L8.6 234.85 L9.1 234.85 L9.6 234.85 L10.1 234.85 L10.6 234.85 L11.1 234.85 L11.6 234.85 L12.1 234.85 L12.6 234.85 L13.1 234.85 L13.6 234.85 L14.1 234.85 L14.6 234.85 L15.1 234.85 L15.6 234.85 L16.1 234.84 L16.6 234.84 L17.1 234.84 L17.6 234.83 L18.1 234.82 L18.6 234.8 L19.1 234.78 L19.6 234.74 L20.1 234.68 L20.6 234.59 L21.1 234.45 L21.6 234.25 L22.1 233.95 L22.6 233.54 L23.1 232.97 L23.6 232.24 L24.1 231.34 L24.6 230.28 L25.1 229.12 L25.6 227.97 L26.1 227.04 L26.6 226.79 L27.1 227.37 L27.6 228.21 L28.1 229.11 L28.6 229.94 L29.1 230.64 L29.6 231.19 L30.1 231.6 L30.6 231.92 L31.1 232.21 L31.6 232.44 L32.1 232.61 L32.6 232.73 L33.1 232.81 L33.6 232.87 L34.1 232.91 L34.6 232.96 L35.1 233.06 L35.6 233.26 L36.1 233.49 L36.6 233.71 L37.1 233.92 L37.6 234.11 L38.1 234.28 L38.6 234.41 L39.1 234.52 L39.6 234.61 L40.1 234.67 L40.6 234.72 L41.1 234.76 L41.6 234.78 L42.1 234.8 L42.6 234.82 L43.1 234.83 L43.6 234.83 L44.1 234.84 L44.6 234.84 L45.1 234.84 L45.6 234.85 L46.1 234.85 L46.6 234.85 L47.1 234.85 L47.6 234.85 L48.1 234.85 L48.6 234.85 L49.1 234.85 L49.6 234.85 L50.1 234.85 L50.6 234.85 L51.1 234.85 L51.6 234.85 L52.1 234.85 L52.6 234.85 L53.1 234.85 L53.6 234.85 L54.1 234.85 L54.6 234.85 L55.1 234.85 L55.6 234.85 L56.1 234.85 L56.6 234.85 L57.1 234.85 L57.6 234.85 L58.1 234.85 L58.6 234.85 L59.1 234.85 L59.6 234.85" fill="none" stroke="#5cb05c" stroke-width="0.75"/>
<path d="M1.6 244.4 L2.1 244.4 L2.6 244.4 L3.1 244.39 L3.6 244.39 L4.1 244.39 L4.6 244.38 L5.1 244.38 L5.6 244.37 L6.1 244.36 L6.6 244.34 L7.1 244.32 L7.6 244.29 L8.1 244.25 L8.6 244.2 L9.1 244.13 L9.6 244.04 L10.1 243.93 L10.6 243.79 L11.1 243.62 L11.6 243.41 L12.1 243.15 L12.6 242.85 L13.1 242.48 L13.6 242.06 L14.1 241.58 L14.6 241.04 L15.1 240.45 L15.6 239.81 L16.1 239.14 L16.6 238.46 L17.1 237.8 L17.6 237.2 L18.1 236.71 L18.6 236.42 L19.1 236.57 L19.6 236.99 L20.1 237.55 L20.6 238.19 L21.1 238.87 L21.6 239.54 L22.1 240.19 L22.6 240.81 L23.1 241.37 L23.6 241.88 L24.1 242.32 L24.6 242.71 L25.1 243.04 L25.6 243.31 L26.1 243.54 L26.6 243.73 L27.1 243.88 L27.6 244 L28.1 244.1 L28.6 244.17 L29.1 244.23 L29.6 244.27 L30.1 244.31 L30.6 244.33 L31.1 244.35 L31.6 244.36 L32.1 244.38 L32.6 244.38 L33.1 244.39 L33.6 244.39 L34.1 244.39 L34.6 244.4 L35.1 244.4 L35.6 244.4 L36.1 244.4 L36.6 244.4 L37.1 244.4 L37.6 244.4 L38.1 244.4 L38.6 244.4 L39.1 244.4 L39.6 244.4 L40.1 244.4 L40.6 244.4 L41.1 244.4 L41.6 244.4 L42.1 244.4 L42.6 244.4 L43.1 244.4 L43.6 244.4 L44.1 244.4 L44.6 244.4 L45.1 244.4 L45.6 244.4 L46.1 244.4 L46.6 244.4 L47.1 244.4 L47.6 244.4 L48.1 244.4 L48.6 244.4 L49.1 244.4 L49.6 244.4 L50.1 244.4 L50.6 244.4 L51.1 244.4 L51.6 244.4 L52.1 244.4 L52.6 244.4 L53.1 244.4 L53.6 244.4 L54.1 244.4 L54.6 244.4 L55.1 244.4 L55.6 244.4 L56.1 244.4 L56.6 244.4 L57.1 244.4 L57.6 244.4 L58.1 244.4 L58.6 244.4 L59.1 244.4 L59.6 244.4" fill="none" stroke="#d2d2d2" stroke-width="0.75"/>
<path d="M1.6 253.95 L2.1 253.95 L2.6 253.95 L3.1 253.95 L3.6 253.95 L4.1 253.95 L4.6 253.95 L5.1 253.95 L5.6 253.95 L6.1 253.95 L6.6 253.95 L7.1 253.95 L7.6 253.95 L8.1 253.95 L8.6 253.95 L9.1 253.95 L9.6 253.95 L10.1 253.95 L10.6 253.95 L11.1 253.95 L11.6 253.95 L12.1 253.95 L12.6 253.95 L13.1 253.95 L13.6 253.95 L14.1 253.95 L14.6 253.95 L15.1 253.95 L15.6 253.95 L16.1 253.95 L16.6 253.95 L17.1 253.95 L17.6 253.95 L18.1 253.95 L18.6 253.95 L19.1 253.95 L19.6 253.95 L20.1 253.95 L20.6 253.95 L21.1 253.95 L21.6 253.95 L22.1 253.95 L22.6 253.95 L23.1 253.95 L23.6 253.95 L24.1 253.95 L24.6 253.95 L25.1 253.95 L25.6 253.95 L26.1 253.95 L26.6 253.95 L27.1 253.95 L27.6 253.95 L28.1 253.95 L28.6 253.95 L29.1 253.95 L29.6 253.95 L30.1 253.95 L30.6 253.95 L31.1 253.94 L31.6 253.93 L32.1 253.92 L32.6 253.89 L33.1 253.84 L33.6 253.75 L34.1 253.61 L34.6 253.39 L35.1 253.06 L35.6 252.57 L36.1 251.89 L36.6 250.99 L37.1 249.88 L37.6 248.58 L38.1 247.23 L38.6 246.02 L39.1 245.35 L39.6 246.02 L40.1 247.23 L40.6 248.58 L41.1 249.88 L41.6 250.99 L42.1 251.89 L42.6 252.57 L43.1 253.06 L43.6 253.39 L44.1 253.61 L44.6 253.75 L45.1 253.84 L45.6 253.89 L46.1 253.92 L46.6 253.93 L47.1 253.94 L47.6 253.95 L48.1 253.95 L48.6 253.95 L49.1 253.95 L49.6 253.95 L50.1 253.95 L50.6 253.95 L51.1 253.95 L51.6 253.95 L52.1 253.95 L52.6 253.95 L53.1 253.95 L53.6 253.95 L54.1 253.95 L54.6 253.95 L55.1 253.95 L55.6 253.95 L56.1 253.95 L56.6 253.95 L57.1 253.95 L57.6 253.95 L58.1 253.95 L58.6 253.95 L59.1 253.95 L59.6 253.95 L59.9 253.95 L1.6 253.95Z" fill="#e8eff9" stroke="none"/>
<path d="M1.6 253.95 L2.1 253.95 L2.6 253.95 L3.1 253.95 L3.6 253.95 L4.1 253.95 L4.6 253.95 L5.1 253.95 L5.6 253.95 L6.1 253.95 L6.6 253.95 L7.1 253.95 L7.6 253.95 L8.1 253.95 L8.6 253.95 L9.1 253.95 L9.6 253.95 L10.1 253.95 L10.6 253.95 L11.1 253.95 L11.6 253.95 L12.1 253.95 L12.6 253.95 L13.1 253.95 L13.6 253.95 L14.1 253.95 L14.6 253.95 L15.1 253.95 L15.6 253.95 L16.1 253.95 L16.6 253.95 L17.1 253.95 L17.6 253.95 L18.1 253.95 L18.6 253.95 L19.1 253.95 L19.6 253.95 L20.1 253.95 L20.6 253.95 L21.1 253.95 L21.6 253.95 L22.1 253.95 L22.6 253.95 L23.1 253.95 L23.6 253.95 L24.1 253.95 L24.6 253.95 L25.1 253.95 L25.6 253.95 L26.1 253.95 L26.6 253.95 L27.1 253.95 L27.6 253.95 L28.1 253.95 L28.6 253.95 L29.1 253.95 L29.6 253.95 L30.1 253.95 L30.6 253.95 L31.1 253.94 L31.6 253.93 L32.1 253.92 L32.6 253.89 L33.1 253.84 L33.6 253.75 L34.1 253.61 L34.6 253.39 L35.1 253.06 L35.6 252.57 L36.1 251.89 L36.6 250.99 L37.1 249.88 L37.6 248.58 L38.1 247.23 L38.6 246.02 L39.1 245.35 L39.6 246.02 L40.1 247.23 L40.6 248.58 L41.1 249.88 L41.6 250.99 L42.1 251.89 L42.6 252.57 L43.1 253.06 L43.6 253.39 L44.1 253.61 L44.6 253.75 L45.1 253.84 L45.6 253.89 L46.1 253.92 L46.6 253.93 L47.1 253.94 L47.6 253.95 L48.1 253.95 L48.6 253.95 L49.1 253.95 L49.6 253.95 L50.1 253.95 L50.6 253.95 L51.1 253.95 L51.6 253.95 L52.1 253.95 L52.6 253.95 L53.1 253.95 L53.6 253.95 L54.1 253.95 L54.6 253.95 L55.1 253.95 L55.6 253.95 L56.1 253.95 L56.6 253.95 L57.1 253.95 L57.6 253.95 L58.1 253.95 L58.6 253.95 L59.1 253.95 L59.6 253.95" fill="none" stroke="#5a8acc" stroke-width="0.75"/>
<path d="M1.6 263.5 L2.1 263.5 L2.6 263.5 L3.1 263.5 L3.6 263.5 L4.1 263.49 L4.6 263.49 L5.1 263.49 L5.6 263.48 L6.1 263.47 L6.6 263.46 L7.1 263.44 L7.6 263.42 L8.1 263.39 L8.6 263.36 L9.1 263.31 L9.6 263.24 L10.1 263.16 L10.6 263.06 L11.1 262.92 L11.6 262.76 L12.1 262.56 L12.6 262.31 L13.1 262.01 L13.6 261.66 L14.1 261.25 L14.6 260.78 L15.1 260.25 L15.6 259.67 L16.1 259.04 L16.6 258.37 L17.1 257.69 L17.6 257.03 L18.1 256.42 L18.6 255.9 L19.1 255.56 L19.6 255.61 L20.1 255.99 L20.6 256.53 L21.1 257.16 L21.6 257.83 L22.1 258.51 L22.6 259.17 L23.1 259.79 L23.6 260.36 L24.1 260.88 L24.6 261.34 L25.1 261.74 L25.6 262.08 L26.1 262.36 L26.6 262.6 L27.1 262.79 L27.6 262.95 L28.1 263.08 L28.6 263.18 L29.1 263.26 L29.6 263.32 L30.1 263.37 L30.6 263.4 L31.1 263.43 L31.6 263.45 L32.1 263.46 L32.6 263.47 L33.1 263.48 L33.6 263.49 L34.1 263.49 L34.6 263.49 L35.1 263.5 L35.6 263.5 L36.1 263.5 L36.6 263.5 L37.1 263.5 L37.6 263.5 L38.1 263.5 L38.6 263.5 L39.1 263.5 L39.6 263.5 L40.1 263.5 L40.6 263.5 L41.1 263.5 L41.6 263.5 L42.1 263.5 L42.6 263.5 L43.1 263.5 L43.6 263.5 L44.1 263.5 L44.6 263.5 L45.1 263.5 L45.6 263.5 L46.1 263.5 L46.6 263.5 L47.1 263.5 L47.6 263.5 L48.1 263.5 L48.6 263.5 L49.1 263.5 L49.6 263.5 L50.1 263.5 L50.6 263.5 L51.1 263.5 L51.6 263.5 L52.1 263.5 L52.6 263.5 L53.1 263.5 L53.6 263.5 L54.1 263.5 L54.6 263.5 L55.1 263.5 L55.6 263.5 L56.1 263.5 L56.6 263.5 L57.1 263.5 L57.6 263.5 L58.1 263.5 L58.6 263.5 L59.1 263.5 L59.6 263.5" fill="none" stroke="#d2d2d2" stroke-width="0.75"/>
<rect x="1.6" y="206.2" width="58.3" height="57.3" fill="none" stroke="#737373" stroke-width="0.8"/>
<line x1="3.6" y1="263.5" x2="3.6" y2="264.3" stroke="#999" stroke-width="0.5"/>
<line x1="14.6" y1="263.5" x2="14.6" y2="264.3" stroke="#999" stroke-width="0.5"/>
<line x1="25.6" y1="263.5" x2="25.6" y2="264.3" stroke="#999" stroke-width="0.5"/>
<line x1="36.6" y1="263.5" x2="36.6" y2="264.3" stroke="#999" stroke-width="0.5"/>
<line x1="47.6" y1="263.5" x2="47.6" y2="264.3" stroke="#999" stroke-width="0.5"/>
<line x1="58.6" y1="263.5" x2="58.6" y2="264.3" stroke="#999" stroke-width="0.5"/>
<text x="93.15" y="201" font-size="5.1" text-anchor="middle" fill="#1a1a1a" stroke="#1a1a1a" stroke-width="0.22">CD16</text>
<path d="M64 215.75 L64.5 215.75 L65 215.75 L65.5 215.75 L66 215.75 L66.5 215.75 L67 215.75 L67.5 215.75 L68 215.75 L68.5 215.75 L69 215.75 L69.5 215.75 L70 215.75 L70.5 215.75 L71 215.75 L71.5 215.75 L72 215.75 L72.5 215.75 L73 215.75 L73.5 215.75 L74 215.75 L74.5 215.75 L75 215.75 L75.5 215.75 L76 215.75 L76.5 215.75 L77 215.75 L77.5 215.75 L78 215.75 L78.5 215.75 L79 215.75 L79.5 215.75 L80 215.75 L80.5 215.75 L81 215.75 L81.5 215.75 L82 215.75 L82.5 215.75 L83 215.75 L83.5 215.75 L84 215.75 L84.5 215.75 L85 215.75 L85.5 215.75 L86 215.75 L86.5 215.75 L87 215.75 L87.5 215.75 L88 215.75 L88.5 215.75 L89 215.75 L89.5 215.75 L90 215.75 L90.5 215.75 L91 215.75 L91.5 215.75 L92 215.75 L92.5 215.75 L93 215.75 L93.5 215.75 L94 215.75 L94.5 215.75 L95 215.75 L95.5 215.75 L96 215.75 L96.5 215.75 L97 215.75 L97.5 215.75 L98 215.75 L98.5 215.74 L99 215.74 L99.5 215.73 L100 215.71 L100.5 215.69 L101 215.64 L101.5 215.56 L102 215.43 L102.5 215.24 L103 214.95 L103.5 214.54 L104 213.97 L104.5 213.21 L105 212.26 L105.5 211.13 L106 209.87 L106.5 208.62 L107 207.58 L107.5 207.2 L108 207.95 L108.5 209.11 L109 210.38 L109.5 211.6 L110 212.66 L110.5 213.54 L111 214.22 L111.5 214.72 L112 215.08 L112.5 215.33 L113 215.49 L113.5 215.59 L114 215.66 L114.5 215.7 L115 215.72 L115.5 215.73 L116 215.74 L116.5 215.75 L117 215.75 L117.5 215.75 L118 215.75 L118.5 215.75 L119 215.75 L119.5 215.75 L120 215.75 L120.5 215.75 L121 215.75 L121.5 215.75 L122 215.75 L122.3 215.75 L64 215.75Z" fill="#fcecec" stroke="none"/>
<path d="M64 215.75 L64.5 215.75 L65 215.75 L65.5 215.75 L66 215.75 L66.5 215.75 L67 215.75 L67.5 215.75 L68 215.75 L68.5 215.75 L69 215.75 L69.5 215.75 L70 215.75 L70.5 215.75 L71 215.75 L71.5 215.75 L72 215.75 L72.5 215.75 L73 215.75 L73.5 215.75 L74 215.75 L74.5 215.75 L75 215.75 L75.5 215.75 L76 215.75 L76.5 215.75 L77 215.75 L77.5 215.75 L78 215.75 L78.5 215.75 L79 215.75 L79.5 215.75 L80 215.75 L80.5 215.75 L81 215.75 L81.5 215.75 L82 215.75 L82.5 215.75 L83 215.75 L83.5 215.75 L84 215.75 L84.5 215.75 L85 215.75 L85.5 215.75 L86 215.75 L86.5 215.75 L87 215.75 L87.5 215.75 L88 215.75 L88.5 215.75 L89 215.75 L89.5 215.75 L90 215.75 L90.5 215.75 L91 215.75 L91.5 215.75 L92 215.75 L92.5 215.75 L93 215.75 L93.5 215.75 L94 215.75 L94.5 215.75 L95 215.75 L95.5 215.75 L96 215.75 L96.5 215.75 L97 215.75 L97.5 215.75 L98 215.75 L98.5 215.74 L99 215.74 L99.5 215.73 L100 215.71 L100.5 215.69 L101 215.64 L101.5 215.56 L102 215.43 L102.5 215.24 L103 214.95 L103.5 214.54 L104 213.97 L104.5 213.21 L105 212.26 L105.5 211.13 L106 209.87 L106.5 208.62 L107 207.58 L107.5 207.2 L108 207.95 L108.5 209.11 L109 210.38 L109.5 211.6 L110 212.66 L110.5 213.54 L111 214.22 L111.5 214.72 L112 215.08 L112.5 215.33 L113 215.49 L113.5 215.59 L114 215.66 L114.5 215.7 L115 215.72 L115.5 215.73 L116 215.74 L116.5 215.75 L117 215.75 L117.5 215.75 L118 215.75 L118.5 215.75 L119 215.75 L119.5 215.75 L120 215.75 L120.5 215.75 L121 215.75 L121.5 215.75 L122 215.75" fill="none" stroke="#dc7c7c" stroke-width="0.75"/>
<path d="M64 225.3 L64.5 225.3 L65 225.29 L65.5 225.29 L66 225.29 L66.5 225.28 L67 225.28 L67.5 225.27 L68 225.26 L68.5 225.25 L69 225.23 L69.5 225.21 L70 225.18 L70.5 225.15 L71 225.1 L71.5 225.05 L72 224.98 L72.5 224.89 L73 224.78 L73.5 224.65 L74 224.49 L74.5 224.3 L75 224.08 L75.5 223.82 L76 223.52 L76.5 223.17 L77 222.78 L77.5 222.34 L78 221.86 L78.5 221.33 L79 220.77 L79.5 220.19 L80 219.6 L80.5 219.01 L81 218.45 L81.5 217.95 L82 217.55 L82.5 217.31 L83 217.43 L83.5 217.78 L84 218.24 L84.5 218.78 L85 219.36 L85.5 219.95 L86 220.54 L86.5 221.11 L87 221.65 L87.5 222.15 L88 222.61 L88.5 223.02 L89 223.38 L89.5 223.7 L90 223.98 L90.5 224.22 L91 224.42 L91.5 224.59 L92 224.73 L92.5 224.85 L93 224.94 L93.5 225.02 L94 225.08 L94.5 225.13 L95 225.17 L95.5 225.2 L96 225.22 L96.5 225.24 L97 225.26 L97.5 225.27 L98 225.28 L98.5 225.28 L99 225.29 L99.5 225.29 L100 225.29 L100.5 225.3 L101 225.3 L101.5 225.3 L102 225.3 L102.5 225.3 L103 225.3 L103.5 225.3 L104 225.3 L104.5 225.3 L105 225.3 L105.5 225.3 L106 225.3 L106.5 225.3 L107 225.3 L107.5 225.3 L108 225.3 L108.5 225.3 L109 225.3 L109.5 225.3 L110 225.3 L110.5 225.3 L111 225.3 L111.5 225.3 L112 225.3 L112.5 225.3 L113 225.3 L113.5 225.3 L114 225.3 L114.5 225.3 L115 225.3 L115.5 225.3 L116 225.3 L116.5 225.3 L117 225.3 L117.5 225.3 L118 225.3 L118.5 225.3 L119 225.3 L119.5 225.3 L120 225.3 L120.5 225.3 L121 225.3 L121.5 225.3 L122 225.3" fill="none" stroke="#d2d2d2" stroke-width="0.75"/>
<path d="M64 234.85 L64.5 234.85 L65 234.85 L65.5 234.85 L66 234.85 L66.5 234.85 L67 234.85 L67.5 234.85 L68 234.85 L68.5 234.85 L69 234.85 L69.5 234.85 L70 234.85 L70.5 234.85 L71 234.85 L71.5 234.85 L72 234.85 L72.5 234.85 L73 234.85 L73.5 234.85 L74 234.85 L74.5 234.85 L75 234.85 L75.5 234.85 L76 234.85 L76.5 234.85 L77 234.85 L77.5 234.85 L78 234.85 L78.5 234.85 L79 234.85 L79.5 234.85 L80 234.85 L80.5 234.85 L81 234.85 L81.5 234.85 L82 234.85 L82.5 234.85 L83 234.85 L83.5 234.85 L84 234.85 L84.5 234.85 L85 234.85 L85.5 234.85 L86 234.85 L86.5 234.85 L87 234.85 L87.5 234.85 L88 234.85 L88.5 234.85 L89 234.85 L89.5 234.85 L90 234.85 L90.5 234.85 L91 234.85 L91.5 234.85 L92 234.85 L92.5 234.85 L93 234.85 L93.5 234.85 L94 234.85 L94.5 234.85 L95 234.85 L95.5 234.85 L96 234.85 L96.5 234.85 L97 234.85 L97.5 234.85 L98 234.85 L98.5 234.84 L99 234.84 L99.5 234.83 L100 234.81 L100.5 234.79 L101 234.74 L101.5 234.66 L102 234.53 L102.5 234.34 L103 234.05 L103.5 233.64 L104 233.07 L104.5 232.31 L105 231.36 L105.5 230.23 L106 228.97 L106.5 227.72 L107 226.68 L107.5 226.3 L108 227.05 L108.5 228.21 L109 229.48 L109.5 230.7 L110 231.76 L110.5 232.64 L111 233.32 L111.5 233.82 L112 234.18 L112.5 234.43 L113 234.59 L113.5 234.69 L114 234.76 L114.5 234.8 L115 234.82 L115.5 234.83 L116 234.84 L116.5 234.85 L117 234.85 L117.5 234.85 L118 234.85 L118.5 234.85 L119 234.85 L119.5 234.85 L120 234.85 L120.5 234.85 L121 234.85 L121.5 234.85 L122 234.85 L122.3 234.85 L64 234.85Z" fill="#eaf6ea" stroke="none"/>
<path d="M64 234.85 L64.5 234.85 L65 234.85 L65.5 234.85 L66 234.85 L66.5 234.85 L67 234.85 L67.5 234.85 L68 234.85 L68.5 234.85 L69 234.85 L69.5 234.85 L70 234.85 L70.5 234.85 L71 234.85 L71.5 234.85 L72 234.85 L72.5 234.85 L73 234.85 L73.5 234.85 L74 234.85 L74.5 234.85 L75 234.85 L75.5 234.85 L76 234.85 L76.5 234.85 L77 234.85 L77.5 234.85 L78 234.85 L78.5 234.85 L79 234.85 L79.5 234.85 L80 234.85 L80.5 234.85 L81 234.85 L81.5 234.85 L82 234.85 L82.5 234.85 L83 234.85 L83.5 234.85 L84 234.85 L84.5 234.85 L85 234.85 L85.5 234.85 L86 234.85 L86.5 234.85 L87 234.85 L87.5 234.85 L88 234.85 L88.5 234.85 L89 234.85 L89.5 234.85 L90 234.85 L90.5 234.85 L91 234.85 L91.5 234.85 L92 234.85 L92.5 234.85 L93 234.85 L93.5 234.85 L94 234.85 L94.5 234.85 L95 234.85 L95.5 234.85 L96 234.85 L96.5 234.85 L97 234.85 L97.5 234.85 L98 234.85 L98.5 234.84 L99 234.84 L99.5 234.83 L100 234.81 L100.5 234.79 L101 234.74 L101.5 234.66 L102 234.53 L102.5 234.34 L103 234.05 L103.5 233.64 L104 233.07 L104.5 232.31 L105 231.36 L105.5 230.23 L106 228.97 L106.5 227.72 L107 226.68 L107.5 226.3 L108 227.05 L108.5 228.21 L109 229.48 L109.5 230.7 L110 231.76 L110.5 232.64 L111 233.32 L111.5 233.82 L112 234.18 L112.5 234.43 L113 234.59 L113.5 234.69 L114 234.76 L114.5 234.8 L115 234.82 L115.5 234.83 L116 234.84 L116.5 234.85 L117 234.85 L117.5 234.85 L118 234.85 L118.5 234.85 L119 234.85 L119.5 234.85 L120 234.85 L120.5 234.85 L121 234.85 L121.5 234.85 L122 234.85" fill="none" stroke="#5cb05c" stroke-width="0.75"/>
<path d="M64 244.4 L64.5 244.39 L65 244.39 L65.5 244.39 L66 244.38 L66.5 244.38 L67 244.37 L67.5 244.36 L68 244.35 L68.5 244.33 L69 244.31 L69.5 244.28 L70 244.24 L70.5 244.19 L71 244.13 L71.5 244.06 L72 243.97 L72.5 243.86 L73 243.72 L73.5 243.56 L74 243.36 L74.5 243.13 L75 242.86 L75.5 242.55 L76 242.2 L76.5 241.79 L77 241.35 L77.5 240.85 L78 240.32 L78.5 239.76 L79 239.17 L79.5 238.58 L80 237.99 L80.5 237.45 L81 236.97 L81.5 236.59 L82 236.4 L82.5 236.59 L83 236.97 L83.5 237.45 L84 237.99 L84.5 238.58 L85 239.17 L85.5 239.76 L86 240.32 L86.5 240.85 L87 241.35 L87.5 241.79 L88 242.2 L88.5 242.55 L89 242.86 L89.5 243.13 L90 243.36 L90.5 243.56 L91 243.72 L91.5 243.86 L92 243.97 L92.5 244.06 L93 244.13 L93.5 244.19 L94 244.24 L94.5 244.28 L95 244.31 L95.5 244.33 L96 244.35 L96.5 244.36 L97 244.37 L97.5 244.38 L98 244.38 L98.5 244.39 L99 244.39 L99.5 244.39 L100 244.4 L100.5 244.4 L101 244.4 L101.5 244.4 L102 244.4 L102.5 244.4 L103 244.4 L103.5 244.4 L104 244.4 L104.5 244.4 L105 244.4 L105.5 244.4 L106 244.4 L106.5 244.4 L107 244.4 L107.5 244.4 L108 244.4 L108.5 244.4 L109 244.4 L109.5 244.4 L110 244.4 L110.5 244.4 L111 244.4 L111.5 244.4 L112 244.4 L112.5 244.4 L113 244.4 L113.5 244.4 L114 244.4 L114.5 244.4 L115 244.4 L115.5 244.4 L116 244.4 L116.5 244.4 L117 244.4 L117.5 244.4 L118 244.4 L118.5 244.4 L119 244.4 L119.5 244.4 L120 244.4 L120.5 244.4 L121 244.4 L121.5 244.4 L122 244.4" fill="none" stroke="#d2d2d2" stroke-width="0.75"/>
<path d="M64 253.95 L64.5 253.95 L65 253.95 L65.5 253.95 L66 253.95 L66.5 253.95 L67 253.95 L67.5 253.95 L68 253.95 L68.5 253.95 L69 253.95 L69.5 253.95 L70 253.95 L70.5 253.95 L71 253.95 L71.5 253.95 L72 253.95 L72.5 253.95 L73 253.95 L73.5 253.95 L74 253.95 L74.5 253.95 L75 253.95 L75.5 253.95 L76 253.95 L76.5 253.95 L77 253.95 L77.5 253.95 L78 253.95 L78.5 253.95 L79 253.95 L79.5 253.95 L80 253.95 L80.5 253.95 L81 253.95 L81.5 253.95 L82 253.95 L82.5 253.95 L83 253.95 L83.5 253.95 L84 253.95 L84.5 253.95 L85 253.95 L85.5 253.95 L86 253.95 L86.5 253.95 L87 253.95 L87.5 253.95 L88 253.95 L88.5 253.95 L89 253.95 L89.5 253.95 L90 253.95 L90.5 253.95 L91 253.95 L91.5 253.95 L92 253.95 L92.5 253.95 L93 253.95 L93.5 253.95 L94 253.95 L94.5 253.95 L95 253.95 L95.5 253.95 L96 253.95 L96.5 253.95 L97 253.94 L97.5 253.94 L98 253.93 L98.5 253.91 L99 253.88 L99.5 253.84 L100 253.76 L100.5 253.65 L101 253.48 L101.5 253.23 L102 252.88 L102.5 252.39 L103 251.75 L103.5 250.93 L104 249.95 L104.5 248.82 L105 247.62 L105.5 246.48 L106 245.6 L106.5 245.48 L107 246.28 L107.5 247.39 L108 248.58 L108.5 249.73 L109 250.75 L109.5 251.6 L110 252.28 L110.5 252.79 L111 253.17 L111.5 253.44 L112 253.62 L112.5 253.75 L113 253.82 L113.5 253.88 L114 253.91 L114.5 253.93 L115 253.94 L115.5 253.94 L116 253.95 L116.5 253.95 L117 253.95 L117.5 253.95 L118 253.95 L118.5 253.95 L119 253.95 L119.5 253.95 L120 253.95 L120.5 253.95 L121 253.95 L121.5 253.95 L122 253.95 L122.3 253.95 L64 253.95Z" fill="#e8eff9" stroke="none"/>
<path d="M64 253.95 L64.5 253.95 L65 253.95 L65.5 253.95 L66 253.95 L66.5 253.95 L67 253.95 L67.5 253.95 L68 253.95 L68.5 253.95 L69 253.95 L69.5 253.95 L70 253.95 L70.5 253.95 L71 253.95 L71.5 253.95 L72 253.95 L72.5 253.95 L73 253.95 L73.5 253.95 L74 253.95 L74.5 253.95 L75 253.95 L75.5 253.95 L76 253.95 L76.5 253.95 L77 253.95 L77.5 253.95 L78 253.95 L78.5 253.95 L79 253.95 L79.5 253.95 L80 253.95 L80.5 253.95 L81 253.95 L81.5 253.95 L82 253.95 L82.5 253.95 L83 253.95 L83.5 253.95 L84 253.95 L84.5 253.95 L85 253.95 L85.5 253.95 L86 253.95 L86.5 253.95 L87 253.95 L87.5 253.95 L88 253.95 L88.5 253.95 L89 253.95 L89.5 253.95 L90 253.95 L90.5 253.95 L91 253.95 L91.5 253.95 L92 253.95 L92.5 253.95 L93 253.95 L93.5 253.95 L94 253.95 L94.5 253.95 L95 253.95 L95.5 253.95 L96 253.95 L96.5 253.95 L97 253.94 L97.5 253.94 L98 253.93 L98.5 253.91 L99 253.88 L99.5 253.84 L100 253.76 L100.5 253.65 L101 253.48 L101.5 253.23 L102 252.88 L102.5 252.39 L103 251.75 L103.5 250.93 L104 249.95 L104.5 248.82 L105 247.62 L105.5 246.48 L106 245.6 L106.5 245.48 L107 246.28 L107.5 247.39 L108 248.58 L108.5 249.73 L109 250.75 L109.5 251.6 L110 252.28 L110.5 252.79 L111 253.17 L111.5 253.44 L112 253.62 L112.5 253.75 L113 253.82 L113.5 253.88 L114 253.91 L114.5 253.93 L115 253.94 L115.5 253.94 L116 253.95 L116.5 253.95 L117 253.95 L117.5 253.95 L118 253.95 L118.5 253.95 L119 253.95 L119.5 253.95 L120 253.95 L120.5 253.95 L121 253.95 L121.5 253.95 L122 253.95" fill="none" stroke="#5a8acc" stroke-width="0.75"/>
<path d="M64 263.5 L64.5 263.5 L65 263.49 L65.5 263.49 L66 263.49 L66.5 263.48 L67 263.48 L67.5 263.47 L68 263.46 L68.5 263.45 L69 263.43 L69.5 263.41 L70 263.38 L70.5 263.35 L71 263.3 L71.5 263.25 L72 263.18 L72.5 263.09 L73 262.98 L73.5 262.85 L74 262.69 L74.5 262.5 L75 262.28 L75.5 262.02 L76 261.72 L76.5 261.37 L77 260.98 L77.5 260.54 L78 260.06 L78.5 259.53 L79 258.97 L79.5 258.39 L80 257.8 L80.5 257.21 L81 256.65 L81.5 256.15 L82 255.75 L82.5 255.51 L83 255.63 L83.5 255.98 L84 256.44 L84.5 256.98 L85 257.56 L85.5 258.15 L86 258.74 L86.5 259.31 L87 259.85 L87.5 260.35 L88 260.81 L88.5 261.22 L89 261.58 L89.5 261.9 L90 262.18 L90.5 262.42 L91 262.62 L91.5 262.79 L92 262.93 L92.5 263.05 L93 263.14 L93.5 263.22 L94 263.28 L94.5 263.33 L95 263.37 L95.5 263.4 L96 263.42 L96.5 263.44 L97 263.46 L97.5 263.47 L98 263.48 L98.5 263.48 L99 263.49 L99.5 263.49 L100 263.49 L100.5 263.5 L101 263.5 L101.5 263.5 L102 263.5 L102.5 263.5 L103 263.5 L103.5 263.5 L104 263.5 L104.5 263.5 L105 263.5 L105.5 263.5 L106 263.5 L106.5 263.5 L107 263.5 L107.5 263.5 L108 263.5 L108.5 263.5 L109 263.5 L109.5 263.5 L110 263.5 L110.5 263.5 L111 263.5 L111.5 263.5 L112 263.5 L112.5 263.5 L113 263.5 L113.5 263.5 L114 263.5 L114.5 263.5 L115 263.5 L115.5 263.5 L116 263.5 L116.5 263.5 L117 263.5 L117.5 263.5 L118 263.5 L118.5 263.5 L119 263.5 L119.5 263.5 L120 263.5 L120.5 263.5 L121 263.5 L121.5 263.5 L122 263.5" fill="none" stroke="#d2d2d2" stroke-width="0.75"/>
<rect x="64" y="206.2" width="58.3" height="57.3" fill="none" stroke="#737373" stroke-width="0.8"/>
<line x1="66" y1="263.5" x2="66" y2="264.3" stroke="#999" stroke-width="0.5"/>
<line x1="77" y1="263.5" x2="77" y2="264.3" stroke="#999" stroke-width="0.5"/>
<line x1="88" y1="263.5" x2="88" y2="264.3" stroke="#999" stroke-width="0.5"/>
<line x1="99" y1="263.5" x2="99" y2="264.3" stroke="#999" stroke-width="0.5"/>
<line x1="110" y1="263.5" x2="110" y2="264.3" stroke="#999" stroke-width="0.5"/>
<line x1="121" y1="263.5" x2="121" y2="264.3" stroke="#999" stroke-width="0.5"/>
<text x="156.35" y="201" font-size="5.1" text-anchor="middle" fill="#1a1a1a" stroke="#1a1a1a" stroke-width="0.22">CD27</text>
<path d="M127.2 215.75 L127.7 215.75 L128.2 215.75 L128.7 215.75 L129.2 215.75 L129.7 215.75 L130.2 215.75 L130.7 215.75 L131.2 215.75 L131.7 215.75 L132.2 215.75 L132.7 215.75 L133.2 215.75 L133.7 215.75 L134.2 215.75 L134.7 215.75 L135.2 215.75 L135.7 215.75 L136.2 215.75 L136.7 215.75 L137.2 215.75 L137.7 215.75 L138.2 215.75 L138.7 215.75 L139.2 215.75 L139.7 215.75 L140.2 215.75 L140.7 215.75 L141.2 215.75 L141.7 215.75 L142.2 215.75 L142.7 215.75 L143.2 215.75 L143.7 215.75 L144.2 215.75 L144.7 215.75 L145.2 215.75 L145.7 215.75 L146.2 215.75 L146.7 215.75 L147.2 215.75 L147.7 215.75 L148.2 215.75 L148.7 215.75 L149.2 215.75 L149.7 215.75 L150.2 215.74 L150.7 215.74 L151.2 215.73 L151.7 215.72 L152.2 215.71 L152.7 215.68 L153.2 215.65 L153.7 215.59 L154.2 215.51 L154.7 215.39 L155.2 215.23 L155.7 215.01 L156.2 214.71 L156.7 214.31 L157.2 213.81 L157.7 213.18 L158.2 212.43 L158.7 211.55 L159.2 210.58 L159.7 209.57 L160.2 208.57 L160.7 207.72 L161.2 207.18 L161.7 207.45 L162.2 208.21 L162.7 209.16 L163.2 210.18 L163.7 211.17 L164.2 212.09 L164.7 212.89 L165.2 213.57 L165.7 214.12 L166.2 214.56 L166.7 214.9 L167.2 215.15 L167.7 215.34 L168.2 215.47 L168.7 215.56 L169.2 215.63 L169.7 215.67 L170.2 215.7 L170.7 215.72 L171.2 215.73 L171.7 215.74 L172.2 215.74 L172.7 215.75 L173.2 215.75 L173.7 215.75 L174.2 215.75 L174.7 215.75 L175.2 215.75 L175.7 215.75 L176.2 215.75 L176.7 215.75 L177.2 215.75 L177.7 215.75 L178.2 215.75 L178.7 215.75 L179.2 215.75 L179.7 215.75 L180.2 215.75 L180.7 215.75 L181.2 215.75 L181.7 215.75 L182.2 215.75 L182.7 215.75 L183.2 215.75 L183.7 215.75 L184.2 215.75 L184.7 215.75 L185.2 215.75 L185.5 215.75 L127.2 215.75Z" fill="#fcecec" stroke="none"/>
<path d="M127.2 215.75 L127.7 215.75 L128.2 215.75 L128.7 215.75 L129.2 215.75 L129.7 215.75 L130.2 215.75 L130.7 215.75 L131.2 215.75 L131.7 215.75 L132.2 215.75 L132.7 215.75 L133.2 215.75 L133.7 215.75 L134.2 215.75 L134.7 215.75 L135.2 215.75 L135.7 215.75 L136.2 215.75 L136.7 215.75 L137.2 215.75 L137.7 215.75 L138.2 215.75 L138.7 215.75 L139.2 215.75 L139.7 215.75 L140.2 215.75 L140.7 215.75 L141.2 215.75 L141.7 215.75 L142.2 215.75 L142.7 215.75 L143.2 215.75 L143.7 215.75 L144.2 215.75 L144.7 215.75 L145.2 215.75 L145.7 215.75 L146.2 215.75 L146.7 215.75 L147.2 215.75 L147.7 215.75 L148.2 215.75 L148.7 215.75 L149.2 215.75 L149.7 215.75 L150.2 215.74 L150.7 215.74 L151.2 215.73 L151.7 215.72 L152.2 215.71 L152.7 215.68 L153.2 215.65 L153.7 215.59 L154.2 215.51 L154.7 215.39 L155.2 215.23 L155.7 215.01 L156.2 214.71 L156.7 214.31 L157.2 213.81 L157.7 213.18 L158.2 212.43 L158.7 211.55 L159.2 210.58 L159.7 209.57 L160.2 208.57 L160.7 207.72 L161.2 207.18 L161.7 207.45 L162.2 208.21 L162.7 209.16 L163.2 210.18 L163.7 211.17 L164.2 212.09 L164.7 212.89 L165.2 213.57 L165.7 214.12 L166.2 214.56 L166.7 214.9 L167.2 215.15 L167.7 215.34 L168.2 215.47 L168.7 215.56 L169.2 215.63 L169.7 215.67 L170.2 215.7 L170.7 215.72 L171.2 215.73 L171.7 215.74 L172.2 215.74 L172.7 215.75 L173.2 215.75 L173.7 215.75 L174.2 215.75 L174.7 215.75 L175.2 215.75 L175.7 215.75 L176.2 215.75 L176.7 215.75 L177.2 215.75 L177.7 215.75 L178.2 215.75 L178.7 215.75 L179.2 215.75 L179.7 215.75 L180.2 215.75 L180.7 215.75 L181.2 215.75 L181.7 215.75 L182.2 215.75 L182.7 215.75 L183.2 215.75 L183.7 215.75 L184.2 215.75 L184.7 215.75 L185.2 215.75" fill="none" stroke="#dc7c7c" stroke-width="0.75"/>
<path d="M127.2 225.3 L127.7 225.3 L128.2 225.3 L128.7 225.29 L129.2 225.29 L129.7 225.29 L130.2 225.28 L130.7 225.28 L131.2 225.27 L131.7 225.26 L132.2 225.25 L132.7 225.23 L133.2 225.21 L133.7 225.18 L134.2 225.14 L134.7 225.09 L135.2 225.03 L135.7 224.96 L136.2 224.87 L136.7 224.76 L137.2 224.62 L137.7 224.46 L138.2 224.26 L138.7 224.03 L139.2 223.76 L139.7 223.45 L140.2 223.1 L140.7 222.69 L141.2 222.25 L141.7 221.75 L142.2 221.22 L142.7 220.66 L143.2 220.07 L143.7 219.48 L144.2 218.89 L144.7 218.35 L145.2 217.87 L145.7 217.49 L146.2 217.3 L146.7 217.49 L147.2 217.87 L147.7 218.35 L148.2 218.89 L148.7 219.48 L149.2 220.07 L149.7 220.66 L150.2 221.22 L150.7 221.75 L151.2 222.25 L151.7 222.69 L152.2 223.1 L152.7 223.45 L153.2 223.76 L153.7 224.03 L154.2 224.26 L154.7 224.46 L155.2 224.62 L155.7 224.76 L156.2 224.87 L156.7 224.96 L157.2 225.03 L157.7 225.09 L158.2 225.14 L158.7 225.18 L159.2 225.21 L159.7 225.23 L160.2 225.25 L160.7 225.26 L161.2 225.27 L161.7 225.28 L162.2 225.28 L162.7 225.29 L163.2 225.29 L163.7 225.29 L164.2 225.3 L164.7 225.3 L165.2 225.3 L165.7 225.3 L166.2 225.3 L166.7 225.3 L167.2 225.3 L167.7 225.3 L168.2 225.3 L168.7 225.3 L169.2 225.3 L169.7 225.3 L170.2 225.3 L170.7 225.3 L171.2 225.3 L171.7 225.3 L172.2 225.3 L172.7 225.3 L173.2 225.3 L173.7 225.3 L174.2 225.3 L174.7 225.3 L175.2 225.3 L175.7 225.3 L176.2 225.3 L176.7 225.3 L177.2 225.3 L177.7 225.3 L178.2 225.3 L178.7 225.3 L179.2 225.3 L179.7 225.3 L180.2 225.3 L180.7 225.3 L181.2 225.3 L181.7 225.3 L182.2 225.3 L182.7 225.3 L183.2 225.3 L183.7 225.3 L184.2 225.3 L184.7 225.3 L185.2 225.3" fill="none" stroke="#d2d2d2" stroke-width="0.75"/>
<path d="M127.2 234.85 L127.7 234.85 L128.2 234.85 L128.7 234.85 L129.2 234.85 L129.7 234.85 L130.2 234.85 L130.7 234.85 L131.2 234.85 L131.7 234.85 L132.2 234.85 L132.7 234.85 L133.2 234.85 L133.7 234.85 L134.2 234.85 L134.7 234.85 L135.2 234.85 L135.7 234.85 L136.2 234.85 L136.7 234.85 L137.2 234.85 L137.7 234.85 L138.2 234.85 L138.7 234.85 L139.2 234.85 L139.7 234.85 L140.2 234.85 L140.7 234.85 L141.2 234.85 L141.7 234.85 L142.2 234.85 L142.7 234.85 L143.2 234.85 L143.7 234.85 L144.2 234.85 L144.7 234.85 L145.2 234.85 L145.7 234.85 L146.2 234.85 L146.7 234.85 L147.2 234.85 L147.7 234.85 L148.2 234.85 L148.7 234.85 L149.2 234.85 L149.7 234.85 L150.2 234.84 L150.7 234.84 L151.2 234.83 L151.7 234.82 L152.2 234.81 L152.7 234.78 L153.2 234.75 L153.7 234.69 L154.2 234.61 L154.7 234.49 L155.2 234.33 L155.7 234.11 L156.2 233.81 L156.7 233.41 L157.2 232.91 L157.7 232.28 L158.2 231.53 L158.7 230.65 L159.2 229.68 L159.7 228.67 L160.2 227.67 L160.7 226.82 L161.2 226.28 L161.7 226.55 L162.2 227.31 L162.7 228.26 L163.2 229.28 L163.7 230.27 L164.2 231.19 L164.7 231.99 L165.2 232.67 L165.7 233.22 L166.2 233.66 L166.7 234 L167.2 234.25 L167.7 234.44 L168.2 234.57 L168.7 234.66 L169.2 234.73 L169.7 234.77 L170.2 234.8 L170.7 234.82 L171.2 234.83 L171.7 234.84 L172.2 234.84 L172.7 234.85 L173.2 234.85 L173.7 234.85 L174.2 234.85 L174.7 234.85 L175.2 234.85 L175.7 234.85 L176.2 234.85 L176.7 234.85 L177.2 234.85 L177.7 234.85 L178.2 234.85 L178.7 234.85 L179.2 234.85 L179.7 234.85 L180.2 234.85 L180.7 234.85 L181.2 234.85 L181.7 234.85 L182.2 234.85 L182.7 234.85 L183.2 234.85 L183.7 234.85 L184.2 234.85 L184.7 234.85 L185.2 234.85 L185.5 234.85 L127.2 234.85Z" fill="#eaf6ea" stroke="none"/>
<path d="M127.2 234.85 L127.7 234.85 L128.2 234.85 L128.7 234.85 L129.2 234.85 L129.7 234.85 L130.2 234.85 L130.7 234.85 L131.2 234.85 L131.7 234.85 L132.2 234.85 L132.7 234.85 L133.2 234.85 L133.7 234.85 L134.2 234.85 L134.7 234.85 L135.2 234.85 L135.7 234.85 L136.2 234.85 L136.7 234.85 L137.2 234.85 L137.7 234.85 L138.2 234.85 L138.7 234.85 L139.2 234.85 L139.7 234.85 L140.2 234.85 L140.7 234.85 L141.2 234.85 L141.7 234.85 L142.2 234.85 L142.7 234.85 L143.2 234.85 L143.7 234.85 L144.2 234.85 L144.7 234.85 L145.2 234.85 L145.7 234.85 L146.2 234.85 L146.7 234.85 L147.2 234.85 L147.7 234.85 L148.2 234.85 L148.7 234.85 L149.2 234.85 L149.7 234.85 L150.2 234.84 L150.7 234.84 L151.2 234.83 L151.7 234.82 L152.2 234.81 L152.7 234.78 L153.2 234.75 L153.7 234.69 L154.2 234.61 L154.7 234.49 L155.2 234.33 L155.7 234.11 L156.2 233.81 L156.7 233.41 L157.2 232.91 L157.7 232.28 L158.2 231.53 L158.7 230.65 L159.2 229.68 L159.7 228.67 L160.2 227.67 L160.7 226.82 L161.2 226.28 L161.7 226.55 L162.2 227.31 L162.7 228.26 L163.2 229.28 L163.7 230.27 L164.2 231.19 L164.7 231.99 L165.2 232.67 L165.7 233.22 L166.2 233.66 L166.7 234 L167.2 234.25 L167.7 234.44 L168.2 234.57 L168.7 234.66 L169.2 234.73 L169.7 234.77 L170.2 234.8 L170.7 234.82 L171.2 234.83 L171.7 234.84 L172.2 234.84 L172.7 234.85 L173.2 234.85 L173.7 234.85 L174.2 234.85 L174.7 234.85 L175.2 234.85 L175.7 234.85 L176.2 234.85 L176.7 234.85 L177.2 234.85 L177.7 234.85 L178.2 234.85 L178.7 234.85 L179.2 234.85 L179.7 234.85 L180.2 234.85 L180.7 234.85 L181.2 234.85 L181.7 234.85 L182.2 234.85 L182.7 234.85 L183.2 234.85 L183.7 234.85 L184.2 234.85 L184.7 234.85 L185.2 234.85" fill="none" stroke="#5cb05c" stroke-width="0.75"/>
<path d="M127.2 244.39 L127.7 244.39 L128.2 244.39 L128.7 244.38 L129.2 244.38 L129.7 244.37 L130.2 244.36 L130.7 244.35 L131.2 244.33 L131.7 244.31 L132.2 244.28 L132.7 244.25 L133.2 244.2 L133.7 244.15 L134.2 244.08 L134.7 243.99 L135.2 243.88 L135.7 243.75 L136.2 243.59 L136.7 243.4 L137.2 243.18 L137.7 242.92 L138.2 242.62 L138.7 242.27 L139.2 241.88 L139.7 241.44 L140.2 240.96 L140.7 240.43 L141.2 239.87 L141.7 239.29 L142.2 238.7 L142.7 238.11 L143.2 237.55 L143.7 237.05 L144.2 236.65 L144.7 236.41 L145.2 236.53 L145.7 236.88 L146.2 237.34 L146.7 237.88 L147.2 238.46 L147.7 239.05 L148.2 239.64 L148.7 240.21 L149.2 240.75 L149.7 241.25 L150.2 241.71 L150.7 242.12 L151.2 242.48 L151.7 242.8 L152.2 243.08 L152.7 243.32 L153.2 243.52 L153.7 243.69 L154.2 243.83 L154.7 243.95 L155.2 244.04 L155.7 244.12 L156.2 244.18 L156.7 244.23 L157.2 244.27 L157.7 244.3 L158.2 244.32 L158.7 244.34 L159.2 244.36 L159.7 244.37 L160.2 244.38 L160.7 244.38 L161.2 244.39 L161.7 244.39 L162.2 244.39 L162.7 244.4 L163.2 244.4 L163.7 244.4 L164.2 244.4 L164.7 244.4 L165.2 244.4 L165.7 244.4 L166.2 244.4 L166.7 244.4 L167.2 244.4 L167.7 244.4 L168.2 244.4 L168.7 244.4 L169.2 244.4 L169.7 244.4 L170.2 244.4 L170.7 244.4 L171.2 244.4 L171.7 244.4 L172.2 244.4 L172.7 244.4 L173.2 244.4 L173.7 244.4 L174.2 244.4 L174.7 244.4 L175.2 244.4 L175.7 244.4 L176.2 244.4 L176.7 244.4 L177.2 244.4 L177.7 244.4 L178.2 244.4 L178.7 244.4 L179.2 244.4 L179.7 244.4 L180.2 244.4 L180.7 244.4 L181.2 244.4 L181.7 244.4 L182.2 244.4 L182.7 244.4 L183.2 244.4 L183.7 244.4 L184.2 244.4 L184.7 244.4 L185.2 244.4" fill="none" stroke="#d2d2d2" stroke-width="0.75"/>
<path d="M127.2 253.95 L127.7 253.95 L128.2 253.95 L128.7 253.95 L129.2 253.95 L129.7 253.95 L130.2 253.95 L130.7 253.95 L131.2 253.95 L131.7 253.95 L132.2 253.95 L132.7 253.95 L133.2 253.95 L133.7 253.95 L134.2 253.95 L134.7 253.95 L135.2 253.95 L135.7 253.95 L136.2 253.95 L136.7 253.95 L137.2 253.95 L137.7 253.95 L138.2 253.95 L138.7 253.95 L139.2 253.95 L139.7 253.95 L140.2 253.95 L140.7 253.95 L141.2 253.95 L141.7 253.95 L142.2 253.95 L142.7 253.95 L143.2 253.95 L143.7 253.95 L144.2 253.95 L144.7 253.95 L145.2 253.95 L145.7 253.95 L146.2 253.95 L146.7 253.95 L147.2 253.95 L147.7 253.95 L148.2 253.95 L148.7 253.95 L149.2 253.95 L149.7 253.95 L150.2 253.95 L150.7 253.95 L151.2 253.95 L151.7 253.95 L152.2 253.95 L152.7 253.95 L153.2 253.95 L153.7 253.95 L154.2 253.95 L154.7 253.95 L155.2 253.95 L155.7 253.95 L156.2 253.95 L156.7 253.95 L157.2 253.95 L157.7 253.95 L158.2 253.95 L158.7 253.95 L159.2 253.95 L159.7 253.95 L160.2 253.95 L160.7 253.95 L161.2 253.95 L161.7 253.94 L162.2 253.94 L162.7 253.93 L163.2 253.91 L163.7 253.88 L164.2 253.84 L164.7 253.76 L165.2 253.65 L165.7 253.48 L166.2 253.23 L166.7 252.88 L167.2 252.39 L167.7 251.75 L168.2 250.93 L168.7 249.95 L169.2 248.82 L169.7 247.62 L170.2 246.48 L170.7 245.6 L171.2 245.48 L171.7 246.28 L172.2 247.39 L172.7 248.58 L173.2 249.73 L173.7 250.75 L174.2 251.6 L174.7 252.28 L175.2 252.79 L175.7 253.17 L176.2 253.44 L176.7 253.62 L177.2 253.75 L177.7 253.82 L178.2 253.88 L178.7 253.91 L179.2 253.93 L179.7 253.94 L180.2 253.94 L180.7 253.95 L181.2 253.95 L181.7 253.95 L182.2 253.95 L182.7 253.95 L183.2 253.95 L183.7 253.95 L184.2 253.95 L184.7 253.95 L185.2 253.95 L185.5 253.95 L127.2 253.95Z" fill="#e8eff9" stroke="none"/>
<path d="M127.2 253.95 L127.7 253.95 L128.2 253.95 L128.7 253.95 L129.2 253.95 L129.7 253.95 L130.2 253.95 L130.7 253.95 L131.2 253.95 L131.7 253.95 L132.2 253.95 L132.7 253.95 L133.2 253.95 L133.7 253.95 L134.2 253.95 L134.7 253.95 L135.2 253.95 L135.7 253.95 L136.2 253.95 L136.7 253.95 L137.2 253.95 L137.7 253.95 L138.2 253.95 L138.7 253.95 L139.2 253.95 L139.7 253.95 L140.2 253.95 L140.7 253.95 L141.2 253.95 L141.7 253.95 L142.2 253.95 L142.7 253.95 L143.2 253.95 L143.7 253.95 L144.2 253.95 L144.7 253.95 L145.2 253.95 L145.7 253.95 L146.2 253.95 L146.7 253.95 L147.2 253.95 L147.7 253.95 L148.2 253.95 L148.7 253.95 L149.2 253.95 L149.7 253.95 L150.2 253.95 L150.7 253.95 L151.2 253.95 L151.7 253.95 L152.2 253.95 L152.7 253.95 L153.2 253.95 L153.7 253.95 L154.2 253.95 L154.7 253.95 L155.2 253.95 L155.7 253.95 L156.2 253.95 L156.7 253.95 L157.2 253.95 L157.7 253.95 L158.2 253.95 L158.7 253.95 L159.2 253.95 L159.7 253.95 L160.2 253.95 L160.7 253.95 L161.2 253.95 L161.7 253.94 L162.2 253.94 L162.7 253.93 L163.2 253.91 L163.7 253.88 L164.2 253.84 L164.7 253.76 L165.2 253.65 L165.7 253.48 L166.2 253.23 L166.7 252.88 L167.2 252.39 L167.7 251.75 L168.2 250.93 L168.7 249.95 L169.2 248.82 L169.7 247.62 L170.2 246.48 L170.7 245.6 L171.2 245.48 L171.7 246.28 L172.2 247.39 L172.7 248.58 L173.2 249.73 L173.7 250.75 L174.2 251.6 L174.7 252.28 L175.2 252.79 L175.7 253.17 L176.2 253.44 L176.7 253.62 L177.2 253.75 L177.7 253.82 L178.2 253.88 L178.7 253.91 L179.2 253.93 L179.7 253.94 L180.2 253.94 L180.7 253.95 L181.2 253.95 L181.7 253.95 L182.2 253.95 L182.7 253.95 L183.2 253.95 L183.7 253.95 L184.2 253.95 L184.7 253.95 L185.2 253.95" fill="none" stroke="#5a8acc" stroke-width="0.75"/>
<path d="M127.2 263.5 L127.7 263.5 L128.2 263.5 L128.7 263.49 L129.2 263.49 L129.7 263.49 L130.2 263.48 L130.7 263.48 L131.2 263.47 L131.7 263.46 L132.2 263.45 L132.7 263.43 L133.2 263.41 L133.7 263.38 L134.2 263.34 L134.7 263.29 L135.2 263.23 L135.7 263.16 L136.2 263.07 L136.7 262.96 L137.2 262.82 L137.7 262.66 L138.2 262.46 L138.7 262.23 L139.2 261.96 L139.7 261.65 L140.2 261.3 L140.7 260.89 L141.2 260.45 L141.7 259.95 L142.2 259.42 L142.7 258.86 L143.2 258.27 L143.7 257.68 L144.2 257.09 L144.7 256.55 L145.2 256.07 L145.7 255.69 L146.2 255.5 L146.7 255.69 L147.2 256.07 L147.7 256.55 L148.2 257.09 L148.7 257.68 L149.2 258.27 L149.7 258.86 L150.2 259.42 L150.7 259.95 L151.2 260.45 L151.7 260.89 L152.2 261.3 L152.7 261.65 L153.2 261.96 L153.7 262.23 L154.2 262.46 L154.7 262.66 L155.2 262.82 L155.7 262.96 L156.2 263.07 L156.7 263.16 L157.2 263.23 L157.7 263.29 L158.2 263.34 L158.7 263.38 L159.2 263.41 L159.7 263.43 L160.2 263.45 L160.7 263.46 L161.2 263.47 L161.7 263.48 L162.2 263.48 L162.7 263.49 L163.2 263.49 L163.7 263.49 L164.2 263.5 L164.7 263.5 L165.2 263.5 L165.7 263.5 L166.2 263.5 L166.7 263.5 L167.2 263.5 L167.7 263.5 L168.2 263.5 L168.7 263.5 L169.2 263.5 L169.7 263.5 L170.2 263.5 L170.7 263.5 L171.2 263.5 L171.7 263.5 L172.2 263.5 L172.7 263.5 L173.2 263.5 L173.7 263.5 L174.2 263.5 L174.7 263.5 L175.2 263.5 L175.7 263.5 L176.2 263.5 L176.7 263.5 L177.2 263.5 L177.7 263.5 L178.2 263.5 L178.7 263.5 L179.2 263.5 L179.7 263.5 L180.2 263.5 L180.7 263.5 L181.2 263.5 L181.7 263.5 L182.2 263.5 L182.7 263.5 L183.2 263.5 L183.7 263.5 L184.2 263.5 L184.7 263.5 L185.2 263.5" fill="none" stroke="#d2d2d2" stroke-width="0.75"/>
<rect x="127.2" y="206.2" width="58.3" height="57.3" fill="none" stroke="#737373" stroke-width="0.8"/>
<line x1="129.2" y1="263.5" x2="129.2" y2="264.3" stroke="#999" stroke-width="0.5"/>
<line x1="140.2" y1="263.5" x2="140.2" y2="264.3" stroke="#999" stroke-width="0.5"/>
<line x1="151.2" y1="263.5" x2="151.2" y2="264.3" stroke="#999" stroke-width="0.5"/>
<line x1="162.2" y1="263.5" x2="162.2" y2="264.3" stroke="#999" stroke-width="0.5"/>
<line x1="173.2" y1="263.5" x2="173.2" y2="264.3" stroke="#999" stroke-width="0.5"/>
<line x1="184.2" y1="263.5" x2="184.2" y2="264.3" stroke="#999" stroke-width="0.5"/>
<line x1="190.5" y1="212.5" x2="199.5" y2="212.5" stroke="#d84848" stroke-width="0.9"/>
<text x="202.3" y="214.1" font-size="4.7" fill="#2a2a2a" stroke="#2a2a2a" stroke-width="0.12">CD8α<tspan font-size="3.2" dy="-1.8">high</tspan><tspan dy="1.8"> blood NK cells</tspan></text>
<line x1="190.5" y1="221.25" x2="199.5" y2="221.25" stroke="#b8b8b8" stroke-width="0.9"/>
<text x="202.3" y="222.85" font-size="4.7" fill="#2a2a2a" stroke="#2a2a2a" stroke-width="0.12">isotype control</text>
<line x1="190.5" y1="230" x2="199.5" y2="230" stroke="#48a848" stroke-width="0.9"/>
<text x="202.3" y="231.6" font-size="4.7" fill="#2a2a2a" stroke="#2a2a2a" stroke-width="0.12">CD8α<tspan font-size="3.2" dy="-1.8">high</tspan><tspan dy="1.8"> liver NK cells</tspan></text>
<line x1="190.5" y1="238.75" x2="199.5" y2="238.75" stroke="#c8c8c8" stroke-width="0.9"/>
<text x="202.3" y="240.35" font-size="4.7" fill="#2a2a2a" stroke="#2a2a2a" stroke-width="0.12">isotype control</text>
<line x1="190.5" y1="247.5" x2="199.5" y2="247.5" stroke="#3c6cc0" stroke-width="0.9"/>
<text x="202.3" y="249.1" font-size="4.7" fill="#2a2a2a" stroke="#2a2a2a" stroke-width="0.12">CD8α<tspan font-size="3.2" dy="-1.8">dim</tspan><tspan dy="1.8"> liver NK cells</tspan></text>
<line x1="190.5" y1="256.25" x2="199.5" y2="256.25" stroke="#c0c0c0" stroke-width="0.9"/>
<text x="202.3" y="257.85" font-size="4.7" fill="#2a2a2a" stroke="#2a2a2a" stroke-width="0.12">isotype control</text>
<text x="291.5" y="115.4" font-size="4.3" font-weight="bold" text-anchor="middle" fill="#222" stroke="#222" stroke-width="0.15">Eomes</text>
<line x1="275.1" y1="119" x2="275.1" y2="160" stroke="#333" stroke-width="0.8"/>
<line x1="275.1" y1="160" x2="307.1" y2="160" stroke="#222" stroke-width="0.8"/>
<line x1="274.1" y1="119" x2="275.1" y2="119" stroke="#444" stroke-width="0.45"/>
<rect x="265.32" y="118.25" width="8.28" height="1.5" fill="#8c8c8c"/>
<line x1="274.1" y1="127.2" x2="275.1" y2="127.2" stroke="#444" stroke-width="0.45"/>
<rect x="266.7" y="126.45" width="6.9" height="1.5" fill="#8c8c8c"/>
<line x1="274.1" y1="135.4" x2="275.1" y2="135.4" stroke="#444" stroke-width="0.45"/>
<rect x="266.7" y="134.65" width="6.9" height="1.5" fill="#8c8c8c"/>
<line x1="274.1" y1="143.6" x2="275.1" y2="143.6" stroke="#444" stroke-width="0.45"/>
<rect x="266.7" y="142.85" width="6.9" height="1.5" fill="#8c8c8c"/>
<line x1="274.1" y1="151.8" x2="275.1" y2="151.8" stroke="#444" stroke-width="0.45"/>
<rect x="266.7" y="151.05" width="6.9" height="1.5" fill="#8c8c8c"/>
<line x1="274.1" y1="160" x2="275.1" y2="160" stroke="#444" stroke-width="0.45"/>
<rect x="272.22" y="159.25" width="1.38" height="1.5" fill="#8c8c8c"/>
<text transform="translate(264.8 139.5) rotate(-90)" font-size="3" font-weight="bold" text-anchor="middle" fill="#333" stroke="#333" stroke-width="0.25">MFI</text>
<rect x="277" y="158.5" width="7.2" height="1.5" fill="#fff" stroke="#e8343c" stroke-width="0.95"/>
<rect x="287.5" y="158.5" width="7.8" height="1.5" fill="#fff" stroke="#3c9a3c" stroke-width="0.95"/>
<rect x="298.1" y="132.1" width="8" height="27.9" fill="#fff" stroke="#2a2aa8" stroke-width="0.95"/>
<circle cx="279.29" cy="158.36" r="0.95" fill="none" stroke="#e8343c" stroke-width="0.6"/>
<circle cx="279.95" cy="158.51" r="0.95" fill="none" stroke="#e8343c" stroke-width="0.6"/>
<circle cx="281.23" cy="157.16" r="0.95" fill="none" stroke="#e8343c" stroke-width="0.6"/>
<circle cx="278.17" cy="159.09" r="0.95" fill="none" stroke="#e8343c" stroke-width="0.6"/>
<circle cx="290.2" cy="157.59" r="0.95" fill="none" stroke="#3c9a3c" stroke-width="0.6"/>
<circle cx="293.88" cy="158.18" r="0.95" fill="none" stroke="#3c9a3c" stroke-width="0.6"/>
<circle cx="293.08" cy="158.19" r="0.95" fill="none" stroke="#3c9a3c" stroke-width="0.6"/>
<circle cx="292.1" cy="157.38" r="0.95" fill="none" stroke="#3c9a3c" stroke-width="0.6"/>
<circle cx="302.5" cy="123" r="0.95" fill="none" stroke="#2a2aa8" stroke-width="0.6"/>
<circle cx="301" cy="126" r="0.95" fill="none" stroke="#2a2aa8" stroke-width="0.6"/>
<circle cx="303.5" cy="128" r="0.95" fill="none" stroke="#2a2aa8" stroke-width="0.6"/>
<circle cx="300.5" cy="130.5" r="0.95" fill="none" stroke="#2a2aa8" stroke-width="0.6"/>
<circle cx="303.8" cy="132" r="0.95" fill="none" stroke="#2a2aa8" stroke-width="0.6"/>
<circle cx="301.5" cy="134" r="0.95" fill="none" stroke="#2a2aa8" stroke-width="0.6"/>
<circle cx="299.8" cy="133" r="0.95" fill="none" stroke="#2a2aa8" stroke-width="0.6"/>
<circle cx="302.5" cy="131" r="0.95" fill="none" stroke="#2a2aa8" stroke-width="0.6"/>
<path d="M280.4 120.9 V119.7 H301.8 V120.9" fill="none" stroke="#666" stroke-width="0.5"/>
<path d="M290.7 123.3 V122.1 H301.8 V123.3" fill="none" stroke="#666" stroke-width="0.5"/>
<text x="291.1" y="119.4" font-size="2.2" text-anchor="middle" fill="#777">****</text>
<text x="296.25" y="121.8" font-size="2.2" text-anchor="middle" fill="#777">****</text>
<text x="336.5" y="115.4" font-size="4.3" font-weight="bold" text-anchor="middle" fill="#222" stroke="#222" stroke-width="0.15">T-bet</text>
<line x1="320.2" y1="119" x2="320.2" y2="159" stroke="#333" stroke-width="0.8"/>
<line x1="320.2" y1="159" x2="352.2" y2="159" stroke="#222" stroke-width="0.8"/>
<line x1="319.2" y1="119" x2="320.2" y2="119" stroke="#444" stroke-width="0.45"/>
<rect x="311.8" y="118.25" width="6.9" height="1.5" fill="#8c8c8c"/>
<line x1="319.2" y1="129" x2="320.2" y2="129" stroke="#444" stroke-width="0.45"/>
<rect x="311.8" y="128.25" width="6.9" height="1.5" fill="#8c8c8c"/>
<line x1="319.2" y1="139" x2="320.2" y2="139" stroke="#444" stroke-width="0.45"/>
<rect x="311.8" y="138.25" width="6.9" height="1.5" fill="#8c8c8c"/>
<line x1="319.2" y1="149" x2="320.2" y2="149" stroke="#444" stroke-width="0.45"/>
<rect x="311.8" y="148.25" width="6.9" height="1.5" fill="#8c8c8c"/>
<line x1="319.2" y1="159" x2="320.2" y2="159" stroke="#444" stroke-width="0.45"/>
<rect x="317.32" y="158.25" width="1.38" height="1.5" fill="#8c8c8c"/>
<rect x="323.8" y="133.9" width="6.4" height="25.1" fill="#fff" stroke="#e8343c" stroke-width="0.95"/>
<rect x="332.9" y="133.9" width="7.5" height="25.1" fill="#fff" stroke="#3c9a3c" stroke-width="0.95"/>
<rect x="344" y="150.5" width="6.8" height="8.5" fill="#fff" stroke="#2a2aa8" stroke-width="0.95"/>
<circle cx="327.67" cy="146.57" r="0.95" fill="none" stroke="#e8343c" stroke-width="0.6"/>
<circle cx="327.12" cy="143.27" r="0.95" fill="none" stroke="#e8343c" stroke-width="0.6"/>
<circle cx="327.86" cy="125.66" r="0.95" fill="none" stroke="#e8343c" stroke-width="0.6"/>
<circle cx="328.29" cy="139.37" r="0.95" fill="none" stroke="#e8343c" stroke-width="0.6"/>
<circle cx="326.01" cy="124.81" r="0.95" fill="none" stroke="#e8343c" stroke-width="0.6"/>
<circle cx="328.83" cy="136.29" r="0.95" fill="none" stroke="#e8343c" stroke-width="0.6"/>
<circle cx="328.09" cy="146.85" r="0.95" fill="none" stroke="#e8343c" stroke-width="0.6"/>
<circle cx="328.07" cy="147.95" r="0.95" fill="none" stroke="#e8343c" stroke-width="0.6"/>
<circle cx="326.47" cy="144.82" r="0.95" fill="none" stroke="#e8343c" stroke-width="0.6"/>
<circle cx="326.72" cy="148.33" r="0.95" fill="none" stroke="#e8343c" stroke-width="0.6"/>
<circle cx="328.89" cy="126.53" r="0.95" fill="none" stroke="#e8343c" stroke-width="0.6"/>
<circle cx="325.18" cy="129.64" r="0.95" fill="none" stroke="#e8343c" stroke-width="0.6"/>
<circle cx="338.93" cy="134.47" r="0.95" fill="none" stroke="#3c9a3c" stroke-width="0.6"/>
<circle cx="337.23" cy="131.22" r="0.95" fill="none" stroke="#3c9a3c" stroke-width="0.6"/>
<circle cx="336.64" cy="133.26" r="0.95" fill="none" stroke="#3c9a3c" stroke-width="0.6"/>
<circle cx="335.85" cy="138.04" r="0.95" fill="none" stroke="#3c9a3c" stroke-width="0.6"/>
<circle cx="337.02" cy="145.7" r="0.95" fill="none" stroke="#3c9a3c" stroke-width="0.6"/>
<circle cx="337.51" cy="146.29" r="0.95" fill="none" stroke="#3c9a3c" stroke-width="0.6"/>
<circle cx="338.38" cy="147.78" r="0.95" fill="none" stroke="#3c9a3c" stroke-width="0.6"/>
<circle cx="337.46" cy="127.91" r="0.95" fill="none" stroke="#3c9a3c" stroke-width="0.6"/>
<circle cx="338.4" cy="147.15" r="0.95" fill="none" stroke="#3c9a3c" stroke-width="0.6"/>
<circle cx="338.62" cy="137.66" r="0.95" fill="none" stroke="#3c9a3c" stroke-width="0.6"/>
<circle cx="348.68" cy="145.96" r="0.95" fill="none" stroke="#2a2aa8" stroke-width="0.6"/>
<circle cx="349.39" cy="151.03" r="0.95" fill="none" stroke="#2a2aa8" stroke-width="0.6"/>
<circle cx="346.11" cy="143.89" r="0.95" fill="none" stroke="#2a2aa8" stroke-width="0.6"/>
<circle cx="349.52" cy="156.86" r="0.95" fill="none" stroke="#2a2aa8" stroke-width="0.6"/>
<circle cx="344.93" cy="154.21" r="0.95" fill="none" stroke="#2a2aa8" stroke-width="0.6"/>
<circle cx="346.86" cy="145.11" r="0.95" fill="none" stroke="#2a2aa8" stroke-width="0.6"/>
<circle cx="346.16" cy="153.76" r="0.95" fill="none" stroke="#2a2aa8" stroke-width="0.6"/>
<circle cx="349.64" cy="143.62" r="0.95" fill="none" stroke="#2a2aa8" stroke-width="0.6"/>
<circle cx="348.09" cy="143.63" r="0.95" fill="none" stroke="#2a2aa8" stroke-width="0.6"/>
<circle cx="348.71" cy="147.63" r="0.95" fill="none" stroke="#2a2aa8" stroke-width="0.6"/>
<circle cx="349.69" cy="156.73" r="0.95" fill="none" stroke="#2a2aa8" stroke-width="0.6"/>
<circle cx="347.43" cy="156.98" r="0.95" fill="none" stroke="#2a2aa8" stroke-width="0.6"/>
<circle cx="346.26" cy="144.08" r="0.95" fill="none" stroke="#2a2aa8" stroke-width="0.6"/>
<circle cx="348" cy="143.44" r="0.95" fill="none" stroke="#2a2aa8" stroke-width="0.6"/>
<path d="M326 119.4 V118.2 H347.1 V119.4" fill="none" stroke="#666" stroke-width="0.5"/>
<path d="M336.5 122.4 V121.2 H347.1 V122.4" fill="none" stroke="#666" stroke-width="0.5"/>
<text x="336.55" y="117.9" font-size="2.2" text-anchor="middle" fill="#777">****</text>
<text x="341.8" y="120.9" font-size="2.2" text-anchor="middle" fill="#777">****</text>
<text x="379.4" y="115.4" font-size="4.3" font-weight="bold" text-anchor="middle" fill="#222" stroke="#222" stroke-width="0.15">CD49a</text>
<line x1="363.5" y1="119" x2="363.5" y2="159" stroke="#333" stroke-width="0.8"/>
<line x1="363.5" y1="159" x2="395.5" y2="159" stroke="#222" stroke-width="0.8"/>
<line x1="362.5" y1="119" x2="363.5" y2="119" stroke="#444" stroke-width="0.45"/>
<rect x="356.48" y="118.25" width="5.52" height="1.5" fill="#8c8c8c"/>
<line x1="362.5" y1="129" x2="363.5" y2="129" stroke="#444" stroke-width="0.45"/>
<rect x="356.48" y="128.25" width="5.52" height="1.5" fill="#8c8c8c"/>
<line x1="362.5" y1="139" x2="363.5" y2="139" stroke="#444" stroke-width="0.45"/>
<rect x="356.48" y="138.25" width="5.52" height="1.5" fill="#8c8c8c"/>
<line x1="362.5" y1="149" x2="363.5" y2="149" stroke="#444" stroke-width="0.45"/>
<rect x="357.86" y="148.25" width="4.14" height="1.5" fill="#8c8c8c"/>
<line x1="362.5" y1="159" x2="363.5" y2="159" stroke="#444" stroke-width="0.45"/>
<rect x="360.62" y="158.25" width="1.38" height="1.5" fill="#8c8c8c"/>
<rect x="365.2" y="132.4" width="7.8" height="26.6" fill="#fff" stroke="#e8343c" stroke-width="0.95"/>
<rect x="375.2" y="133.9" width="7.8" height="25.1" fill="#fff" stroke="#3c9a3c" stroke-width="0.95"/>
<rect x="385.8" y="158" width="7.4" height="1" fill="#fff" stroke="#2a2aa8" stroke-width="0.95"/>
<circle cx="369" cy="124" r="0.95" fill="none" stroke="#e8343c" stroke-width="0.6"/>
<circle cx="367.5" cy="136.5" r="0.95" fill="none" stroke="#e8343c" stroke-width="0.6"/>
<circle cx="370.5" cy="135.5" r="0.95" fill="none" stroke="#e8343c" stroke-width="0.6"/>
<circle cx="379" cy="127" r="0.95" fill="none" stroke="#3c9a3c" stroke-width="0.6"/>
<circle cx="377.5" cy="138.5" r="0.95" fill="none" stroke="#3c9a3c" stroke-width="0.6"/>
<circle cx="380.5" cy="137.5" r="0.95" fill="none" stroke="#3c9a3c" stroke-width="0.6"/>
<circle cx="388" cy="157.5" r="0.95" fill="none" stroke="#2a2aa8" stroke-width="0.6"/>
<circle cx="390" cy="157.8" r="0.95" fill="none" stroke="#2a2aa8" stroke-width="0.6"/>
<circle cx="391.5" cy="157.3" r="0.95" fill="none" stroke="#2a2aa8" stroke-width="0.6"/>
<path d="M368.8 119.4 V118.2 H390 V119.4" fill="none" stroke="#666" stroke-width="0.5"/>
<path d="M378.3 122.4 V121.2 H390 V122.4" fill="none" stroke="#666" stroke-width="0.5"/>
<text x="379.4" y="117.9" font-size="2.2" text-anchor="middle" fill="#777">****</text>
<text x="384.15" y="120.9" font-size="2.2" text-anchor="middle" fill="#777">****</text>
<text x="291.5" y="167.3" font-size="4.3" font-weight="bold" text-anchor="middle" fill="#222" stroke="#222" stroke-width="0.15">CXCR6</text>
<line x1="275.7" y1="170.9" x2="275.7" y2="210.9" stroke="#333" stroke-width="0.8"/>
<line x1="275.7" y1="210.9" x2="307.7" y2="210.9" stroke="#222" stroke-width="0.8"/>
<line x1="274.7" y1="170.9" x2="275.7" y2="170.9" stroke="#444" stroke-width="0.45"/>
<rect x="267.3" y="170.15" width="6.9" height="1.5" fill="#8c8c8c"/>
<line x1="274.7" y1="178.9" x2="275.7" y2="178.9" stroke="#444" stroke-width="0.45"/>
<rect x="268.68" y="178.15" width="5.52" height="1.5" fill="#8c8c8c"/>
<line x1="274.7" y1="186.9" x2="275.7" y2="186.9" stroke="#444" stroke-width="0.45"/>
<rect x="268.68" y="186.15" width="5.52" height="1.5" fill="#8c8c8c"/>
<line x1="274.7" y1="194.9" x2="275.7" y2="194.9" stroke="#444" stroke-width="0.45"/>
<rect x="268.68" y="194.15" width="5.52" height="1.5" fill="#8c8c8c"/>
<line x1="274.7" y1="202.9" x2="275.7" y2="202.9" stroke="#444" stroke-width="0.45"/>
<rect x="268.68" y="202.15" width="5.52" height="1.5" fill="#8c8c8c"/>
<line x1="274.7" y1="210.9" x2="275.7" y2="210.9" stroke="#444" stroke-width="0.45"/>
<rect x="272.82" y="210.15" width="1.38" height="1.5" fill="#8c8c8c"/>
<text transform="translate(265.4 190.9) rotate(-90)" font-size="3" font-weight="bold" text-anchor="middle" fill="#333" stroke="#333" stroke-width="0.25">MFI</text>
<rect x="277" y="203.4" width="7.6" height="7.5" fill="#fff" stroke="#e8343c" stroke-width="0.95"/>
<rect x="287.5" y="208.3" width="7.9" height="2.6" fill="#fff" stroke="#3c9a3c" stroke-width="0.95"/>
<rect x="298" y="182.1" width="7.9" height="28.8" fill="#fff" stroke="#2a2aa8" stroke-width="0.95"/>
<circle cx="279" cy="202.5" r="0.95" fill="none" stroke="#e8343c" stroke-width="0.6"/>
<circle cx="281" cy="204" r="0.95" fill="none" stroke="#e8343c" stroke-width="0.6"/>
<circle cx="283" cy="202.8" r="0.95" fill="none" stroke="#e8343c" stroke-width="0.6"/>
<circle cx="289.5" cy="208" r="0.95" fill="none" stroke="#3c9a3c" stroke-width="0.6"/>
<circle cx="291.5" cy="207.5" r="0.95" fill="none" stroke="#3c9a3c" stroke-width="0.6"/>
<circle cx="293.5" cy="208.5" r="0.95" fill="none" stroke="#3c9a3c" stroke-width="0.6"/>
<circle cx="302" cy="177.8" r="0.95" fill="none" stroke="#2a2aa8" stroke-width="0.6"/>
<circle cx="300.5" cy="183" r="0.95" fill="none" stroke="#2a2aa8" stroke-width="0.6"/>
<circle cx="302.5" cy="186.6" r="0.95" fill="none" stroke="#2a2aa8" stroke-width="0.6"/>
<path d="M279.6 172.1 V170.9 H302.3 V172.1" fill="none" stroke="#666" stroke-width="0.5"/>
<path d="M290.5 174.6 V173.4 H302.3 V174.6" fill="none" stroke="#666" stroke-width="0.5"/>
<text x="290.95" y="170.6" font-size="2.2" text-anchor="middle" fill="#777">****</text>
<text x="296.4" y="173.1" font-size="2.2" text-anchor="middle" fill="#777">****</text>
<text x="335.6" y="167.3" font-size="4.3" font-weight="bold" text-anchor="middle" fill="#222" stroke="#222" stroke-width="0.15">NKp46</text>
<line x1="320.8" y1="170.9" x2="320.8" y2="211.3" stroke="#333" stroke-width="0.8"/>
<line x1="320.8" y1="211.3" x2="352.8" y2="211.3" stroke="#222" stroke-width="0.8"/>
<line x1="319.8" y1="170.9" x2="320.8" y2="170.9" stroke="#444" stroke-width="0.45"/>
<rect x="313.78" y="170.15" width="5.52" height="1.5" fill="#8c8c8c"/>
<line x1="319.8" y1="181" x2="320.8" y2="181" stroke="#444" stroke-width="0.45"/>
<rect x="313.78" y="180.25" width="5.52" height="1.5" fill="#8c8c8c"/>
<line x1="319.8" y1="191.1" x2="320.8" y2="191.1" stroke="#444" stroke-width="0.45"/>
<rect x="313.78" y="190.35" width="5.52" height="1.5" fill="#8c8c8c"/>
<line x1="319.8" y1="201.2" x2="320.8" y2="201.2" stroke="#444" stroke-width="0.45"/>
<rect x="313.78" y="200.45" width="5.52" height="1.5" fill="#8c8c8c"/>
<line x1="319.8" y1="211.3" x2="320.8" y2="211.3" stroke="#444" stroke-width="0.45"/>
<rect x="317.92" y="210.55" width="1.38" height="1.5" fill="#8c8c8c"/>
<rect x="321.8" y="208.9" width="7.8" height="2.4" fill="#fff" stroke="#e8343c" stroke-width="0.95"/>
<rect x="332.6" y="208.9" width="7.9" height="2.4" fill="#fff" stroke="#3c9a3c" stroke-width="0.95"/>
<rect x="343.4" y="179.7" width="7.9" height="31.6" fill="#fff" stroke="#2a2aa8" stroke-width="0.95"/>
<circle cx="323.5" cy="209" r="0.95" fill="none" stroke="#e8343c" stroke-width="0.6"/>
<circle cx="325.7" cy="208" r="0.95" fill="none" stroke="#e8343c" stroke-width="0.6"/>
<circle cx="328" cy="209" r="0.95" fill="none" stroke="#e8343c" stroke-width="0.6"/>
<circle cx="334.5" cy="209" r="0.95" fill="none" stroke="#3c9a3c" stroke-width="0.6"/>
<circle cx="336.5" cy="208" r="0.95" fill="none" stroke="#3c9a3c" stroke-width="0.6"/>
<circle cx="338.5" cy="209" r="0.95" fill="none" stroke="#3c9a3c" stroke-width="0.6"/>
<circle cx="347" cy="177.5" r="0.95" fill="none" stroke="#2a2aa8" stroke-width="0.6"/>
<circle cx="345.5" cy="181.5" r="0.95" fill="none" stroke="#2a2aa8" stroke-width="0.6"/>
<circle cx="348.5" cy="180" r="0.95" fill="none" stroke="#2a2aa8" stroke-width="0.6"/>
<path d="M325.7 172.1 V170.9 H347.4 V172.1" fill="none" stroke="#666" stroke-width="0.5"/>
<path d="M336.5 174.6 V173.4 H347.4 V174.6" fill="none" stroke="#666" stroke-width="0.5"/>
<text x="336.55" y="170.6" font-size="2.2" text-anchor="middle" fill="#777">****</text>
<text x="341.95" y="173.1" font-size="2.2" text-anchor="middle" fill="#777">****</text>
<text x="292.1" y="219.8" font-size="4.3" font-weight="bold" text-anchor="middle" fill="#222" stroke="#222" stroke-width="0.15">CD16</text>
<line x1="275.1" y1="223.4" x2="275.1" y2="263.2" stroke="#333" stroke-width="0.8"/>
<line x1="275.1" y1="263.2" x2="307.1" y2="263.2" stroke="#222" stroke-width="0.8"/>
<line x1="274.1" y1="223.4" x2="275.1" y2="223.4" stroke="#444" stroke-width="0.45"/>
<rect x="266.7" y="222.65" width="6.9" height="1.5" fill="#8c8c8c"/>
<line x1="274.1" y1="230.03" x2="275.1" y2="230.03" stroke="#444" stroke-width="0.45"/>
<rect x="266.7" y="229.28" width="6.9" height="1.5" fill="#8c8c8c"/>
<line x1="274.1" y1="236.67" x2="275.1" y2="236.67" stroke="#444" stroke-width="0.45"/>
<rect x="268.08" y="235.92" width="5.52" height="1.5" fill="#8c8c8c"/>
<line x1="274.1" y1="243.3" x2="275.1" y2="243.3" stroke="#444" stroke-width="0.45"/>
<rect x="268.08" y="242.55" width="5.52" height="1.5" fill="#8c8c8c"/>
<line x1="274.1" y1="249.93" x2="275.1" y2="249.93" stroke="#444" stroke-width="0.45"/>
<rect x="268.08" y="249.18" width="5.52" height="1.5" fill="#8c8c8c"/>
<line x1="274.1" y1="256.57" x2="275.1" y2="256.57" stroke="#444" stroke-width="0.45"/>
<rect x="268.08" y="255.82" width="5.52" height="1.5" fill="#8c8c8c"/>
<line x1="274.1" y1="263.2" x2="275.1" y2="263.2" stroke="#444" stroke-width="0.45"/>
<rect x="272.22" y="262.45" width="1.38" height="1.5" fill="#8c8c8c"/>
<text transform="translate(264.8 243.3) rotate(-90)" font-size="3" font-weight="bold" text-anchor="middle" fill="#333" stroke="#333" stroke-width="0.25">MFI</text>
<rect x="276" y="231.1" width="8.7" height="32.1" fill="#fff" stroke="#e8343c" stroke-width="0.95"/>
<rect x="287.1" y="231.1" width="8" height="32.1" fill="#fff" stroke="#3c9a3c" stroke-width="0.95"/>
<rect x="297.8" y="235.1" width="7.8" height="28.1" fill="#fff" stroke="#2a2aa8" stroke-width="0.95"/>
<circle cx="280.3" cy="228.5" r="0.95" fill="none" stroke="#e8343c" stroke-width="0.6"/>
<circle cx="279" cy="233" r="0.95" fill="none" stroke="#e8343c" stroke-width="0.6"/>
<circle cx="282" cy="232" r="0.95" fill="none" stroke="#e8343c" stroke-width="0.6"/>
<circle cx="291" cy="228.5" r="0.95" fill="none" stroke="#3c9a3c" stroke-width="0.6"/>
<circle cx="289.5" cy="232.5" r="0.95" fill="none" stroke="#3c9a3c" stroke-width="0.6"/>
<circle cx="292.5" cy="232" r="0.95" fill="none" stroke="#3c9a3c" stroke-width="0.6"/>
<circle cx="300.5" cy="234.5" r="0.95" fill="none" stroke="#2a2aa8" stroke-width="0.6"/>
<circle cx="302" cy="235.5" r="0.95" fill="none" stroke="#2a2aa8" stroke-width="0.6"/>
<circle cx="303.5" cy="234.8" r="0.95" fill="none" stroke="#2a2aa8" stroke-width="0.6"/>
<text x="335.1" y="219.8" font-size="4.3" font-weight="bold" text-anchor="middle" fill="#222" stroke="#222" stroke-width="0.15">CD27</text>
<line x1="321" y1="223.4" x2="321" y2="263.2" stroke="#333" stroke-width="0.8"/>
<line x1="321" y1="263.2" x2="353" y2="263.2" stroke="#222" stroke-width="0.8"/>
<line x1="320" y1="223.4" x2="321" y2="223.4" stroke="#444" stroke-width="0.45"/>
<rect x="312.6" y="222.65" width="6.9" height="1.5" fill="#8c8c8c"/>
<line x1="320" y1="236.67" x2="321" y2="236.67" stroke="#444" stroke-width="0.45"/>
<rect x="312.6" y="235.92" width="6.9" height="1.5" fill="#8c8c8c"/>
<line x1="320" y1="249.93" x2="321" y2="249.93" stroke="#444" stroke-width="0.45"/>
<rect x="313.98" y="249.18" width="5.52" height="1.5" fill="#8c8c8c"/>
<line x1="320" y1="263.2" x2="321" y2="263.2" stroke="#444" stroke-width="0.45"/>
<rect x="318.12" y="262.45" width="1.38" height="1.5" fill="#8c8c8c"/>
<rect x="322.7" y="260.2" width="8" height="3" fill="#fff" stroke="#e8343c" stroke-width="0.95"/>
<rect x="333.1" y="260.2" width="8" height="3" fill="#fff" stroke="#3c9a3c" stroke-width="0.95"/>
<rect x="344.1" y="232.7" width="8.1" height="30.5" fill="#fff" stroke="#2a2aa8" stroke-width="0.95"/>
<circle cx="324.5" cy="260" r="0.95" fill="none" stroke="#e8343c" stroke-width="0.6"/>
<circle cx="326.7" cy="259.5" r="0.95" fill="none" stroke="#e8343c" stroke-width="0.6"/>
<circle cx="329" cy="260" r="0.95" fill="none" stroke="#e8343c" stroke-width="0.6"/>
<circle cx="335" cy="260" r="0.95" fill="none" stroke="#3c9a3c" stroke-width="0.6"/>
<circle cx="337" cy="259.5" r="0.95" fill="none" stroke="#3c9a3c" stroke-width="0.6"/>
<circle cx="339" cy="260" r="0.95" fill="none" stroke="#3c9a3c" stroke-width="0.6"/>
<circle cx="347" cy="231" r="0.95" fill="none" stroke="#2a2aa8" stroke-width="0.6"/>
<circle cx="349" cy="232.5" r="0.95" fill="none" stroke="#2a2aa8" stroke-width="0.6"/>
<circle cx="348" cy="235" r="0.95" fill="none" stroke="#2a2aa8" stroke-width="0.6"/>
<path d="M327 224.6 V223.4 H348.2 V224.6" fill="none" stroke="#666" stroke-width="0.5"/>
<path d="M337.1 227.2 V226 H348.2 V227.2" fill="none" stroke="#666" stroke-width="0.5"/>
<text x="337.6" y="223.1" font-size="2.2" text-anchor="middle" fill="#777">****</text>
<text x="342.65" y="225.7" font-size="2.2" text-anchor="middle" fill="#777">****</text>
<text x="364.2" y="178.2" font-size="4.45" font-weight="bold" fill="#e8343c">CD8α<tspan font-size="3.6" dy="-2.4">high</tspan></text>
<text x="364.2" y="183.3" font-size="4.45" font-weight="bold" fill="#e8343c">blood NK cells</text>
<text x="364.2" y="190.8" font-size="4.45" font-weight="bold" fill="#3c9a3c">CD8α<tspan font-size="3.6" dy="-2.4">high</tspan></text>
<text x="364.2" y="196.3" font-size="4.45" font-weight="bold" fill="#3c9a3c">liver NK cells</text>
<text x="364.2" y="204.6" font-size="4.45" font-weight="bold" fill="#2c2ca0">CD8α<tspan font-size="3.6" dy="-2.4">dim</tspan></text>
<text x="364.2" y="209.9" font-size="4.45" font-weight="bold" fill="#2c2ca0">liver NK cells</text>
</svg></body></html>
